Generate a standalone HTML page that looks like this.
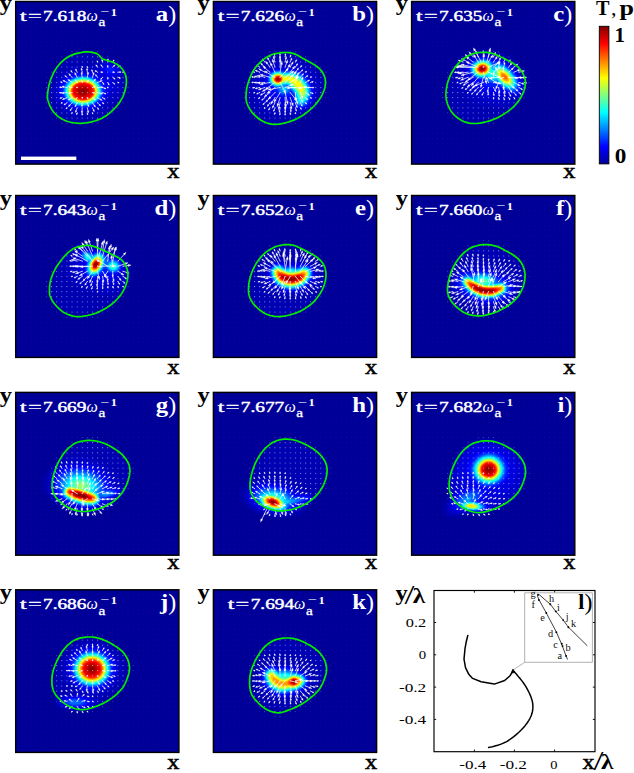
<!DOCTYPE html><html><head><meta charset="utf-8"><style>html,body{margin:0;padding:0;background:#fff}svg{display:block}</style></head><body>
<svg width="634" height="773" viewBox="0 0 634 773" font-family="'Liberation Serif', serif">
<defs><filter id="bl" x="-5%" y="-5%" width="110%" height="110%"><feGaussianBlur stdDeviation="4.5"/></filter>
<linearGradient id="cb" x1="0" y1="1" x2="0" y2="0">
<stop offset="0.0000" stop-color="#000098"/>
<stop offset="0.0312" stop-color="#0000b2"/>
<stop offset="0.0625" stop-color="#0000cb"/>
<stop offset="0.0938" stop-color="#0000e5"/>
<stop offset="0.1250" stop-color="#0000ff"/>
<stop offset="0.1562" stop-color="#0020ff"/>
<stop offset="0.1875" stop-color="#0040ff"/>
<stop offset="0.2188" stop-color="#0060ff"/>
<stop offset="0.2500" stop-color="#0080ff"/>
<stop offset="0.2812" stop-color="#009fff"/>
<stop offset="0.3125" stop-color="#00bfff"/>
<stop offset="0.3438" stop-color="#00dfff"/>
<stop offset="0.3750" stop-color="#00ffff"/>
<stop offset="0.4062" stop-color="#20ffdf"/>
<stop offset="0.4375" stop-color="#40ffbf"/>
<stop offset="0.4688" stop-color="#60ff9f"/>
<stop offset="0.5000" stop-color="#80ff80"/>
<stop offset="0.5312" stop-color="#9fff60"/>
<stop offset="0.5625" stop-color="#bfff40"/>
<stop offset="0.5938" stop-color="#dfff20"/>
<stop offset="0.6250" stop-color="#ffff00"/>
<stop offset="0.6562" stop-color="#ffdf00"/>
<stop offset="0.6875" stop-color="#ffbf00"/>
<stop offset="0.7188" stop-color="#ff9f00"/>
<stop offset="0.7500" stop-color="#ff8000"/>
<stop offset="0.7812" stop-color="#ff6000"/>
<stop offset="0.8125" stop-color="#ff4000"/>
<stop offset="0.8438" stop-color="#ff2000"/>
<stop offset="0.8750" stop-color="#ff0000"/>
<stop offset="0.9062" stop-color="#df0000"/>
<stop offset="0.9375" stop-color="#bf0000"/>
<stop offset="0.9688" stop-color="#9f0000"/>
<stop offset="1.0000" stop-color="#800000"/>
</linearGradient>
<clipPath id="ca"><rect x="15.7" y="1.5" width="163.2" height="162.6"/></clipPath>
<pattern id="da" x="15.45" y="5.40" width="5.1" height="5.1" patternUnits="userSpaceOnUse"><rect width="1" height="1" fill="#fff"/></pattern>
<mask id="ga"><path d="M47.4,95.6 47.6,93.9 47.8,92.0 48.1,89.8 48.5,87.6 48.9,85.4 49.5,83.3 50.1,81.2 50.8,79.1 51.7,77.0 52.6,75.0 53.5,72.9 54.6,71.0 55.8,69.1 57.0,67.3 58.4,65.5 59.8,63.8 61.3,62.2 62.8,60.8 64.4,59.5 66.0,58.3 67.7,57.2 69.4,56.2 71.2,55.4 73.1,54.6 75.0,53.9 77.2,53.3 79.4,52.8 81.5,52.5 83.5,52.2 85.4,51.9 87.0,51.8 88.4,51.8 89.7,52.0 90.9,52.1 92.1,52.3 93.2,52.6 94.2,52.8 95.1,53.1 96.0,53.4 96.8,53.7 97.5,54.1 98.3,54.6 99.0,55.2 99.6,55.9 100.2,56.7 100.8,57.4 101.5,58.1 102.2,58.7 103.0,59.1 103.8,59.5 104.7,59.7 105.6,60.0 106.5,60.2 107.5,60.6 108.5,60.9 109.6,61.2 110.7,61.5 111.9,61.9 113.0,62.3 114.1,62.8 115.1,63.4 116.2,64.0 117.3,64.6 118.3,65.3 119.3,66.1 120.2,66.9 121.1,67.8 122.0,68.8 122.8,69.8 123.5,70.9 124.2,72.0 124.7,73.1 125.2,74.2 125.6,75.3 125.9,76.5 126.1,77.7 126.3,78.9 126.4,80.2 126.4,81.6 126.3,83.1 126.2,84.7 126.0,86.2 125.7,87.8 125.3,89.5 124.9,91.1 124.3,92.8 123.7,94.6 123.0,96.3 122.1,98.1 121.2,99.7 120.3,101.3 119.2,102.9 118.0,104.5 116.8,106.0 115.5,107.5 114.1,108.9 112.6,110.4 111.0,111.9 109.3,113.3 107.5,114.7 105.7,116.0 103.8,117.1 101.9,118.2 99.9,119.1 97.8,119.9 95.7,120.7 93.6,121.3 91.5,121.9 89.5,122.3 87.4,122.7 85.4,123.0 83.3,123.2 81.3,123.3 79.2,123.3 77.1,123.2 75.0,123.0 72.9,122.7 70.8,122.3 68.8,121.8 66.9,121.2 65.2,120.6 63.5,119.8 61.9,119.0 60.4,118.1 59.0,117.1 57.7,116.1 56.4,115.0 55.3,113.9 54.2,112.7 53.2,111.4 52.3,110.2 51.5,108.9 50.8,107.7 50.2,106.5 49.7,105.3 49.2,104.1 48.8,102.9 48.5,101.8 48.1,100.8 47.8,99.9 47.6,99.0 47.5,98.1 47.4,97.0Z" fill="#fff" stroke="#fff" stroke-width="9" stroke-opacity="0.45"/></mask>
<clipPath id="cb"><rect x="213.4" y="1.5" width="163.2" height="162.6"/></clipPath>
<pattern id="db" x="213.25" y="5.40" width="5.1" height="5.1" patternUnits="userSpaceOnUse"><rect width="1" height="1" fill="#fff"/></pattern>
<mask id="gb"><path d="M246.0,97.7 246.0,95.9 246.1,93.9 246.3,91.8 246.5,89.7 246.9,87.5 247.4,85.4 248.0,83.2 248.8,80.9 249.6,78.6 250.5,76.3 251.5,74.1 252.6,72.0 253.7,70.1 255.0,68.3 256.3,66.5 257.8,64.8 259.2,63.3 260.8,61.8 262.3,60.4 263.9,59.1 265.6,57.9 267.4,56.8 269.2,55.9 271.0,55.0 273.0,54.3 275.0,53.7 277.2,53.3 279.3,53.0 281.4,52.7 283.3,52.6 285.2,52.5 287.0,52.5 288.7,52.7 290.4,52.9 292.0,53.2 293.6,53.6 295.1,54.1 296.5,54.7 297.9,55.4 299.2,56.2 300.5,57.0 301.8,57.7 303.0,58.4 304.2,59.0 305.4,59.7 306.6,60.4 307.8,61.1 308.9,61.8 310.2,62.4 311.4,63.1 312.6,63.7 313.8,64.4 315.0,65.1 316.1,65.9 317.2,66.8 318.4,67.7 319.5,68.7 320.5,69.8 321.4,70.9 322.3,72.0 323.0,73.3 323.7,74.6 324.3,75.9 324.7,77.4 325.1,78.8 325.3,80.2 325.5,81.7 325.5,83.2 325.3,84.7 325.1,86.3 324.8,87.9 324.3,89.5 323.7,91.1 323.0,92.8 322.2,94.6 321.3,96.3 320.3,98.1 319.2,99.7 318.0,101.3 316.8,102.9 315.5,104.5 314.1,106.0 312.6,107.5 311.0,108.9 309.3,110.4 307.5,111.9 305.6,113.3 303.7,114.7 301.7,116.0 299.7,117.1 297.7,118.2 295.7,119.2 293.7,120.1 291.6,120.9 289.5,121.6 287.4,122.3 285.2,122.9 283.0,123.4 280.7,123.8 278.4,124.1 276.2,124.3 274.1,124.3 272.1,124.2 270.1,123.8 268.2,123.4 266.3,122.8 264.5,122.1 262.8,121.2 261.1,120.3 259.4,119.2 257.8,118.0 256.3,116.7 254.9,115.4 253.6,114.1 252.4,112.8 251.3,111.4 250.4,110.0 249.5,108.6 248.7,107.2 248.0,105.9 247.5,104.5 247.0,103.3 246.6,102.0 246.3,100.7 246.1,99.3Z" fill="#fff" stroke="#fff" stroke-width="9" stroke-opacity="0.45"/></mask>
<clipPath id="cc"><rect x="411.6" y="1.5" width="163.2" height="162.6"/></clipPath>
<pattern id="dc" x="411.45" y="5.40" width="5.1" height="5.1" patternUnits="userSpaceOnUse"><rect width="1" height="1" fill="#fff"/></pattern>
<mask id="gc"><path d="M446.0,96.9 445.9,94.8 446.0,92.6 446.2,90.4 446.5,88.0 446.9,85.8 447.4,83.6 448.0,81.4 448.8,79.3 449.6,77.2 450.5,75.2 451.5,73.2 452.6,71.3 453.7,69.4 455.0,67.6 456.3,65.8 457.8,64.1 459.2,62.5 460.8,61.0 462.3,59.7 464.0,58.4 465.8,57.2 467.5,56.2 469.3,55.2 471.0,54.4 472.7,53.8 474.4,53.3 476.1,53.0 477.8,52.7 479.6,52.5 481.3,52.4 483.0,52.3 484.7,52.4 486.5,52.4 488.2,52.6 489.9,52.9 491.5,53.2 493.1,53.7 494.7,54.2 496.3,54.9 497.8,55.5 499.3,56.2 500.7,56.9 502.2,57.6 503.7,58.3 505.1,59.0 506.5,59.7 507.8,60.4 508.9,61.0 510.0,61.6 510.9,62.1 511.7,62.5 512.5,63.0 513.3,63.5 514.1,64.1 514.9,64.7 515.8,65.3 516.7,65.9 517.6,66.6 518.4,67.4 519.2,68.2 520.0,69.1 520.7,70.0 521.4,71.1 522.1,72.1 522.7,73.2 523.3,74.3 523.8,75.5 524.3,76.6 524.7,77.7 525.0,78.9 525.2,80.2 525.3,81.5 525.3,82.9 525.2,84.4 525.1,86.0 524.8,87.6 524.4,89.2 523.9,90.7 523.3,92.3 522.7,93.9 521.9,95.4 521.1,97.0 520.2,98.5 519.2,100.0 518.2,101.4 517.1,102.8 516.0,104.2 514.7,105.6 513.4,106.9 512.0,108.2 510.5,109.4 508.9,110.7 507.2,111.9 505.4,113.1 503.6,114.3 501.8,115.3 499.9,116.4 497.9,117.4 495.9,118.4 493.8,119.3 491.7,120.1 489.5,120.9 487.2,121.5 484.7,122.2 482.2,122.7 479.7,123.1 477.3,123.4 475.1,123.5 473.0,123.5 471.0,123.4 469.2,123.1 467.3,122.7 465.6,122.1 463.8,121.5 462.1,120.7 460.5,119.8 458.9,118.8 457.3,117.7 455.9,116.5 454.6,115.3 453.4,114.1 452.3,112.8 451.3,111.5 450.4,110.1 449.6,108.7 448.9,107.1 448.2,105.6 447.5,104.0 447.0,102.3 446.5,100.6 446.2,98.8Z" fill="#fff" stroke="#fff" stroke-width="9" stroke-opacity="0.45"/></mask>
<clipPath id="cd"><rect x="15.7" y="195.5" width="163.2" height="161.9"/></clipPath>
<pattern id="dd" x="15.45" y="199.40" width="5.1" height="5.1" patternUnits="userSpaceOnUse"><rect width="1" height="1" fill="#fff"/></pattern>
<mask id="gd"><path d="M49.5,291.9 49.5,290.3 49.5,288.6 49.6,286.6 49.8,284.6 50.1,282.6 50.5,280.6 51.1,278.6 51.8,276.6 52.6,274.5 53.5,272.4 54.6,270.3 55.6,268.3 56.8,266.3 58.1,264.4 59.5,262.4 60.9,260.5 62.4,258.7 63.8,257.0 65.3,255.4 66.8,253.9 68.3,252.4 69.9,251.1 71.5,249.9 73.1,248.8 74.7,248.0 76.5,247.3 78.3,246.8 80.0,246.4 81.7,246.0 83.3,245.8 84.8,245.5 86.2,245.4 87.5,245.4 88.9,245.4 90.2,245.5 91.5,245.8 92.9,246.1 94.3,246.6 95.7,247.1 97.1,247.7 98.4,248.3 99.7,248.8 101.0,249.3 102.2,249.9 103.4,250.4 104.6,250.9 105.8,251.4 106.9,251.9 108.0,252.4 109.0,252.9 110.0,253.4 111.0,254.0 112.0,254.5 113.0,255.0 114.1,255.5 115.1,255.9 116.2,256.4 117.2,256.9 118.2,257.4 119.2,258.1 120.1,258.8 121.1,259.5 122.0,260.4 122.8,261.2 123.6,262.2 124.3,263.2 125.0,264.3 125.6,265.4 126.2,266.6 126.7,267.8 127.1,269.1 127.4,270.4 127.6,271.6 127.8,272.9 127.9,274.3 127.9,275.6 127.8,277.1 127.6,278.6 127.3,280.2 126.9,281.9 126.4,283.6 125.8,285.4 125.1,287.1 124.3,288.8 123.5,290.4 122.6,292.0 121.6,293.6 120.6,295.1 119.4,296.6 118.2,298.0 116.8,299.5 115.4,300.9 113.9,302.3 112.3,303.7 110.6,305.0 108.9,306.2 107.2,307.4 105.4,308.5 103.5,309.6 101.6,310.6 99.6,311.6 97.7,312.4 95.7,313.2 93.6,313.9 91.5,314.5 89.3,315.0 87.3,315.5 85.4,315.9 83.5,316.2 81.8,316.5 80.2,316.7 78.5,316.7 76.9,316.7 75.1,316.5 73.3,316.1 71.3,315.6 69.3,314.9 67.4,314.2 65.5,313.3 63.8,312.4 62.2,311.4 60.7,310.2 59.3,309.0 58.0,307.7 56.8,306.5 55.6,305.2 54.6,304.0 53.7,302.8 52.8,301.6 52.1,300.4 51.5,299.2 50.9,298.0 50.5,297.0 50.1,296.1 49.8,295.2 49.7,294.3 49.5,293.2Z" fill="#fff" stroke="#fff" stroke-width="9" stroke-opacity="0.45"/></mask>
<clipPath id="ce"><rect x="213.4" y="195.5" width="163.2" height="161.9"/></clipPath>
<pattern id="de" x="213.25" y="199.40" width="5.1" height="5.1" patternUnits="userSpaceOnUse"><rect width="1" height="1" fill="#fff"/></pattern>
<mask id="ge"><path d="M248.5,290.9 248.5,289.1 248.6,287.1 248.7,285.0 249.0,282.8 249.4,280.7 249.9,278.6 250.4,276.5 251.1,274.4 251.8,272.3 252.7,270.3 253.6,268.3 254.6,266.3 255.7,264.3 257.0,262.3 258.4,260.3 259.8,258.4 261.3,256.6 262.8,255.0 264.4,253.5 266.0,252.1 267.7,250.9 269.5,249.7 271.3,248.7 273.1,247.8 274.9,247.0 276.8,246.3 278.8,245.8 280.7,245.3 282.6,245.0 284.3,244.7 286.0,244.6 287.6,244.6 289.1,244.6 290.6,244.8 292.1,245.0 293.6,245.3 295.0,245.8 296.4,246.3 297.8,246.9 299.1,247.5 300.5,248.2 301.8,248.8 303.0,249.4 304.3,250.1 305.5,250.7 306.7,251.3 307.8,251.9 308.9,252.5 310.0,253.1 311.1,253.7 312.1,254.2 313.2,254.8 314.1,255.4 315.1,256.0 316.0,256.6 316.9,257.3 317.8,257.9 318.6,258.6 319.4,259.3 320.2,260.1 321.0,261.0 321.8,261.9 322.5,262.9 323.2,264.0 323.8,265.1 324.3,266.3 324.8,267.5 325.2,268.8 325.5,270.1 325.7,271.5 325.9,273.0 326.0,274.5 325.9,276.1 325.8,277.7 325.6,279.5 325.2,281.2 324.8,283.0 324.3,284.7 323.7,286.4 323.0,288.2 322.2,289.9 321.3,291.6 320.3,293.3 319.2,295.0 318.0,296.6 316.8,298.2 315.5,299.8 314.1,301.3 312.6,302.8 311.0,304.2 309.3,305.5 307.5,306.9 305.6,308.1 303.7,309.3 301.7,310.4 299.7,311.4 297.7,312.3 295.7,313.1 293.6,313.8 291.5,314.4 289.4,315.0 287.4,315.5 285.5,315.9 283.6,316.2 281.7,316.4 279.9,316.6 278.0,316.6 276.1,316.5 274.2,316.3 272.3,315.9 270.4,315.5 268.5,314.9 266.6,314.2 264.9,313.4 263.2,312.5 261.5,311.3 259.9,310.1 258.3,308.8 256.9,307.5 255.6,306.2 254.5,305.1 253.5,303.9 252.6,302.7 251.8,301.5 251.1,300.3 250.5,299.1 249.9,297.8 249.5,296.6 249.1,295.3 248.8,293.9 248.6,292.5Z" fill="#fff" stroke="#fff" stroke-width="9" stroke-opacity="0.45"/></mask>
<clipPath id="cf"><rect x="411.6" y="195.5" width="163.2" height="161.9"/></clipPath>
<pattern id="df" x="411.45" y="199.40" width="5.1" height="5.1" patternUnits="userSpaceOnUse"><rect width="1" height="1" fill="#fff"/></pattern>
<mask id="gf"><path d="M447.6,291.9 447.5,290.2 447.5,288.4 447.6,286.5 447.9,284.6 448.2,282.6 448.6,280.6 449.1,278.6 449.6,276.6 450.2,274.5 451.0,272.4 451.8,270.3 452.7,268.3 453.7,266.3 454.8,264.4 455.9,262.4 457.2,260.5 458.5,258.7 459.9,257.0 461.3,255.4 462.7,253.9 464.3,252.5 465.9,251.1 467.5,249.9 469.1,248.8 470.7,247.9 472.5,247.1 474.2,246.5 476.0,246.0 477.7,245.5 479.3,245.1 480.9,244.9 482.5,244.7 484.0,244.6 485.5,244.6 487.0,244.6 488.6,244.7 490.1,244.9 491.7,245.2 493.2,245.5 494.8,245.9 496.3,246.3 497.8,246.8 499.2,247.3 500.6,248.0 502.0,248.7 503.4,249.4 504.7,250.2 506.0,250.9 507.3,251.6 508.5,252.2 509.7,252.9 510.9,253.5 512.0,254.2 513.2,255.0 514.3,255.8 515.4,256.5 516.4,257.4 517.5,258.2 518.4,259.1 519.3,260.1 520.2,261.2 520.9,262.3 521.7,263.5 522.3,264.7 522.9,266.0 523.4,267.3 523.9,268.6 524.3,269.9 524.6,271.2 524.9,272.6 525.0,274.0 525.1,275.5 525.0,277.1 524.9,278.8 524.7,280.5 524.3,282.2 523.9,284.0 523.4,285.7 522.8,287.5 522.1,289.2 521.3,291.0 520.4,292.7 519.4,294.4 518.3,296.0 517.1,297.5 515.9,299.0 514.5,300.4 513.1,301.7 511.6,303.0 510.1,304.2 508.5,305.4 506.9,306.5 505.2,307.5 503.4,308.5 501.6,309.5 499.8,310.3 498.0,311.2 496.2,312.0 494.3,312.7 492.4,313.4 490.5,313.9 488.6,314.4 486.7,314.9 484.8,315.3 482.9,315.6 481.0,315.8 479.2,315.9 477.3,315.9 475.4,315.7 473.5,315.5 471.5,315.1 469.6,314.7 467.8,314.1 466.0,313.4 464.3,312.6 462.7,311.7 461.1,310.6 459.6,309.5 458.1,308.4 456.8,307.3 455.5,306.1 454.4,305.0 453.3,303.8 452.3,302.6 451.4,301.4 450.6,300.1 449.9,298.8 449.2,297.6 448.6,296.2 448.2,294.9 447.8,293.4Z" fill="#fff" stroke="#fff" stroke-width="9" stroke-opacity="0.45"/></mask>
<clipPath id="cg"><rect x="15.7" y="392.4" width="163.2" height="162.8"/></clipPath>
<pattern id="dg" x="15.45" y="396.30" width="5.1" height="5.1" patternUnits="userSpaceOnUse"><rect width="1" height="1" fill="#fff"/></pattern>
<mask id="gg"><path d="M52.1,487.9 52.1,486.2 52.1,484.4 52.2,482.6 52.4,480.6 52.8,478.7 53.2,476.6 53.7,474.6 54.3,472.4 55.0,470.2 55.9,468.0 56.7,465.8 57.7,463.7 58.7,461.7 59.8,459.6 61.0,457.6 62.2,455.6 63.5,453.8 64.9,452.0 66.3,450.4 67.7,448.9 69.3,447.4 70.9,446.1 72.5,444.9 74.1,443.8 75.7,443.0 77.4,442.3 79.1,441.8 80.9,441.4 82.6,441.0 84.3,440.8 86.1,440.6 87.8,440.4 89.5,440.4 91.2,440.5 92.9,440.6 94.6,440.8 96.2,441.0 97.8,441.3 99.3,441.7 100.9,442.2 102.4,442.7 103.8,443.2 105.3,443.8 106.7,444.4 108.0,445.1 109.4,445.8 110.7,446.6 112.0,447.3 113.3,448.1 114.5,448.8 115.8,449.6 117.0,450.4 118.1,451.2 119.2,452.0 120.2,452.9 121.2,453.8 122.2,454.7 123.1,455.6 123.9,456.6 124.7,457.6 125.5,458.6 126.3,459.7 127.1,460.9 127.7,462.0 128.3,463.2 128.8,464.3 129.2,465.5 129.5,466.6 129.7,467.8 129.8,469.0 129.9,470.2 129.9,471.5 129.7,472.9 129.6,474.4 129.3,475.9 128.9,477.5 128.5,479.1 128.0,480.7 127.4,482.4 126.8,484.1 126.1,485.9 125.2,487.6 124.3,489.3 123.3,491.0 122.2,492.6 120.9,494.3 119.5,495.9 118.1,497.4 116.6,498.9 115.1,500.2 113.5,501.5 111.9,502.6 110.2,503.6 108.4,504.6 106.6,505.5 104.8,506.4 103.0,507.2 101.2,507.9 99.3,508.5 97.4,509.1 95.5,509.6 93.6,510.1 91.7,510.5 89.8,510.9 87.9,511.2 86.0,511.4 84.2,511.5 82.3,511.5 80.4,511.3 78.5,511.0 76.5,510.6 74.6,510.1 72.8,509.5 71.0,508.8 69.3,508.1 67.7,507.3 66.1,506.3 64.6,505.4 63.2,504.3 61.8,503.3 60.5,502.2 59.2,501.1 58.0,499.9 56.9,498.6 55.9,497.4 55.0,496.1 54.3,494.8 53.6,493.6 53.1,492.3 52.7,490.9 52.4,489.5Z" fill="#fff" stroke="#fff" stroke-width="9" stroke-opacity="0.45"/></mask>
<clipPath id="ch"><rect x="213.4" y="392.4" width="163.2" height="162.8"/></clipPath>
<pattern id="dh" x="213.25" y="396.30" width="5.1" height="5.1" patternUnits="userSpaceOnUse"><rect width="1" height="1" fill="#fff"/></pattern>
<mask id="gh"><path d="M250.0,486.9 250.0,485.2 250.1,483.4 250.2,481.6 250.5,479.6 250.8,477.6 251.2,475.6 251.8,473.5 252.4,471.2 253.1,469.0 253.9,466.7 254.8,464.4 255.8,462.3 256.8,460.3 257.9,458.3 259.1,456.3 260.3,454.5 261.6,452.7 262.9,451.0 264.3,449.4 265.8,447.9 267.4,446.4 268.9,445.1 270.5,443.9 272.2,442.8 273.8,441.9 275.5,441.2 277.2,440.5 279.0,440.0 280.7,439.6 282.4,439.3 284.1,439.1 285.9,439.1 287.6,439.1 289.3,439.3 291.0,439.5 292.7,439.7 294.3,440.1 295.9,440.5 297.4,441.0 298.9,441.6 300.4,442.2 301.9,442.8 303.3,443.4 304.7,444.1 306.1,444.7 307.5,445.4 308.8,446.2 310.1,446.9 311.4,447.7 312.6,448.5 313.8,449.3 315.0,450.2 316.2,451.1 317.3,452.0 318.3,453.0 319.4,454.0 320.4,455.0 321.3,456.0 322.2,457.1 323.0,458.2 323.8,459.3 324.5,460.5 325.1,461.6 325.6,462.9 326.1,464.1 326.5,465.4 326.8,466.7 327.0,468.0 327.1,469.3 327.1,470.7 327.0,472.1 326.9,473.6 326.7,475.0 326.4,476.6 326.0,478.1 325.6,479.7 325.0,481.2 324.4,482.8 323.8,484.3 323.1,485.9 322.2,487.5 321.4,489.0 320.4,490.5 319.3,492.0 318.2,493.5 316.9,494.9 315.5,496.3 314.1,497.7 312.6,499.0 311.1,500.2 309.5,501.4 307.9,502.5 306.2,503.6 304.4,504.6 302.7,505.5 300.9,506.4 299.0,507.1 297.2,507.8 295.3,508.4 293.4,509.0 291.5,509.5 289.6,509.9 287.7,510.2 285.8,510.5 284.0,510.8 282.1,510.9 280.2,511.0 278.3,510.9 276.4,510.7 274.5,510.3 272.5,509.9 270.6,509.3 268.8,508.7 267.0,508.0 265.3,507.2 263.7,506.4 262.1,505.4 260.5,504.4 259.1,503.3 257.8,502.3 256.6,501.2 255.5,500.0 254.5,498.8 253.6,497.6 252.8,496.4 252.1,495.1 251.5,493.8 251.0,492.6 250.6,491.2 250.3,489.9 250.1,488.4Z" fill="#fff" stroke="#fff" stroke-width="9" stroke-opacity="0.45"/></mask>
<clipPath id="ci"><rect x="411.6" y="392.4" width="163.2" height="162.8"/></clipPath>
<pattern id="di" x="411.45" y="396.30" width="5.1" height="5.1" patternUnits="userSpaceOnUse"><rect width="1" height="1" fill="#fff"/></pattern>
<mask id="gi"><path d="M449.2,486.9 449.1,485.1 449.2,483.3 449.3,481.4 449.5,479.5 449.8,477.6 450.2,475.6 450.7,473.6 451.4,471.6 452.1,469.5 452.9,467.4 453.8,465.3 454.7,463.3 455.7,461.3 456.9,459.3 458.0,457.4 459.3,455.5 460.6,453.7 461.9,452.0 463.3,450.5 464.8,449.1 466.3,447.7 467.9,446.5 469.5,445.4 471.1,444.4 472.8,443.6 474.5,442.9 476.2,442.3 477.9,441.9 479.7,441.5 481.4,441.2 483.1,440.9 484.8,440.8 486.6,440.8 488.3,440.8 490.0,441.0 491.6,441.2 493.2,441.4 494.8,441.8 496.4,442.2 497.9,442.7 499.4,443.3 500.9,443.8 502.3,444.4 503.8,445.1 505.2,445.8 506.5,446.5 507.8,447.2 509.1,447.9 510.2,448.6 511.3,449.2 512.3,449.9 513.3,450.5 514.2,451.2 515.2,452.0 516.2,452.9 517.2,453.9 518.2,454.9 519.2,456.0 520.1,457.1 521.0,458.2 521.7,459.3 522.5,460.5 523.1,461.6 523.7,462.9 524.2,464.1 524.7,465.4 525.0,466.7 525.3,468.0 525.4,469.3 525.5,470.7 525.6,472.1 525.5,473.6 525.3,475.0 525.0,476.6 524.6,478.1 524.1,479.7 523.6,481.2 523.0,482.8 522.4,484.3 521.7,485.9 521.0,487.5 520.2,489.0 519.3,490.5 518.3,492.0 517.2,493.5 515.9,494.9 514.5,496.3 513.1,497.7 511.6,499.0 510.1,500.2 508.5,501.4 506.9,502.5 505.2,503.5 503.4,504.5 501.6,505.5 499.8,506.4 498.0,507.3 496.2,508.1 494.3,508.9 492.4,509.7 490.5,510.3 488.6,510.9 486.7,511.4 484.8,511.8 482.9,512.2 481.0,512.4 479.2,512.6 477.3,512.5 475.4,512.3 473.5,512.0 471.5,511.5 469.6,510.9 467.8,510.2 466.0,509.4 464.3,508.6 462.6,507.7 461.0,506.6 459.5,505.5 458.1,504.4 456.8,503.3 455.6,502.2 454.5,501.1 453.6,499.9 452.7,498.7 451.9,497.4 451.2,496.1 450.7,494.7 450.2,493.3 449.8,491.8 449.5,490.2 449.3,488.6Z" fill="#fff" stroke="#fff" stroke-width="9" stroke-opacity="0.45"/></mask>
<clipPath id="cj"><rect x="15.7" y="589.8" width="163.2" height="162.6"/></clipPath>
<pattern id="dj" x="15.45" y="593.70" width="5.1" height="5.1" patternUnits="userSpaceOnUse"><rect width="1" height="1" fill="#fff"/></pattern>
<mask id="gj"><path d="M51.9,683.0 51.9,681.3 51.9,679.5 52.0,677.6 52.2,675.7 52.5,673.7 53.0,671.8 53.5,669.8 54.2,667.7 54.9,665.6 55.8,663.5 56.7,661.5 57.7,659.5 58.7,657.5 59.8,655.5 61.0,653.5 62.2,651.6 63.5,649.9 64.9,648.2 66.3,646.6 67.7,645.2 69.3,643.8 70.9,642.5 72.5,641.4 74.1,640.4 75.7,639.6 77.4,638.9 79.1,638.4 80.9,637.9 82.6,637.6 84.3,637.3 86.1,637.1 87.8,637.0 89.5,637.0 91.2,637.0 92.9,637.1 94.6,637.3 96.2,637.6 97.8,638.0 99.3,638.4 100.9,638.9 102.4,639.4 103.8,640.0 105.3,640.6 106.7,641.2 108.0,641.9 109.4,642.6 110.7,643.3 112.0,644.1 113.3,644.8 114.5,645.6 115.8,646.4 117.0,647.1 118.1,648.0 119.2,648.8 120.2,649.7 121.2,650.5 122.2,651.4 123.1,652.3 123.9,653.3 124.7,654.3 125.5,655.4 126.2,656.6 126.9,657.8 127.5,659.0 128.0,660.2 128.4,661.5 128.8,662.8 129.1,664.1 129.3,665.5 129.5,666.9 129.5,668.3 129.4,669.7 129.3,671.2 129.0,672.7 128.6,674.3 128.1,675.8 127.6,677.4 127.0,678.9 126.4,680.5 125.7,682.1 125.0,683.6 124.2,685.2 123.3,686.7 122.3,688.2 121.1,689.6 119.9,691.0 118.5,692.4 117.1,693.8 115.6,695.1 114.1,696.4 112.5,697.6 110.8,698.7 109.1,699.9 107.4,700.9 105.6,702.0 103.8,702.9 102.0,703.9 100.1,704.7 98.2,705.6 96.3,706.3 94.4,707.0 92.5,707.6 90.7,708.2 88.8,708.7 86.9,709.2 85.0,709.5 83.1,709.7 81.3,709.7 79.4,709.5 77.4,709.2 75.5,708.7 73.6,708.1 71.7,707.4 70.0,706.6 68.3,705.8 66.7,704.9 65.1,703.9 63.6,702.8 62.1,701.7 60.8,700.5 59.5,699.2 58.2,697.9 57.0,696.6 56.0,695.2 55.0,693.7 54.2,692.3 53.5,690.8 53.0,689.3 52.6,687.8 52.3,686.3 52.1,684.7Z" fill="#fff" stroke="#fff" stroke-width="9" stroke-opacity="0.45"/></mask>
<clipPath id="ck"><rect x="213.4" y="589.8" width="163.2" height="162.6"/></clipPath>
<pattern id="dk" x="213.25" y="593.70" width="5.1" height="5.1" patternUnits="userSpaceOnUse"><rect width="1" height="1" fill="#fff"/></pattern>
<mask id="gk"><path d="M249.6,684.1 249.6,682.3 249.6,680.4 249.7,678.6 249.9,676.7 250.2,674.7 250.6,672.8 251.2,670.8 251.8,668.7 252.6,666.6 253.5,664.6 254.4,662.5 255.3,660.5 256.4,658.5 257.5,656.5 258.7,654.6 259.9,652.7 261.2,650.9 262.5,649.2 263.9,647.7 265.4,646.2 266.9,644.8 268.5,643.5 270.1,642.4 271.8,641.4 273.4,640.6 275.1,639.9 276.8,639.4 278.5,639.0 280.3,638.6 282.0,638.3 283.7,638.1 285.5,638.0 287.2,638.0 288.9,638.0 290.6,638.2 292.3,638.3 293.8,638.6 295.4,639.0 296.9,639.4 298.4,639.9 299.8,640.5 301.3,641.0 302.7,641.6 304.1,642.3 305.5,642.9 306.9,643.7 308.2,644.4 309.5,645.1 310.7,645.8 311.9,646.5 313.0,647.3 314.1,648.0 315.2,648.8 316.2,649.6 317.3,650.5 318.3,651.4 319.2,652.3 320.1,653.3 321.0,654.3 321.8,655.4 322.5,656.5 323.2,657.6 323.9,658.8 324.5,660.0 325.0,661.3 325.5,662.5 325.8,663.8 326.1,665.2 326.4,666.5 326.5,667.9 326.6,669.3 326.5,670.7 326.3,672.2 326.0,673.7 325.6,675.3 325.2,676.9 324.6,678.4 324.0,680.0 323.4,681.5 322.8,683.1 322.0,684.6 321.2,686.2 320.3,687.7 319.3,689.2 318.2,690.6 316.9,692.0 315.6,693.4 314.1,694.8 312.6,696.1 311.1,697.4 309.5,698.7 307.9,699.9 306.2,701.2 304.4,702.4 302.7,703.5 300.9,704.6 299.0,705.6 297.2,706.5 295.3,707.4 293.4,708.2 291.5,709.0 289.6,709.7 287.7,710.4 285.8,711.1 284.0,711.8 282.1,712.3 280.2,712.6 278.3,712.8 276.4,712.7 274.5,712.4 272.5,711.9 270.6,711.3 268.8,710.5 267.0,709.7 265.3,708.8 263.7,707.6 262.1,706.4 260.6,705.1 259.1,703.8 257.8,702.5 256.6,701.2 255.4,699.9 254.3,698.6 253.3,697.2 252.4,695.8 251.7,694.3 251.0,692.7 250.6,691.1 250.2,689.4 249.9,687.6 249.7,685.9Z" fill="#fff" stroke="#fff" stroke-width="9" stroke-opacity="0.45"/></mask>
</defs>
<rect width="634" height="773" fill="#fff"/>
<g clip-path="url(#ca)">
<rect x="15.7" y="1.5" width="163.2" height="162.6" fill="#000098"/>
<g filter="url(#bl)" transform="scale(0.1)"><path fill="#0000a2" d="M825,515l31,-3 30,0 30,3 25,6 30,12 37,22 18,9 20,6 60,13 30,9 35,16 25,16 20,17 18,19 14,20 12,25 8,25 12,55 3,30-1,30-6,40-11,40-17,40-20,35-24,35-41,50-37,37-35,29-35,24-40,22-40,17-40,12-45,11-40,6-40,2-45,-2-35,-4-30,-6-30,-9-30,-11-30,-15-25,-16-22,-17-21,-20-21,-25-17,-25-17,-30-12,-30-10,-30-5,-25-2,-25 1,-30 5,-40 9,-40 10,-35 15,-40 17,-35 20,-35 25,-35 25,-30 20,-22 25,-21 30,-21 30,-17 30,-13 30,-10 35,-9 39,-7z"/>
<path fill="#0000b3" d="M820,550l51,-5 45,5 30,9 30,14 30,10 80,13 30,7 30,11 30,17 20,15 19,19 14,20 10,20 9,35 1,30 7,35 0,35-4,35-10,35-14,35-19,35-28,38-45,52-29,30-29,25-32,22-30,18-35,16-40,14-40,10-40,7-40,3-40,0-60,-8-27,-7-29,-10-24,-10-26,-15-24,-17-20,-18-20,-21-18,-24-14,-25-13,-26-10,-29-5,-25-3,-25 1,-25 4,-35 6,-35 10,-35 12,-35 15,-33 16,-27 19,-30 25,-31 23,-24 22,-20 28,-20 27,-17 29,-13 28,-10 33,-9 34,-6z"/>
<path fill="#0000bf" d="M1002,610l29,-3 40,0 30,5 30,9 25,12 24,17 20,20 14,20 10,25 3,20-2,25-8,20 7,35 0,40-6,30-9,25-13,26-15,22-15,18-20,19-20,14-29,16-14,20-18,20-19,18-22,17-24,15-29,15-30,11-30,9-35,7-40,3-40,-1-35,-5-35,-8-35,-13-35,-18-30,-20-35,-32-28,-38-20,-45-9,-40 0,-50 10,-40 22,-50 22,-35 23,-26 30,-25 30,-18 35,-16 40,-12 45,-8 45,-2 50,4 35,-13 35,-7 5,-3 6,-9 11,-10 9,-5 15,-5z"/>
<path fill="#0000ce" d="M1047,620l24,-1 30,4 30,10 25,13 24,19 16,20 9,20 4,25-2,15-7,15-9,10-22,15 10,30 2,30-5,30-12,30-14,20-19,20-20,15-25,14-20,37-29,34-21,18-25,16-25,13-25,10-25,8-30,7-30,3-30,1-30,-1-30,-5-30,-7-25,-8-25,-11-25,-14-25,-18-20,-18-23,-29-17,-30-11,-35-3,-35 4,-35 12,-35 18,-31 25,-29 25,-21 31,-19 34,-16 35,-11 35,-7 40,-3 40,1 45,6 35,-13 40,-8 6,-29 4,-10 8,-10 17,-12 15,-5 16,-3z"/>
<path fill="#0000e0" d="M1056,635l20,-2 25,3 25,8 21,11 19,15 15,20 7,20 1,15-2,10-6,10-16,15-24,9-35,3-3,3 15,20 9,25 2,25-5,25-6,15-10,15-12,12-15,12-11,41-14,30-18,25-20,20-19,15-23,15-25,12-25,10-25,7-30,5-55,2-30,-2-25,-5-50,-16-25,-12-20,-12-20,-15-19,-19-20,-25-15,-30-9,-30-2,-35 5,-35 12,-30 19,-30 24,-25 30,-23 35,-19 40,-15 40,-8 40,-3 40,2 35,6 50,15 35,-7 40,0 1,-3-11,-15-6,-15-2,-15 2,-15 6,-12 10,-11 13,-7 17,-5zM1031,735zM1101,770z"/>
<path fill="#0000f5" d="M1079,650l17,1 20,5 20,10 16,14 10,15 4,15-2,15-11,15-12,7-15,4-15,1-15,-2-15,-4-15,-7-11,-9-10,-10-7,-10-5,-15 0,-10 3,-10 6,-10 9,-7 15,-6 13,-2zM826,730l45,3 40,8 45,18 40,24 20,3 15,4 15,9 10,11 7,10 4,15-1,15-8,20 5,40-3,35-14,35-12,20-12,15-14,15-19,15-23,15-20,10-25,9-25,7-50,8-45,-1-45,-8-42,-15-38,-21-18,-14-16,-15-23,-30-16,-35-6,-35 2,-35 6,-20 6,-17 22,-33 28,-29 35,-23 40,-18 45,-11 45,-4z"/>
<path fill="#0012ff" d="M1076,670l10,-2 15,1 15,5 10,7 10,9 5,10 1,10-6,12-11,8-19,3-20,-5-15,-9-11,-14-2,-15 4,-10 5,-5 9,-5zM794,745l37,-2 35,2 35,7 35,12 30,16 27,20 23,25 16,25 10,25 5,30-2,30-9,30-13,25-22,26-25,21-30,18-45,17-45,8-50,0-45,-7-45,-17-35,-21-18,-15-14,-15-12,-15-11,-19-6,-16-5,-20-2,-35 8,-35 10,-20 10,-17 15,-18 15,-14 35,-23 40,-17 48,-11z"/>
<path fill="#0038ff" d="M791,760l25,-3 40,0 30,6 35,11 20,9 30,20 28,27 14,20 11,25 5,25 0,25-6,25-14,30-15,20-23,21-25,17-20,10-25,9-45,9-40,2-40,-6-45,-15-35,-20-25,-22-17,-20-9,-15-11,-30-3,-30 4,-30 10,-25 9,-15 22,-27 35,-26 30,-15 15,-5 35,-7z"/>
<path fill="#0066ff" d="M790,765l31,-3 35,1 30,5 30,10 30,14 25,18 20,20 15,20 11,25 5,25 0,25-5,25-12,25-14,20-21,20-24,17-39,18-41,10-45,2-40,-4-40,-12-35,-19-30,-24-21,-28-13,-30-3,-15-2,-20 2,-20 4,-15 14,-30 24,-29 30,-23 35,-17 44,-11z"/>
<path fill="#0099ff" d="M795,770l31,-3 30,2 30,5 30,10 25,13 25,17 20,21 14,20 9,20 6,25 0,25-6,25-12,25-15,20-21,19-25,16-35,15-40,9-40,2-40,-4-40,-13-34,-19-29,-25-18,-25-12,-30-3,-15 0,-20 6,-30 15,-30 11,-15 14,-14 30,-21 35,-16 39,-9z"/>
<path fill="#00ccff" d="M802,775l29,-2 30,2 30,7 30,11 25,14 23,18 17,20 11,20 9,25 2,25-4,25-7,20-12,20-17,20-22,17-25,14-35,13-40,6-40,0-35,-7-35,-13-32,-20-25,-25-16,-25-9,-30-1,-30 7,-30 16,-28 25,-26 30,-20 35,-14 36,-7z"/>
<path fill="#00ffff" d="M809,780l27,-1 30,3 30,8 26,10 24,15 20,17 15,19 13,24 5,20 1,25-5,25-9,20-13,20-21,20-21,14-25,12-35,10-35,4-40,-3-35,-8-30,-14-29,-20-22,-25-13,-25-7,-25 1,-30 10,-30 16,-25 24,-24 27,-16 33,-13 38,-7z"/>
<path fill="#33ffcc" d="M821,785l30,1 30,5 30,11 24,13 20,15 17,20 12,20 8,25 1,25-4,20-11,25-14,20-18,16-25,16-25,11-30,8-35,3-35,-3-30,-7-30,-13-25,-17-20,-20-14,-24-8,-25-1,-30 6,-25 14,-25 17,-20 21,-16 30,-16 30,-9 35,-4z"/>
<path fill="#66ff99" d="M789,795l27,-4 25,0 25,3 25,6 25,11 20,12 15,13 15,18 10,16 7,20 3,20-2,20-6,20-11,20-13,15-18,16-30,17-30,10-35,5-35,-1-35,-7-30,-13-25,-17-23,-25-13,-25-5,-25 2,-30 9,-25 19,-25 21,-19 30,-16 33,-10z"/>
<path fill="#99ff66" d="M793,800l23,-3 25,0 25,3 25,7 20,8 20,13 20,17 11,15 8,15 7,20 1,20-3,20-7,20-10,15-13,15-19,15-29,15-31,9-30,4-35,-3-30,-7-30,-13-25,-19-18,-21-12,-25-4,-25 2,-25 11,-25 16,-22 21,-18 29,-16 32,-9z"/>
<path fill="#ccff33" d="M798,805l23,-3 25,1 25,4 20,6 20,9 19,13 16,15 11,15 8,15 5,20 0,20-2,15-8,20-10,15-15,15-19,14-25,12-30,8-35,3-30,-3-30,-9-25,-13-22,-17-16,-20-9,-20-5,-25 3,-25 11,-25 15,-20 23,-18 25,-13 32,-9z"/>
<path fill="#ffff00" d="M804,810l22,-2 20,1 25,4 20,7 20,10 15,10 16,15 10,15 7,15 4,20-1,20-4,15-7,15-10,15-16,15-19,12-25,11-30,7-30,1-25,-3-30,-10-24,-13-18,-15-15,-20-9,-20-3,-25 4,-25 10,-20 17,-20 20,-15 28,-13 28,-7z"/>
<path fill="#ffcc00" d="M805,815l21,-2 20,1 20,3 20,6 20,10 15,10 17,17 10,15 6,15 3,20-2,20-5,15-9,15-13,15-17,13-15,9-30,10-25,4-20,0-30,-4-25,-9-25,-15-18,-18-13,-20-6,-20-1,-20 7,-25 8,-15 13,-15 20,-16 25,-12 29,-7z"/>
<path fill="#ff9900" d="M797,820l19,-3 20,0 20,2 20,5 20,8 15,9 15,12 11,12 8,15 5,15 2,20-2,15-5,15-9,15-10,11-15,12-25,14-25,7-25,3-30,-1-25,-6-25,-12-20,-14-15,-18-10,-21-3,-20 2,-20 7,-20 14,-20 19,-15 21,-12 26,-8z"/>
<path fill="#ff6600" d="M792,825l19,-4 20,-1 35,5 20,6 15,8 15,10 11,11 11,15 7,15 3,15 0,15-4,15-7,15-11,15-10,10-20,13-25,10-25,5-25,1-25,-4-25,-8-20,-12-20,-17-13,-23-6,-20 1,-20 6,-20 12,-19 15,-14 20,-13 26,-9z"/>
<path fill="#ff3300" d="M809,825l42,0 20,5 15,5 10,5 20,15 15,18 10,22 2,15-2,18-5,14-10,16-11,12-14,11-32,14-26,5-26,0-26,-5-25,-10-15,-9-15,-14-10,-14-5,-13-5,-25 5,-24 9,-16 11,-13 15,-12 31,-15 22,-5z"/>
<path fill="#ff0800" d="M796,835l30,-4 35,3 30,12 14,9 11,11 10,14 5,10 3,15 0,15-4,15-4,10-10,13-10,10-18,12-22,8-20,5-25,0-22,-3-23,-8-20,-12-15,-15-9,-15-6,-20 0,-20 5,-15 10,-16 15,-15 20,-12 20,-7z"/>
<path fill="#e80000" d="M820,840l31,2 30,10 14,8 11,10 7,10 7,15 2,10 0,15-4,15-5,10-8,10-12,10-27,14-20,4-20,1-20,-2-20,-6-15,-8-15,-12-9,-11-7,-15-3,-15 1,-15 6,-15 10,-15 12,-11 16,-9 19,-7 19,-3z"/>
<path fill="#cf0000" d="M807,855l24,-3 25,4 21,9 18,15 6,10 4,10 1,20-8,20-15,15-12,7-15,6-15,3-20,0-15,-2-15,-5-14,-9-11,-10-7,-10-5,-15 0,-15 5,-15 6,-10 11,-11 15,-9 16,-5z"/>
<path fill="#b80000" d="M824,865l22,1 20,8 14,11 9,15 2,10-1,10-7,15-12,11-20,10-25,3-25,-5-10,-5-10,-9-9,-15-3,-10 1,-10 3,-10 7,-10 11,-10 10,-5 23,-5z"/>
<path fill="#a30000" d="M808,880l18,-4 15,1 15,5 10,8 8,10 2,10-3,15-7,9-15,10-20,4-20,-3-17,-10-9,-15-1,-15 9,-15 15,-10z"/>
<path fill="#910000" d="M816,895l15,-3 15,5 8,8 1,10-1,5-8,7-10,4-15,0-10,-5-5,-6-2,-10 5,-10 7,-5z"/>
<path fill="#850000" d="M825,905l6,-1 5,2 4,4 0,5-9,5-5,0-5,-4-1,-6 5,-5z"/></g>
<rect x="15.7" y="1.5" width="163.2" height="162.6" fill="url(#da)" opacity="0.035"/>
<rect x="15.7" y="1.5" width="163.2" height="162.6" fill="url(#da)" opacity="0.55" mask="url(#ga)"/>
<path d="M97.5,62.0L97.4,61.7M102.6,62.0L102.2,60.3M107.8,62.0L107.9,59.9M112.8,62.0L113.6,60.7M82.2,67.1L82.2,67.1M87.3,67.1L87.4,67.2M97.5,67.1L96.5,65.8M102.6,67.1L101.5,65.6M107.8,67.1L107.7,66.2M112.8,67.1L114.1,65.8M118.0,67.1L119.6,66.3M72.0,72.2L71.4,71.3M77.1,72.2L76.1,69.9M82.2,72.2L81.6,69.4M87.3,72.2L87.1,69.5M92.5,72.2L92.1,70.6M97.5,72.2L95.9,71.1M102.6,72.2L101.5,72.1M112.8,72.2L113.8,72.2M118.0,72.2L120.1,72.1M123.0,72.2L123.1,72.2M67.0,77.3L65.7,76.3M72.0,77.3L69.8,74.9M77.1,77.3L75.5,74.1M82.2,77.3L81.7,73.9M87.3,77.3L87.9,73.8M92.5,77.3L93.5,74.0M97.5,77.3L96.1,75.4M102.6,77.3L101.3,78.8M107.8,77.3L107.8,78.4M112.8,77.3L114.3,78.5M118.0,77.3L119.6,77.8M61.9,82.4L61.3,82.2M67.0,82.4L64.2,81.0M72.0,82.4L69.3,80.3M77.1,82.4L75.9,80.7M82.2,82.4L82.1,81.4M87.3,82.4L88.0,80.9M92.5,82.4L94.7,80.2M97.5,82.4L100.8,81.2M102.6,82.4L103.5,83.7M107.8,82.4L108.6,84.2M112.8,82.4L114.0,83.6M118.0,82.4L118.2,82.5M61.9,87.5L60.4,87.3M67.0,87.5L63.5,86.8M72.0,87.5L69.5,86.7M77.1,87.5L77.1,87.5M92.5,87.5L94.2,86.9M97.5,87.5L101.1,87.3M102.6,87.5L104.9,88.4M107.8,87.5L107.6,87.4M61.9,92.6L60.2,92.7M67.0,92.6L63.4,93.0M72.0,92.6L69.6,92.9M92.5,92.6L93.9,92.9M97.5,92.6L101.0,93.4M102.6,92.6L105.1,93.6M61.9,97.7L60.9,98.0M67.0,97.7L63.8,99.0M72.0,97.7L69.4,99.3M77.1,97.7L76.5,98.4M82.2,97.7L82.3,97.6M87.3,97.7L87.6,98.1M92.5,97.7L94.6,99.3M97.5,97.7L100.6,99.5M102.6,97.7L104.4,98.7M61.9,102.8L61.8,102.8M67.0,102.8L64.9,104.3M72.0,102.8L69.6,105.4M77.1,102.8L75.7,105.6M82.2,102.8L82.0,105.5M87.3,102.8L88.3,105.6M92.5,102.8L94.5,105.7M97.5,102.8L99.7,104.9M102.6,102.8L103.1,103.2M67.0,107.9L66.6,108.2M72.0,107.9L70.7,109.9M77.1,107.9L76.0,111.0M82.2,107.9L82.0,111.4M87.3,107.9L88.1,111.2M92.5,107.9L93.7,110.4M97.5,107.9L98.1,108.7M72.0,113.0L72.1,112.9M77.1,113.0L76.9,113.8M82.2,113.0L82.2,114.2M87.3,113.0L87.5,114.0M92.5,113.0L92.5,113.2" stroke="#fff" stroke-width="0.75" stroke-linecap="round" fill="none"/><path d="M97.0,60.6L98.1,61.8L97.0,62.2ZM101.9,59.2L102.9,60.5L101.6,60.8ZM108.1,58.7L108.6,60.3L107.2,60.1ZM114.1,59.7L114.0,61.3L112.8,60.7ZM81.9,65.9L82.9,67.2L81.8,67.5ZM87.1,66.1L88.0,67.4L86.9,67.7ZM95.8,64.8L97.3,65.6L96.2,66.4ZM100.7,64.6L102.2,65.4L101.1,66.2ZM107.7,65.0L108.4,66.5L107.1,66.5ZM115.0,65.0L114.4,66.5L113.4,65.6ZM120.6,65.7L119.6,67.0L119.0,65.8ZM70.7,70.3L72.1,71.1L71.0,71.9ZM75.6,68.8L76.9,69.9L75.6,70.5ZM81.3,68.0L82.4,69.5L80.9,69.9ZM87.0,68.2L87.9,69.8L86.4,69.9ZM91.8,69.4L92.8,70.8L91.5,71.1ZM94.9,70.5L96.5,70.7L95.7,71.9ZM100.3,72.1L101.8,71.5L101.8,72.8ZM115.0,72.2L113.5,72.8L113.5,71.6ZM121.3,72.0L119.8,72.8L119.7,71.4ZM124.3,72.1L122.8,72.8L122.7,71.7ZM64.7,75.6L66.3,76.0L65.5,77.0ZM68.7,73.6L70.6,74.5L69.4,75.6ZM74.6,72.4L76.4,74.0L74.9,74.8ZM81.5,72.1L82.6,74.1L81.0,74.3ZM88.2,72.0L88.7,74.2L87.0,74.0ZM94.0,72.2L94.2,74.5L92.6,74.0ZM95.4,74.5L96.9,75.2L95.7,76.1ZM100.5,79.7L101.0,78.1L102.0,79.0ZM107.9,79.6L107.2,78.2L108.4,78.1ZM115.2,79.3L113.6,78.9L114.5,77.8ZM120.7,78.2L119.1,78.4L119.5,77.1ZM60.2,81.8L61.8,81.7L61.4,82.9ZM62.7,80.3L64.8,80.5L64.1,81.9ZM67.8,79.3L70.0,79.9L69.0,81.2ZM75.2,79.7L76.6,80.5L75.5,81.3ZM82.0,80.2L82.8,81.6L81.5,81.8ZM88.5,79.8L88.5,81.4L87.3,80.9ZM95.9,79.0L95.0,80.9L93.9,79.8ZM102.5,80.6L100.8,82.1L100.2,80.6ZM104.1,84.8L102.7,83.8L103.9,83.1ZM109.2,85.3L107.9,84.2L109.1,83.6ZM114.9,84.4L113.4,83.8L114.3,82.9ZM119.3,83.1L117.7,82.9L118.2,81.9ZM59.2,87.1L60.8,86.7L60.6,88.0ZM61.7,86.4L63.9,86.0L63.6,87.7ZM68.2,86.3L70.0,86.1L69.5,87.5ZM76.1,86.9L77.7,87.2L77.1,88.1ZM95.3,86.5L94.2,87.6L93.7,86.3ZM103.0,87.1L100.9,88.1L100.8,86.4ZM106.1,88.8L104.4,88.9L104.9,87.6ZM108.6,88.1L107.0,87.7L107.7,86.8ZM59.0,92.8L60.5,92.0L60.6,93.4ZM61.5,93.2L63.6,92.1L63.8,93.8ZM68.4,93.1L69.8,92.2L70.0,93.6ZM95.1,93.1L93.5,93.5L93.7,92.2ZM102.8,93.9L100.5,94.2L100.9,92.6ZM106.2,94.0L104.5,94.1L105.1,92.8ZM59.7,98.4L60.9,97.3L61.3,98.5ZM62.2,99.7L63.8,98.1L64.4,99.6ZM68.0,100.1L69.2,98.5L70.0,99.8ZM75.7,99.3L76.2,97.8L77.2,98.6ZM82.1,98.8L81.7,97.2L82.9,97.3ZM88.2,99.1L86.9,98.2L87.9,97.5ZM95.6,100.1L93.9,99.7L94.8,98.6ZM102.3,100.5L100.0,100.1L100.8,98.7ZM105.4,99.3L103.7,99.1L104.4,97.9ZM60.8,103.4L61.8,102.2L62.4,103.2ZM63.9,105.0L64.7,103.5L65.5,104.7ZM68.3,106.8L69.2,104.6L70.4,105.8ZM74.9,107.1L75.1,105.0L76.5,105.7ZM81.9,106.8L81.3,105.2L82.8,105.3ZM88.8,107.1L87.5,105.6L89.0,105.1ZM95.6,107.2L93.7,105.9L95.0,105.0ZM100.8,106.0L98.9,105.2L100.0,104.2ZM104.1,104.0L102.5,103.5L103.3,102.6ZM65.8,109.1L66.4,107.6L67.3,108.4ZM70.0,110.9L70.3,109.3L71.4,110.1ZM75.4,112.6L75.4,110.4L76.9,111.0ZM81.9,113.2L81.2,111.0L82.8,111.2ZM88.4,112.9L87.2,111.1L88.8,110.8ZM94.3,111.7L92.9,110.5L94.2,109.8ZM98.8,109.7L97.5,108.9L98.5,108.1ZM71.5,114.0L71.7,112.4L72.7,112.9ZM76.6,114.9L76.4,113.3L77.6,113.6ZM82.1,115.4L81.5,113.9L82.8,114.0ZM87.7,115.2L86.8,113.8L88.1,113.6ZM92.9,114.3L91.9,113.1L93.0,112.7Z" fill="#fff" stroke="#fff" stroke-width="0.3" stroke-linejoin="round"/>
<path d="M47.4,95.6 47.6,93.9 47.8,92.0 48.1,89.8 48.5,87.6 48.9,85.4 49.5,83.3 50.1,81.2 50.8,79.1 51.7,77.0 52.6,75.0 53.5,72.9 54.6,71.0 55.8,69.1 57.0,67.3 58.4,65.5 59.8,63.8 61.3,62.2 62.8,60.8 64.4,59.5 66.0,58.3 67.7,57.2 69.4,56.2 71.2,55.4 73.1,54.6 75.0,53.9 77.2,53.3 79.4,52.8 81.5,52.5 83.5,52.2 85.4,51.9 87.0,51.8 88.4,51.8 89.7,52.0 90.9,52.1 92.1,52.3 93.2,52.6 94.2,52.8 95.1,53.1 96.0,53.4 96.8,53.7 97.5,54.1 98.3,54.6 99.0,55.2 99.6,55.9 100.2,56.7 100.8,57.4 101.5,58.1 102.2,58.7 103.0,59.1 103.8,59.5 104.7,59.7 105.6,60.0 106.5,60.2 107.5,60.6 108.5,60.9 109.6,61.2 110.7,61.5 111.9,61.9 113.0,62.3 114.1,62.8 115.1,63.4 116.2,64.0 117.3,64.6 118.3,65.3 119.3,66.1 120.2,66.9 121.1,67.8 122.0,68.8 122.8,69.8 123.5,70.9 124.2,72.0 124.7,73.1 125.2,74.2 125.6,75.3 125.9,76.5 126.1,77.7 126.3,78.9 126.4,80.2 126.4,81.6 126.3,83.1 126.2,84.7 126.0,86.2 125.7,87.8 125.3,89.5 124.9,91.1 124.3,92.8 123.7,94.6 123.0,96.3 122.1,98.1 121.2,99.7 120.3,101.3 119.2,102.9 118.0,104.5 116.8,106.0 115.5,107.5 114.1,108.9 112.6,110.4 111.0,111.9 109.3,113.3 107.5,114.7 105.7,116.0 103.8,117.1 101.9,118.2 99.9,119.1 97.8,119.9 95.7,120.7 93.6,121.3 91.5,121.9 89.5,122.3 87.4,122.7 85.4,123.0 83.3,123.2 81.3,123.3 79.2,123.3 77.1,123.2 75.0,123.0 72.9,122.7 70.8,122.3 68.8,121.8 66.9,121.2 65.2,120.6 63.5,119.8 61.9,119.0 60.4,118.1 59.0,117.1 57.7,116.1 56.4,115.0 55.3,113.9 54.2,112.7 53.2,111.4 52.3,110.2 51.5,108.9 50.8,107.7 50.2,106.5 49.7,105.3 49.2,104.1 48.8,102.9 48.5,101.8 48.1,100.8 47.8,99.9 47.6,99.0 47.5,98.1 47.4,97.0Z" fill="none" stroke="#00ee00" stroke-width="1.7" stroke-linejoin="round"/>
<rect x="21" y="156.6" width="55.3" height="3.4" fill="#fff"/>
</g>
<rect x="15.7" y="1.5" width="163.2" height="162.6" fill="none" stroke="#000" stroke-width="1.45"/>
<text x="-0.2" y="10.1" font-size="20" font-weight="bold" fill="#000" textLength="12.2" lengthAdjust="spacingAndGlyphs">y</text>
<text x="179.5" y="178.3" font-size="22" stroke="#000" stroke-width="0.55" text-anchor="end" fill="#000" textLength="12.2" lengthAdjust="spacingAndGlyphs">x</text>
<g fill="#fff">
<g stroke="#fff" stroke-width="0.45" stroke-linejoin="round">
<text x="20.1" y="20.8" font-size="15" textLength="6.6" lengthAdjust="spacingAndGlyphs">t</text>
<text x="27.9" y="20.8" font-size="15" textLength="13.6" lengthAdjust="spacingAndGlyphs">=</text>
<text x="43.0" y="20.8" font-size="15" textLength="43.4" lengthAdjust="spacingAndGlyphs">7.618</text>
</g>
<text x="86.5" y="20.8" font-size="16.5" font-style="italic" textLength="11.3" lengthAdjust="spacingAndGlyphs">ω</text>
<text x="98.5" y="26.2" font-size="12" stroke="#fff" stroke-width="0.3" textLength="6.8" lengthAdjust="spacingAndGlyphs">a</text>
<text x="100.0" y="14.8" font-size="11" textLength="9" lengthAdjust="spacingAndGlyphs">−</text>
<text x="110.8" y="15.5" font-size="10.5" font-weight="bold" textLength="6.2" lengthAdjust="spacingAndGlyphs">1</text>
<text x="176.3" y="22.1" font-size="24" text-anchor="end">)</text>
<text transform="translate(168.3,20.9) scale(1.13,1)" font-size="22" font-weight="bold" text-anchor="end">a</text>
</g>
<g clip-path="url(#cb)">
<rect x="213.4" y="1.5" width="163.2" height="162.6" fill="#000098"/>
<g filter="url(#bl)" transform="scale(0.1)"><path fill="#0000a2" d="M2787,515l43,-4 44,0 40,5 36,8 34,14 40,20 80,44 50,31 30,24 25,23 20,25 15,25 13,30 8,30 4,30 0,30-6,40-10,35-15,35-22,40-24,35-32,39-30,29-36,29-44,31-40,24-40,19-46,17-50,14-50,11-44,5-46,0-30,-4-30,-8-30,-10-30,-15-24,-15-27,-21-29,-26-24,-27-17,-22-16,-25-12,-25-9,-25-6,-25-4,-30-2,-35 1,-35 3,-30 8,-40 10,-35 12,-35 14,-30 17,-30 20,-30 20,-25 25,-27 30,-27 26,-19 30,-20 30,-15 24,-10 36,-10 37,-7z"/>
<path fill="#0000b3" d="M2815,540l39,-1 36,1 30,5 34,10 36,16 64,34 60,35 36,24 24,21 21,22 16,23 13,25 10,30 5,25 1,25-2,30-6,30-9,30-13,30-20,35-21,30-24,30-32,35-29,24-60,38-34,19-40,18-40,14-50,13-50,9-46,3-40,-3-30,-5-30,-10-24,-11-25,-14-25,-18-26,-22-24,-25-20,-25-16,-23-11,-22-9,-22-5,-23-5,-28-1,-32 0,-30 3,-30 5,-30 9,-35 12,-35 13,-30 17,-30 16,-25 20,-25 22,-24 24,-23 26,-20 27,-18 27,-15 26,-10 33,-10 31,-6 31,-4z"/>
<path fill="#0000bf" d="M2821,580l33,-1 36,2 30,5 30,8 30,11 40,19 36,21 30,20 27,20 21,20 17,20 14,20 13,25 9,25 6,25 2,25-1,30-5,30-28,80-12,25-18,30-19,25-17,19-25,18-30,14-44,9-36,16-40,13-36,7-40,4-30,0-30,-3-30,-5-30,-9-30,-10-30,-14-24,-15-26,-17-40,-37-20,-23-14,-23-12,-24-8,-24-6,-26-2,-25 0,-30 4,-30 8,-35 10,-30 26,-50 20,-28 18,-22 26,-25 25,-20 25,-16 26,-14 25,-10 33,-10 32,-6 31,-4z"/>
<path fill="#0000ce" d="M2804,635l46,-3 44,3 46,9 40,14 40,22 33,25 30,30 20,30 33,70 12,30 8,40 1,40-4,20-6,20-9,20-17,30-27,35-14,13-16,10-24,11-30,5-26,-3-34,-13-46,11-44,4-46,-2-44,-8-30,-9-26,-10-44,-26-20,-15-21,-19-16,-19-16,-25-13,-25-10,-30-5,-30-1,-25 3,-30 6,-25 10,-25 13,-25 18,-25 18,-20 24,-21 24,-17 26,-14 30,-12 30,-9 34,-7z"/>
<path fill="#0000e0" d="M2844,680l86,3 34,8 46,18 14,9 16,12 26,25 28,35 22,35 16,35 8,30 5,40-2,25-11,35-24,45-24,30-24,19-16,7-14,4-16,2-14,-1-20,-5-20,-9-15,-12-15,-18-6,-3-40,9-40,2-40,-4-34,-8-40,-17-32,-21-28,-26-24,-34-12,-25-6,-25-3,-25 1,-25 4,-20 6,-20 18,-34 4,-16 13,-25 13,-15 15,-13 15,-9 26,-11 30,-5 40,0 34,-2z"/>
<path fill="#0000f5" d="M2774,690l30,2 26,7 40,-7 40,-1 30,4 24,7 36,14 20,12 31,27 26,30 24,35 19,40 10,35 4,40-2,15-5,20-14,35-21,35-22,25-20,13-20,6-20,2-26,-5-20,-10-20,-17-11,-19-13,-34-26,8-30,4-30,0-29,-5-31,-9-24,-13-22,-16-19,-20-16,-25-9,-25-4,-25 1,-25-13,-30-5,-20 0,-15 2,-15 6,-15 8,-15 12,-15 13,-11 30,-16 20,-6 20,-2z"/>
<path fill="#0012ff" d="M2749,700l15,-3 20,-1 20,2 26,7 60,-7 24,1 26,4 30,9 34,16 24,17 26,25 28,35 20,35 16,40 7,40-1,30-11,35-21,40-10,15-14,15-18,13-20,7-26,2-20,-5-14,-8-12,-9-9,-10-9,-15-8,-25-4,-40-4,-16-24,11-20,6-20,3-26,0-24,-5-20,-8-18,-11-16,-15-17,-25-6,-25-5,-5-14,-7-14,-12-17,-21-9,-20-4,-20 1,-15 3,-15 7,-15 10,-15 13,-13 16,-10 29,-12z"/>
<path fill="#0038ff" d="M2757,705l17,-2 20,0 20,4 16,6 60,-7 24,1 25,5 31,9 34,17 26,21 24,26 30,40 15,30 13,40 4,35-3,25-13,35-19,35-21,25-10,7-16,7-24,3-26,-6-20,-13-10,-13-10,-20-4,-20-2,-30-4,-20-24,-36-6,2-4,10-10,12-20,13-26,6-24,-3-20,-9-17,-15-9,-20-2,-25-22,-5-20,-7-16,-9-15,-14-13,-20-7,-20-1,-20 6,-25 13,-20 15,-15 22,-13 23,-7z"/>
<path fill="#0066ff" d="M2764,710l16,-1 20,1 14,4 16,6 60,-6 24,1 26,5 30,10 30,15 25,21 23,24 29,40 15,30 11,35 4,35-3,25-11,30-20,35-19,22-20,12-20,4-14,-2-10,-3-20,-13-10,-15-7,-15-4,-20-2,-30-6,-20-21,-32-20,-21-4,3-3,15-4,10-15,15-10,6-14,4-16,1-10,-2-18,-9-15,-15-7,-20 3,-20-27,-4-20,-6-20,-11-16,-14-13,-20-6,-20 1,-20 6,-20 12,-19 16,-13 20,-11 24,-7z"/>
<path fill="#0099ff" d="M2779,715l25,3 26,9 60,-5 24,1 26,6 24,9 30,15 26,21 20,21 24,32 16,28 12,35 5,35-2,25-9,25-16,32-20,24-16,11-20,4-20,-3-10,-6-8,-7-9,-15-4,-10-6,-45-8,-25-28,-40-42,-40-9,-4-10,0-6,1-2,3 12,6 13,14 3,15-1,10-5,9-4,6-10,7-10,4-16,0-10,-2-10,-6-8,-8-5,-10-1,-10 1,-10 10,-15-31,2-26,-3-24,-11-21,-18-12,-20-5,-20 2,-20 9,-20 12,-15 19,-14 20,-8 25,-3z"/>
<path fill="#00ccff" d="M2752,725l18,-4 14,-1 26,5 20,9 50,-5 24,1 20,3 30,9 26,12 14,9 26,22 26,30 20,30 16,40 6,30 0,25-5,20-17,35-20,25-16,12-16,3-14,-2-16,-11-5,-7-7,-15-6,-40-5,-20-5,-10-32,-43-33,-32-11,-8-10,-3-30,-1-36,16-30,2-14,-2-16,-5-14,-8-10,-8-11,-13-7,-15-3,-20 2,-15 6,-15 12,-15 15,-12 18,-8zM2827,875l13,-4 10,2 4,4 6,7 1,6-1,6-6,7-4,4-10,2-10,-3-6,-4-4,-7-1,-5 3,-10 5,-5z"/>
<path fill="#00ffff" d="M2753,730l17,-4 14,-1 20,3 26,12 4,1 46,-5 24,0 20,4 20,6 26,11 20,11 19,17 25,28 23,32 15,35 6,25 2,30-3,15-16,35-17,22-10,9-14,6-16,-1-10,-6-10,-15-10,-45-7,-20-5,-10-32,-44-33,-31-13,-9-14,-3-30,-1-6,1-10,7-14,7-16,4-14,1-16,-2-14,-4-16,-8-10,-8-12,-15-6,-15-2,-15 3,-15 6,-15 11,-13 16,-11 13,-6z"/>
<path fill="#33ffcc" d="M2774,730l16,0 14,3 16,6 10,7 4,1 46,-5 24,1 20,4 26,8 24,13 16,10 19,18 26,29 17,25 12,30 7,30 1,25-3,15-13,25-16,21-10,8-10,4-10,0-10,-7-9,-16-13,-45-10,-20-34,-44-33,-31-11,-9-10,-3-10,-2-36,1-10,8-14,7-16,4-14,1-16,-1-14,-5-12,-6-12,-10-11,-15-5,-15 1,-20 5,-15 12,-15 12,-9 14,-7 20,-4z"/>
<path fill="#66ff99" d="M2768,735l16,-1 16,2 14,6 16,10 4,1 46,-5 20,1 20,3 34,13 26,14 10,8 23,23 21,27 12,18 12,30 5,25 0,30-6,15-12,18-11,10-10,6-10,1-4,-3-6,-5-4,-9-20,-48-26,-36-20,-24-30,-27-14,-9-10,-3-16,-1-30,1-11,9-13,8-26,5-24,-3-16,-6-10,-7-10,-12-8,-15-2,-15 3,-15 7,-14 11,-11 15,-9 18,-6z"/>
<path fill="#99ff66" d="M2764,740l16,-2 20,2 14,6 16,12 4,1 46,-4 20,1 20,3 28,11 32,18 20,18 16,19 22,30 6,15 8,25 3,25-2,20-8,15-15,12-6,2-10,-3-14,-19-14,-27-33,-45-13,-15-28,-25-18,-11-20,-5-40,1-11,10-13,8-26,6-24,-3-20,-11-11,-10-8,-15-2,-10 1,-15 7,-15 8,-10 15,-10 14,-5z"/>
<path fill="#ccff33" d="M2760,745l20,-3 20,2 14,7 16,14 4,1 46,-4 30,3 34,12 30,18 31,30 16,20 12,20 7,20 4,25-1,15-4,15-5,5-4,3-10,0-6,-3-16,-25-47,-60-37,-33-20,-12-20,-4-40,1-20,19-10,5-14,4-26,-2-20,-9-9,-9-7,-10-4,-10 0,-15 5,-15 7,-10 13,-10 11,-5z"/>
<path fill="#ffff00" d="M2758,750l16,-4 20,1 20,9 10,9 6,8 4,2 46,-3 30,3 30,10 24,15 28,25 17,20 14,20 6,25 0,15-5,9-4,2-6,-2-10,-7-18,-17-18,-25-18,-20-30,-27-16,-9-15,-6-25,-2-30,2-10,14-10,9-10,6-14,4-20,-1-20,-7-10,-8-7,-10-4,-10-1,-15 3,-10 6,-10 12,-10 9,-5z"/>
<path fill="#ffcc00" d="M2772,750l18,0 16,5 13,10 9,15 1,15-5,15-10,11-14,9-20,3-20,-5-16,-9-10,-16-1,-8 0,-10 6,-15 15,-14 18,-6zM2953,820l1,-2 3,2-3,1-1,-1zM2958,825l2,-2 2,2-4,0zM2963,830l1,-2 2,2-3,0zM2969,835l1,-2 1,2-2,0zM2974,840l0,-2 3,2-3,0zM2979,845l1,-2 2,2-2,1-1,-1zM2984,850zM2989,860l1,-1-1,1zM2994,865l0,-2 2,2-2,1 0,-1zM2998,870l2,-2 1,2-1,2-2,-2zM3002,875l2,-1 1,1-1,2-2,-2z"/>
<path fill="#ff9900" d="M2767,755l17,-2 16,4 13,8 8,10 4,10-1,15-9,15-11,8-14,5-20,0-18,-8-8,-8-4,-7-3,-15 4,-15 9,-11 17,-9z"/>
<path fill="#ff6600" d="M2765,760l9,-3 16,1 10,3 12,9 7,10 1,15-3,10-8,10-15,8-14,2-20,-5-12,-10-6,-15 1,-15 7,-10 15,-10z"/>
<path fill="#ff3300" d="M2764,765l10,-3 10,-1 10,2 12,7 8,10 2,10-2,10-6,10-14,9-14,2-16,-4-10,-7-6,-10-1,-15 4,-10 13,-10z"/>
<path fill="#ff0800" d="M2764,770l10,-4 10,0 10,2 10,7 6,9 1,6-2,10-5,7-9,7-11,2-14,-1-10,-6-7,-9-2,-10 3,-10 10,-10z"/>
<path fill="#e80000" d="M2773,770l17,0 9,5 5,7 3,8-2,10-11,10-10,3-10,-1-9,-4-8,-8-2,-10 4,-10 5,-6 9,-4z"/>
<path fill="#cf0000" d="M2768,775l12,-3 14,3 6,5 4,10-4,12-6,5-10,3-10,0-9,-5-4,-5-3,-10 4,-10 6,-5z"/>
<path fill="#b80000" d="M2777,775l13,1 5,4 4,5 1,10-3,5-7,6-16,0-9,-6-2,-5-1,-5 2,-7 6,-5 7,-3z"/>
<path fill="#a30000" d="M2772,780l12,-2 6,2 4,4 3,6-1,5-3,5-9,4-4,0-11,-4-4,-10 2,-5 5,-5z"/>
<path fill="#910000" d="M2772,785l8,-4 4,1 6,3 2,5 0,5-8,6-10,-2-4,-4 0,-4 2,-6z"/>
<path fill="#850000" d="M2779,785l5,1 4,4-4,6-4,1-6,-4 0,-4 5,-4z"/></g>
<rect x="213.4" y="1.5" width="163.2" height="162.6" fill="url(#db)" opacity="0.035"/>
<rect x="213.4" y="1.5" width="163.2" height="162.6" fill="url(#db)" opacity="0.55" mask="url(#gb)"/>
<path d="M269.9,56.9L269.5,56.0M274.9,56.9L274.4,54.4M280.1,56.9L280.0,54.3M285.1,56.9L285.5,54.8M290.2,56.9L290.6,55.8M264.8,62.0L263.0,59.9M269.9,62.0L268.2,58.9M274.9,62.0L273.9,58.1M280.1,62.0L280.0,58.0M285.1,62.0L285.9,58.4M290.2,62.0L291.4,59.3M295.4,62.0L296.2,60.6M259.6,67.1L257.5,65.6M264.8,67.1L261.9,64.5M269.9,67.1L267.1,63.2M274.9,67.1L273.2,61.5M280.1,67.1L280.3,61.1M285.1,67.1L286.8,62.3M290.2,67.1L292.2,63.5M295.4,67.1L297.0,64.7M300.4,67.1L301.2,66.2M254.6,72.2L253.4,71.8M259.6,72.2L256.6,70.9M264.8,72.2L260.7,69.9M269.9,72.2L264.8,67.9M274.9,72.2L271.4,64.9M280.1,72.2L281.5,64.0M285.1,72.2L288.9,66.2M290.2,72.2L293.4,68.2M295.4,72.2L297.7,69.4M300.4,72.2L302.0,70.5M305.6,72.2L305.9,71.9M254.6,77.3L252.6,77.0M259.6,77.3L256.1,76.6M264.8,77.3L259.5,76.1M269.9,77.3L262.4,75.1M274.9,77.3L266.5,72.3M280.1,77.3L286.8,70.2M285.1,77.3L292.0,72.5M290.2,77.3L294.6,73.4M295.4,77.3L298.2,73.8M300.4,77.3L302.6,74.7M305.6,77.3L307.0,76.1M310.6,77.3L310.9,77.2M254.6,82.4L252.7,82.4M259.6,82.4L256.1,82.6M264.8,82.4L259.6,82.9M269.9,82.4L262.5,84.0M274.9,82.4L267.2,88.1M280.1,82.4L284.6,91.1M285.1,82.4L291.8,76.3M290.2,82.4L296.8,78.2M295.4,82.4L297.0,76.9M300.4,82.4L302.2,78.8M305.6,82.4L308.4,80.7M310.6,82.4L312.3,81.9M254.6,87.5L253.3,87.8M259.6,87.5L256.6,88.3M264.8,87.5L260.5,89.0M269.9,87.5L264.4,90.4M274.9,87.5L269.0,92.0M280.1,87.5L270.4,89.4M285.1,87.5L291.3,85.2M290.2,87.5L299.0,88.0M295.4,87.5L289.0,87.9M300.4,87.5L304.7,87.0M305.6,87.5L308.8,87.5M310.6,87.5L313.0,87.6M254.6,92.6L254.3,92.7M259.6,92.6L257.5,93.6M264.8,92.6L261.7,94.4M269.9,92.6L266.1,95.5M274.9,92.6L270.1,97.5M280.1,92.6L275.3,100.1M285.1,92.6L287.3,101.9M290.2,92.6L295.3,98.9M295.4,92.6L295.9,98.5M300.4,92.6L301.9,96.4M305.6,92.6L308.3,94.4M310.6,92.6L312.3,93.2M259.6,97.7L259.0,98.1M264.8,97.7L262.6,99.5M269.9,97.7L267.1,100.7M274.9,97.7L272.0,102.3M280.1,97.7L278.0,104.2M285.1,97.7L285.7,104.8M290.2,97.7L292.3,103.6M295.4,97.7L297.0,102.1M300.4,97.7L302.1,100.8M305.6,97.7L306.9,99.1M310.6,97.7L310.9,97.9M264.8,102.8L263.6,104.0M269.9,102.8L268.1,105.3M274.9,102.8L273.2,106.4M280.1,102.8L279.0,107.3M285.1,102.8L285.2,107.5M290.2,102.8L291.2,107.1M295.4,102.8L296.6,106.2M300.4,102.8L301.7,105.1M305.6,102.8L306.0,103.4M264.8,107.9L264.7,107.9M269.9,107.9L269.1,109.3M274.9,107.9L274.0,110.4M280.1,107.9L279.5,111.0M285.1,107.9L285.2,111.2M290.2,107.9L290.8,110.8M295.4,107.9L296.1,110.1M300.4,107.9L300.9,108.7M274.9,113.0L274.8,113.5M280.1,113.0L279.9,114.1M285.1,113.0L285.1,114.3M290.2,113.0L290.4,113.9M295.4,113.0L295.4,113.1" stroke="#fff" stroke-width="0.75" stroke-linecap="round" fill="none"/><path d="M269.0,54.9L270.2,56.0L269.0,56.5ZM274.1,53.3L275.2,54.6L273.8,54.9ZM279.9,53.1L280.7,54.6L279.3,54.6ZM285.6,53.6L286.1,55.2L284.7,55.0ZM291.0,54.7L291.1,56.3L289.9,55.9ZM262.2,58.8L263.8,59.6L262.6,60.6ZM267.3,57.2L269.1,58.8L267.6,59.5ZM273.4,56.0L274.9,58.2L273.2,58.6ZM280.0,55.8L280.9,58.3L279.2,58.3ZM286.3,56.5L286.7,58.9L285.1,58.5ZM291.9,57.9L292.0,59.8L290.5,59.2ZM296.7,59.5L296.6,61.2L295.4,60.5ZM256.4,64.9L258.1,65.2L257.3,66.4ZM260.4,63.1L262.7,64.1L261.6,65.3ZM265.5,61.0L268.0,62.9L266.5,64.0ZM272.3,59.0L274.2,61.5L272.3,62.1ZM280.4,58.4L281.3,61.5L279.3,61.4ZM287.7,59.7L287.6,62.9L285.8,62.2ZM293.3,61.6L292.8,64.2L291.3,63.4ZM297.8,63.5L297.5,65.3L296.2,64.5ZM301.9,65.3L301.5,66.9L300.5,66.1ZM252.3,71.4L253.9,71.3L253.5,72.5ZM255.0,70.2L257.2,70.2L256.6,71.7ZM258.4,68.6L261.4,69.2L260.5,70.8ZM262.8,66.1L265.7,67.3L264.4,68.8ZM270.2,62.4L272.5,64.7L270.6,65.6ZM282.0,61.3L282.5,64.5L280.4,64.1ZM290.3,63.9L289.6,67.0L287.8,65.9ZM295.1,66.1L294.0,69.0L292.4,67.8ZM298.9,67.9L298.1,70.1L296.8,69.1ZM302.8,69.6L302.4,71.2L301.3,70.2ZM306.8,71.1L306.1,72.5L305.3,71.6ZM251.4,76.8L253.0,76.3L252.8,77.7ZM254.1,76.2L256.5,75.8L256.2,77.5ZM256.9,75.5L260.1,75.2L259.6,77.1ZM259.8,74.4L263.0,74.2L262.4,76.2ZM264.2,70.9L267.3,71.5L266.3,73.3ZM288.6,68.2L287.3,71.1L285.8,69.7ZM294.2,71.0L292.3,73.6L291.1,71.8ZM296.7,71.6L295.1,74.3L293.7,72.8ZM299.8,71.9L298.7,74.6L297.3,73.5ZM303.6,73.4L303.0,75.4L301.7,74.4ZM308.0,75.4L307.2,76.9L306.4,75.8ZM312.0,76.6L310.9,77.8L310.4,76.8ZM251.5,82.5L253.0,81.7L253.0,83.1ZM254.2,82.6L256.3,81.7L256.4,83.4ZM256.9,83.1L259.8,81.9L260.0,83.8ZM259.8,84.5L262.6,82.9L263.0,84.9ZM265.1,89.7L266.9,87.1L268.1,88.8ZM285.8,93.5L283.5,91.3L285.4,90.3ZM293.8,74.5L292.3,77.3L290.9,75.7ZM299.0,76.7L297.1,79.2L295.9,77.5ZM297.8,74.4L297.9,77.5L296.0,76.9ZM303.1,76.8L302.8,79.4L301.2,78.7ZM309.9,79.9L308.5,81.6L307.7,80.2ZM313.5,81.6L312.2,82.7L311.8,81.4ZM252.1,88.0L253.4,87.1L253.7,88.3ZM255.0,88.7L256.7,87.4L257.1,89.0ZM258.2,89.8L260.5,88.0L261.1,89.7ZM262.0,91.6L264.2,89.3L265.1,91.1ZM266.8,93.6L268.6,91.0L269.8,92.7ZM267.8,89.9L270.5,88.3L270.9,90.3ZM293.8,84.2L291.4,86.3L290.6,84.3ZM301.7,88.2L298.7,89.0L298.8,86.9ZM286.3,88.0L289.3,86.8L289.4,88.9ZM307.0,86.7L304.5,87.9L304.3,86.1ZM310.5,87.6L308.5,88.3L308.6,86.7ZM314.2,87.6L312.7,88.3L312.7,86.9ZM253.2,93.1L254.4,92.0L254.8,93.1ZM256.4,94.1L257.5,92.8L258.1,94.1ZM260.1,95.3L261.5,93.5L262.4,94.9ZM264.0,97.1L265.8,94.6L266.9,96.0ZM268.2,99.4L269.5,96.6L271.0,98.0ZM273.8,102.4L274.5,99.3L276.3,100.4ZM287.9,104.5L286.2,101.8L288.2,101.4ZM297.0,101.0L294.3,99.3L296.0,98.0ZM296.2,101.2L294.9,98.3L296.9,98.1ZM302.8,98.5L301.0,96.4L302.7,95.8ZM309.7,95.4L307.6,94.9L308.5,93.6ZM313.4,93.7L311.8,93.8L312.3,92.5ZM258.0,98.8L259.0,97.4L259.6,98.4ZM261.5,100.3L262.3,98.7L263.3,99.9ZM265.6,102.3L266.6,99.9L267.9,101.0ZM270.5,104.5L271.3,101.5L273.0,102.5ZM277.2,106.7L277.1,103.6L279.1,104.2ZM285.9,107.5L284.6,104.6L286.7,104.4ZM293.2,106.1L291.3,103.7L293.2,103.0ZM298.0,104.5L296.1,102.1L297.8,101.5ZM303.0,102.4L301.3,100.9L302.7,100.1ZM307.8,100.0L306.2,99.4L307.2,98.4ZM311.9,98.6L310.4,98.2L311.0,97.2ZM262.8,104.9L263.3,103.3L264.3,104.2ZM267.1,106.6L267.6,104.6L268.9,105.5ZM272.3,108.4L272.6,105.8L274.1,106.5ZM278.5,109.8L278.2,106.8L280.0,107.2ZM285.3,110.2L284.3,107.2L286.2,107.2ZM291.8,109.4L290.3,107.0L292.0,106.6ZM297.3,108.0L295.8,106.2L297.3,105.6ZM302.3,106.2L300.9,105.2L302.2,104.5ZM306.8,104.3L305.4,103.5L306.3,102.8ZM264.0,108.9L264.5,107.3L265.4,108.0ZM268.5,110.3L268.6,108.7L269.8,109.3ZM273.5,111.6L273.4,109.9L274.8,110.4ZM279.2,112.6L278.8,110.6L280.3,110.9ZM285.2,112.8L284.4,110.9L286.0,110.9ZM291.0,112.3L290.0,110.7L291.5,110.4ZM296.5,111.2L295.3,110.0L296.7,109.6ZM301.4,109.8L300.2,108.7L301.3,108.2ZM274.4,114.7L274.3,113.0L275.5,113.4ZM279.7,115.3L279.3,113.7L280.5,113.9ZM285.1,115.5L284.5,114.0L285.8,114.0ZM290.6,115.1L289.7,113.7L291.0,113.5ZM295.7,114.3L294.7,113.0L295.9,112.7Z" fill="#fff" stroke="#fff" stroke-width="0.3" stroke-linejoin="round"/>
<path d="M246.0,97.7 246.0,95.9 246.1,93.9 246.3,91.8 246.5,89.7 246.9,87.5 247.4,85.4 248.0,83.2 248.8,80.9 249.6,78.6 250.5,76.3 251.5,74.1 252.6,72.0 253.7,70.1 255.0,68.3 256.3,66.5 257.8,64.8 259.2,63.3 260.8,61.8 262.3,60.4 263.9,59.1 265.6,57.9 267.4,56.8 269.2,55.9 271.0,55.0 273.0,54.3 275.0,53.7 277.2,53.3 279.3,53.0 281.4,52.7 283.3,52.6 285.2,52.5 287.0,52.5 288.7,52.7 290.4,52.9 292.0,53.2 293.6,53.6 295.1,54.1 296.5,54.7 297.9,55.4 299.2,56.2 300.5,57.0 301.8,57.7 303.0,58.4 304.2,59.0 305.4,59.7 306.6,60.4 307.8,61.1 308.9,61.8 310.2,62.4 311.4,63.1 312.6,63.7 313.8,64.4 315.0,65.1 316.1,65.9 317.2,66.8 318.4,67.7 319.5,68.7 320.5,69.8 321.4,70.9 322.3,72.0 323.0,73.3 323.7,74.6 324.3,75.9 324.7,77.4 325.1,78.8 325.3,80.2 325.5,81.7 325.5,83.2 325.3,84.7 325.1,86.3 324.8,87.9 324.3,89.5 323.7,91.1 323.0,92.8 322.2,94.6 321.3,96.3 320.3,98.1 319.2,99.7 318.0,101.3 316.8,102.9 315.5,104.5 314.1,106.0 312.6,107.5 311.0,108.9 309.3,110.4 307.5,111.9 305.6,113.3 303.7,114.7 301.7,116.0 299.7,117.1 297.7,118.2 295.7,119.2 293.7,120.1 291.6,120.9 289.5,121.6 287.4,122.3 285.2,122.9 283.0,123.4 280.7,123.8 278.4,124.1 276.2,124.3 274.1,124.3 272.1,124.2 270.1,123.8 268.2,123.4 266.3,122.8 264.5,122.1 262.8,121.2 261.1,120.3 259.4,119.2 257.8,118.0 256.3,116.7 254.9,115.4 253.6,114.1 252.4,112.8 251.3,111.4 250.4,110.0 249.5,108.6 248.7,107.2 248.0,105.9 247.5,104.5 247.0,103.3 246.6,102.0 246.3,100.7 246.1,99.3Z" fill="none" stroke="#00ee00" stroke-width="1.7" stroke-linejoin="round"/>
</g>
<rect x="213.4" y="1.5" width="163.2" height="162.6" fill="none" stroke="#000" stroke-width="1.45"/>
<text x="197.5" y="10.1" font-size="20" font-weight="bold" fill="#000" textLength="12.2" lengthAdjust="spacingAndGlyphs">y</text>
<text x="377.3" y="178.3" font-size="22" stroke="#000" stroke-width="0.55" text-anchor="end" fill="#000" textLength="12.2" lengthAdjust="spacingAndGlyphs">x</text>
<g fill="#fff">
<g stroke="#fff" stroke-width="0.45" stroke-linejoin="round">
<text x="217.8" y="20.8" font-size="15" textLength="6.6" lengthAdjust="spacingAndGlyphs">t</text>
<text x="225.8" y="20.8" font-size="15" textLength="13.6" lengthAdjust="spacingAndGlyphs">=</text>
<text x="240.8" y="20.8" font-size="15" textLength="43.4" lengthAdjust="spacingAndGlyphs">7.626</text>
</g>
<text x="284.4" y="20.8" font-size="16.5" font-style="italic" textLength="11.3" lengthAdjust="spacingAndGlyphs">ω</text>
<text x="296.2" y="26.2" font-size="12" stroke="#fff" stroke-width="0.3" textLength="6.8" lengthAdjust="spacingAndGlyphs">a</text>
<text x="297.8" y="14.8" font-size="11" textLength="9" lengthAdjust="spacingAndGlyphs">−</text>
<text x="308.6" y="15.5" font-size="10.5" font-weight="bold" textLength="6.2" lengthAdjust="spacingAndGlyphs">1</text>
<text x="374.1" y="22.1" font-size="24" text-anchor="end">)</text>
<text transform="translate(366.1,20.9) scale(1.13,1)" font-size="22" font-weight="bold" text-anchor="end">b</text>
</g>
<g clip-path="url(#cc)">
<rect x="411.6" y="1.5" width="163.2" height="162.6" fill="#000098"/>
<g filter="url(#bl)" transform="scale(0.1)"><path fill="#0000a2" d="M4797,485l39,-3 46,2 50,7 44,11 46,15 44,20 46,24 40,27 34,28 29,29 24,30 19,30 16,35 10,35 6,35-1,40-4,25-16,65-5,15-12,20-12,15-21,20-47,52-30,26-36,26-44,28-56,30-44,21-56,20-50,14-54,10-46,5-40,-2-30,-4-30,-8-30,-12-24,-13-26,-16-24,-20-22,-22-18,-22-19,-28-13,-25-12,-30-9,-30-5,-30-3,-30 3,-65 6,-40 8,-40 11,-40 15,-40 16,-35 20,-35 20,-30 16,-20 26,-27 24,-21 26,-18 30,-17 30,-14 30,-10 30,-7 35,-6z"/>
<path fill="#0000b3" d="M4788,515l44,-4 40,1 44,6 46,11 50,18 54,26 50,29 40,29 30,27 23,27 20,30 16,35 10,30 4,25 0,90-4,25-7,20-8,15-14,18-14,14-25,18-28,30-27,25-30,23-36,22-45,25-42,20-37,15-46,15-40,11-50,10-44,4-36,0-30,-4-22,-6-27,-10-21,-10-24,-15-20,-15-21,-20-19,-23-16,-22-14,-28-10,-24-10,-33-7,-50 2,-65 10,-65 9,-39 11,-31 12,-30 16,-30 19,-30 18,-23 20,-23 24,-23 22,-16 24,-15 24,-13 30,-12 30,-9 32,-6z"/>
<path fill="#0000bf" d="M4817,535l45,-2 44,4 46,9 50,17 44,19 50,28 40,29 33,31 23,30 24,45 11,30 12,45 5,25 2,35-5,35-10,25-9,14-11,11-25,18-31,12-23,21-26,18-20,11-24,11-30,10-30,5-36,3-34,-1-46,-5-44,-9-40,-12-46,-18-40,-21-34,-23-31,-25-31,-30-24,-30-20,-30-14,-30-8,-25-3,-25 2,-30 9,-33 13,-32 17,-30 23,-30 27,-27 30,-23 33,-20 37,-15 34,-9 41,-6z"/>
<path fill="#0000ce" d="M4855,550l37,1 40,6 40,10 40,15 44,21 36,21 33,26 25,25 22,30 38,70 15,35 8,30 3,35-5,35-12,25-17,21-20,12-20,6-20,1-30,-4-20,12-26,11-50,14-54,7-56,-3-34,-5-36,-10-30,-10-30,-14-30,-17-24,-17-26,-21-22,-23-19,-25-18,-30-13,-30-6,-25-4,-30 1,-25 7,-30 10,-25 16,-25 18,-21 40,-36 26,-16 30,-13 24,-7 26,-5 43,-2z"/>
<path fill="#0000e0" d="M4793,565l33,-4 30,2 36,7 44,6 46,11 30,11 30,15 44,29 26,21 35,37 27,35 24,40 17,40 8,35 0,35-3,15-5,15-13,20-20,15-26,8-20,0-20,-3-50,-17-4,0-36,16-34,9-36,4-40,-1-50,-8-44,-15-44,-23-36,-28-20,-20-17,-22-12,-20-11,-25-7,-30-1,-35-7,-30 0,-30 3,-15 8,-20 13,-20 15,-17 20,-16 20,-11 20,-9 27,-7z"/>
<path fill="#0000f5" d="M4826,570l26,1 24,5 20,7 26,12 44,2 40,11 30,14 26,15 30,22 23,21 28,30 26,35 20,35 15,35 7,35 0,30-7,25-12,18-16,12-14,6-20,2-20,-1-20,-5-26,-9-24,-12-26,-16-30,12-30,7-30,3-34,-3-36,-8-34,-13-30,-18-24,-20-14,-15-14,-20-18,-40-6,-3-19,-17-19,-25-6,-15-4,-15 0,-30 6,-20 9,-20 16,-20 17,-16 26,-15 24,-11 25,-6 25,-2z"/>
<path fill="#0012ff" d="M4798,580l28,-3 30,2 20,4 20,8 16,8 14,11 36,-3 34,6 26,10 20,10 24,16 26,19 30,28 28,34 22,35 17,35 10,35 3,30-5,25-11,20-11,10-13,7-20,4-20,0-30,-7-30,-12-30,-18-41,-30-29,10-26,4-30,-1-24,-5-30,-13-26,-16-20,-21-13,-22-41,-14-16,-7-14,-11-21,-23-11,-25-3,-15-1,-15 2,-15 5,-15 7,-15 10,-15 22,-20 30,-18 36,-12z"/>
<path fill="#0038ff" d="M4816,585l36,1 30,7 24,13 26,21 14,-6 20,-2 20,3 20,5 26,11 20,11 40,30 26,26 25,30 22,35 14,30 9,30 2,30-4,20-11,20-13,11-20,7-26,0-24,-5-26,-10-30,-16-24,-18-30,-27-40,-2-36,-8-34,-15-40,-25-30,-1-26,-4-24,-10-26,-17-17,-20-7,-15-5,-15-1,-15 1,-15 8,-25 17,-25 24,-21 20,-11 16,-6 34,-7z"/>
<path fill="#0066ff" d="M4798,595l18,-3 20,0 36,6 20,8 14,10 16,14 10,14 10,-7 14,-5 16,-1 20,2 20,6 20,9 24,14 20,14 27,24 27,30 20,30 15,30 10,30 4,25-4,25-9,17-14,13-20,6-20,1-26,-6-24,-10-26,-14-24,-19-30,-28-6,-2-30,-1-30,-5-34,-14-40,-25-30,2-26,-3-24,-9-26,-15-17,-18-12,-25-3,-25 6,-25 14,-25 18,-18 24,-16 32,-11z"/>
<path fill="#0099ff" d="M4812,600l24,-1 20,3 20,6 15,7 15,11 13,14 8,15 5,14 9,-13 11,-7 14,-5 20,0 20,4 26,10 24,14 20,15 26,23 21,25 20,30 12,25 9,25 3,25-3,20-8,16-14,13-16,5-20,0-20,-4-30,-12-24,-15-30,-24-26,-26-30,0-24,-5-36,-13-15,-10-15,-11-4,-1-30,4-26,-1-25,-7-25,-14-19,-20-10,-20-3,-25 5,-25 15,-25 22,-19 26,-13 30,-8z"/>
<path fill="#00ccff" d="M4795,610l21,-4 26,0 20,4 20,8 18,12 13,15 8,15 5,23 10,2 10,-15 16,-11 10,-4 14,-1 20,4 20,7 20,10 20,13 26,22 22,25 18,25 13,25 8,25 3,20-2,20-8,17-10,9-14,6-20,1-20,-4-30,-12-26,-17-24,-21-30,-33-26,2-30,-5-27,-13-23,-18-30,7-30,1-30,-6-24,-14-16,-15-11,-20-4,-20 4,-25 11,-20 16,-17 20,-14 23,-9z"/>
<path fill="#00ffff" d="M4798,615l24,-4 24,1 20,6 20,10 14,12 11,15 6,20 0,20 5,3 20,4 3,-2 6,-15 7,-10 14,-8 14,-3 16,1 20,6 20,9 20,13 24,21 20,21 15,20 14,25 9,25 3,20-3,20-7,15-14,10-17,4-20,-2-20,-6-24,-13-26,-19-20,-19-24,-32-6,-4-20,4-24,-4-26,-12-20,-18-30,12-30,4-30,-4-14,-6-16,-9-14,-15-9,-16-5,-20 3,-20 9,-20 16,-19 20,-13 22,-8z"/>
<path fill="#33ffcc" d="M4800,620l16,-3 15,-1 31,6 24,13 11,10 7,10 6,15 1,15-2,15-5,15-18,20-20,13-14,7-20,4-20,1-16,-2-15,-5-16,-8-13,-12-10,-13-6,-15-1,-15 2,-15 7,-15 12,-15 10,-9 16,-9 18,-7zM4981,675l11,-1 14,1 16,4 20,9 31,22 29,30 23,35 11,30 2,15-1,15-4,10-7,10-14,8-16,1-20,-3-20,-8-30,-19-26,-24-23,-30-12,-20-3,-10-15,10-11,1-10,-2-10,-4-11,-10-3,-7-1,-8 5,-7 8,-3 18,0 12,5 8,6 2,-6 1,-20 5,-15 10,-10 11,-5zM4956,734l0,3 0,-3z"/>
<path fill="#66ff99" d="M4800,625l26,-4 16,1 14,3 16,7 10,6 15,17 7,20 1,15-2,10-7,14-7,11-23,18-14,6-16,4-20,2-14,-1-16,-4-14,-7-16,-13-7,-10-5,-10-3,-15 1,-15 6,-15 8,-13 13,-12 13,-8 18,-7zM4984,685l12,-3 10,1 16,3 14,6 30,20 29,28 23,35 10,30 1,15-1,10-4,10-8,9-10,5-14,2-16,-3-14,-5-20,-10-16,-11-30,-30-21,-32-8,-20-4,-15 0,-15 3,-14 9,-11 9,-5z"/>
<path fill="#99ff66" d="M4799,630l27,-4 26,3 23,11 15,15 9,20-1,20-8,20-8,10-12,10-14,7-14,5-20,3-16,0-14,-4-16,-6-12,-10-9,-10-5,-10-3,-15 1,-15 4,-11 9,-14 10,-10 15,-10 13,-5zM4986,695l10,-3 10,-1 26,6 30,18 25,25 21,30 11,30 2,15-2,10-3,7-6,8-8,5-10,2-16,-1-14,-5-30,-18-30,-28-20,-30-6,-15-4,-15-1,-15 3,-10 6,-10 6,-5z"/>
<path fill="#ccff33" d="M4799,635l23,-5 24,2 20,8 18,15 6,10 3,10 0,20-9,20-15,15-13,7-15,6-15,2-14,0-16,-2-14,-6-11,-7-9,-10-6,-10-4,-15 1,-15 4,-10 6,-10 9,-10 14,-10 13,-5zM5005,700l21,3 26,12 20,16 20,24 14,25 6,20-1,20-5,8-4,5-10,4-11,1-25,-7-14,-8-16,-11-25,-27-16,-30-5,-25 2,-13 4,-8 10,-7 9,-2z"/>
<path fill="#ffff00" d="M4820,635l26,2 20,9 11,9 7,10 3,10 2,10-5,20-7,10-11,11-10,6-14,6-26,3-24,-5-19,-11-11,-15-4,-10 0,-10 5,-20 13,-17 20,-12 24,-6zM5005,710l17,0 20,7 20,13 20,21 15,24 6,20 1,10-2,10-8,10-8,3-10,1-10,-2-14,-5-24,-17-19,-20-15,-25-5,-15-1,-10 4,-15 4,-6 9,-4z"/>
<path fill="#ffcc00" d="M4815,640l21,0 20,6 10,6 8,8 8,15 1,10-1,10-7,15-15,15-24,10-24,2-20,-6-17,-11-7,-10-4,-10-1,-10 1,-10 5,-10 7,-10 16,-12 23,-8zM5010,720l16,0 15,5 21,14 14,16 10,15 8,20-1,15-6,10-11,4-20,-3-20,-12-19,-19-13,-20-6,-20 2,-15 3,-5 7,-5z"/>
<path fill="#ff9900" d="M4812,645l20,-1 20,5 15,11 9,15 1,15-5,16-13,14-17,9-20,3-20,-2-19,-10-12,-15-2,-10 0,-10 5,-15 15,-15 13,-7 10,-3zM5021,730l11,1 14,6 16,12 9,11 9,15 3,10 0,10-5,10-12,3-14,-4-16,-9-14,-15-9,-15-5,-15 1,-10 3,-5 9,-5z"/>
<path fill="#ff6600" d="M4811,650l21,-2 14,4 14,8 8,10 4,15-3,15-7,11-16,11-20,6-20,-2-15,-6-6,-5-8,-10-3,-10 0,-10 7,-15 11,-11 19,-9zM5027,745l5,-1 10,2 10,6 8,8 6,10 4,10 0,5-4,7-4,2-10,-2-10,-5-10,-10-8,-12-2,-10 1,-5 4,-5z"/>
<path fill="#ff3300" d="M4811,655l15,-2 16,2 10,5 10,10 4,10-1,15-6,10-13,11-14,6-20,0-16,-5-12,-12-4,-15 4,-15 12,-13 15,-7z"/>
<path fill="#ff0800" d="M4812,660l14,-2 10,2 12,5 8,9 4,11-2,10-6,10-6,5-14,7-16,1-14,-5-11,-8-4,-10 1,-15 8,-11 16,-9z"/>
<path fill="#e80000" d="M4810,665l12,-3 10,1 15,7 5,5 3,10-2,10-7,10-10,6-14,3-16,-3-8,-6-6,-10 0,-10 4,-10 14,-10z"/>
<path fill="#cf0000" d="M4807,670l9,-4 10,-1 16,5 5,5 4,10-2,10-3,5-10,7-10,3-12,0-11,-5-7,-10 0,-10 5,-10 6,-5z"/>
<path fill="#b80000" d="M4816,670l17,0 8,5 4,5 1,10-4,9-6,4-10,4-10,0-10,-5-4,-5-3,-7 3,-10 5,-5 9,-5z"/>
<path fill="#a30000" d="M4813,675l13,-3 10,4 6,9-2,10-5,5-9,3-10,0-7,-3-4,-5-1,-10 3,-5 6,-5z"/>
<path fill="#910000" d="M4813,680l9,-3 10,1 4,6 1,6-3,5-8,4-10,0-5,-4-2,-5 0,-5 4,-5z"/>
<path fill="#850000" d="M4815,685l7,-4 4,0 6,4 0,5-6,5-6,0-6,-5 1,-5z"/></g>
<rect x="411.6" y="1.5" width="163.2" height="162.6" fill="url(#dc)" opacity="0.035"/>
<rect x="411.6" y="1.5" width="163.2" height="162.6" fill="url(#dc)" opacity="0.55" mask="url(#gc)"/>
<path d="M468.0,56.9L466.1,55.3M473.1,56.9L470.5,53.6M478.2,56.9L476.6,52.8M483.3,56.9L483.3,52.6M488.4,56.9L489.6,53.0M493.5,56.9L494.9,53.6M498.6,56.9L499.2,55.6M462.9,62.0L459.7,60.7M468.0,62.0L463.6,59.8M473.1,62.0L468.0,58.2M478.2,62.0L474.8,56.5M483.3,62.0L483.9,56.2M488.4,62.0L491.6,57.0M493.5,62.0L496.1,58.2M498.6,62.0L499.9,59.0M503.8,62.0L504.8,59.6M508.8,62.0L509.8,60.6M457.8,67.1L455.8,66.8M462.9,67.1L458.7,66.5M468.0,67.1L461.1,65.9M473.1,67.1L463.6,65.0M478.2,67.1L468.6,63.0M483.3,67.1L483.5,66.9M488.4,67.1L498.0,63.1M493.5,67.1L498.1,63.1M498.6,67.1L499.2,63.8M503.8,67.1L504.5,63.8M508.8,67.1L510.8,64.1M514.0,67.1L516.6,65.0M457.8,72.2L455.4,72.3M462.9,72.2L458.5,72.5M468.0,72.2L460.8,73.2M473.1,72.2L463.5,74.8M478.2,72.2L469.5,78.7M483.3,72.2L485.9,81.3M488.4,72.2L498.5,76.8M493.5,72.2L498.6,68.5M498.6,72.2L496.3,68.9M503.8,72.2L503.4,68.6M508.8,72.2L512.0,69.1M514.0,72.2L518.2,70.4M519.0,72.2L522.6,71.3M457.8,77.3L456.3,77.6M462.9,77.3L459.4,78.3M468.0,77.3L462.9,79.3M473.1,77.3L466.7,81.2M478.2,77.3L472.8,83.8M483.3,77.3L481.3,85.2M488.4,77.3L495.5,82.1M493.5,77.3L493.8,73.5M498.6,77.3L491.6,78.0M503.8,77.3L501.2,78.5M508.8,77.3L515.9,78.0M514.0,77.3L520.4,77.6M519.0,77.3L523.4,77.5M524.1,77.3L525.7,77.4M457.8,82.4L457.7,82.5M462.9,82.4L460.5,83.5M468.0,82.4L464.6,84.4M473.1,82.4L469.1,85.5M478.2,82.4L473.8,86.6M483.3,82.4L476.6,85.1M488.4,82.4L487.0,78.8M493.5,82.4L498.9,83.1M498.6,82.4L496.7,87.0M503.8,82.4L503.6,87.2M508.8,82.4L512.4,86.5M514.0,82.4L518.3,84.7M519.0,82.4L522.6,83.6M524.1,82.4L525.9,82.8M462.9,87.5L462.3,87.9M468.0,87.5L466.0,89.0M473.1,87.5L470.6,89.8M478.2,87.5L475.5,90.3M483.3,87.5L480.6,90.4M488.4,87.5L487.8,90.9M493.5,87.5L495.2,90.4M498.6,87.5L499.3,91.3M503.8,87.5L504.6,91.6M508.8,87.5L511.0,91.1M514.0,87.5L516.7,90.0M519.0,87.5L521.5,89.0M524.1,87.5L524.6,87.7M468.0,92.6L467.9,92.7M473.1,92.6L472.2,93.6M478.2,92.6L477.1,94.3M483.3,92.6L482.4,94.5M488.4,92.6L488.2,94.2M493.5,92.6L493.8,94.7M498.6,92.6L499.2,95.4M503.8,92.6L504.7,95.6M508.8,92.6L510.3,95.3M514.0,92.6L515.6,94.6M519.0,92.6L520.3,93.6M493.5,97.7L493.6,98.2M498.6,97.7L498.9,98.9M503.8,97.7L504.2,99.2M508.8,97.7L509.5,99.0M514.0,97.7L514.4,98.4M481.2,62.0L474.7,50.2M486.9,62.0L489.8,50.4M475.5,67.7L457.7,67.1" stroke="#fff" stroke-width="0.75" stroke-linecap="round" fill="none"/><path d="M465.1,54.5L466.8,54.9L465.8,56.0ZM469.0,51.8L471.3,53.3L470.0,54.4ZM475.7,50.6L477.5,52.8L475.9,53.5ZM483.2,50.2L484.2,52.9L482.4,52.9ZM490.2,50.8L490.3,53.5L488.6,53.0ZM495.6,51.9L495.6,54.2L494.0,53.6ZM499.7,54.5L499.7,56.1L498.5,55.6ZM458.0,60.1L460.3,60.1L459.7,61.6ZM461.2,58.6L464.3,59.1L463.5,60.8ZM465.8,56.6L468.9,57.5L467.6,59.2ZM473.4,54.3L475.9,56.2L474.1,57.4ZM484.1,53.5L484.9,56.6L482.8,56.4ZM493.1,54.7L492.3,57.8L490.6,56.7ZM497.5,56.1L496.7,59.0L495.2,58.0ZM500.6,57.5L500.6,59.6L499.1,59.0ZM505.3,58.5L505.3,60.2L504.0,59.6ZM510.4,59.6L510.2,61.2L509.0,60.4ZM454.6,66.7L456.2,66.2L456.0,67.6ZM456.3,66.1L459.1,65.6L458.8,67.4ZM458.5,65.4L461.6,64.9L461.2,67.0ZM460.9,64.4L464.1,64.0L463.6,66.1ZM466.2,61.9L469.3,62.1L468.5,64.1ZM484.1,65.9L483.8,67.5L482.8,66.9ZM500.5,62.1L498.2,64.2L497.3,62.3ZM500.1,61.3L498.5,64.0L497.1,62.5ZM499.4,62.1L499.9,64.2L498.3,64.0ZM504.8,62.1L505.2,64.3L503.6,63.9ZM511.9,62.6L511.4,64.9L510.0,63.9ZM518.0,63.9L516.9,65.8L515.9,64.5ZM454.2,72.4L455.7,71.6L455.7,73.0ZM456.1,72.7L458.8,71.6L458.9,73.4ZM458.2,73.5L461.0,72.1L461.3,74.2ZM460.9,75.5L463.5,73.7L464.1,75.7ZM467.3,80.3L469.1,77.7L470.3,79.4ZM486.6,83.9L484.8,81.3L486.8,80.7ZM501.0,77.9L497.8,77.6L498.7,75.7ZM500.8,66.9L499.0,69.5L497.8,67.8ZM495.0,67.0L497.2,68.6L495.7,69.6ZM503.3,66.7L504.3,68.8L502.6,69.0ZM513.8,67.4L512.4,70.0L511.2,68.7ZM520.6,69.4L518.3,71.4L517.6,69.6ZM524.6,70.8L522.6,72.2L522.1,70.5ZM455.1,77.9L456.5,76.9L456.7,78.2ZM457.5,78.8L459.5,77.4L459.9,79.0ZM460.4,80.3L462.8,78.3L463.5,80.1ZM464.4,82.7L466.5,80.2L467.6,82.0ZM471.1,85.9L472.2,82.9L473.8,84.2ZM480.7,87.8L480.4,84.7L482.4,85.2ZM497.8,83.6L494.7,82.8L495.9,81.1ZM493.9,71.4L494.6,73.8L492.9,73.7ZM488.9,78.2L491.8,76.9L492.0,79.0ZM499.9,79.1L501.1,77.7L501.8,79.1ZM518.6,78.2L515.5,79.0L515.7,76.9ZM523.1,77.8L520.1,78.7L520.2,76.6ZM525.7,77.6L523.0,78.4L523.1,76.6ZM526.9,77.4L525.4,78.0L525.5,76.7ZM456.5,82.9L457.7,81.8L458.1,82.9ZM459.4,84.0L460.5,82.7L461.1,84.0ZM462.8,85.5L464.4,83.5L465.3,85.0ZM467.0,87.1L468.8,84.6L470.0,86.1ZM471.8,88.4L473.3,85.6L474.7,87.1ZM474.1,86.2L476.5,84.1L477.3,86.0ZM486.2,76.9L487.9,78.8L486.3,79.4ZM501.5,83.5L498.4,84.1L498.7,82.1ZM495.6,89.4L495.9,86.3L497.7,87.1ZM503.5,89.9L502.6,86.9L504.5,86.9ZM514.2,88.5L511.5,86.9L513.0,85.6ZM520.7,85.9L517.6,85.4L518.4,83.7ZM524.5,84.3L522.0,84.3L522.6,82.7ZM527.0,83.1L525.4,83.4L525.8,82.1ZM461.3,88.5L462.2,87.2L462.9,88.3ZM465.0,89.8L465.8,88.3L466.7,89.5ZM469.3,91.0L470.3,89.0L471.4,90.2ZM474.0,91.8L475.1,89.5L476.3,90.7ZM479.0,92.0L480.1,89.6L481.4,90.8ZM487.5,92.7L487.1,90.5L488.7,90.8ZM496.0,91.8L494.3,90.5L495.7,89.7ZM499.6,93.4L498.4,91.2L500.1,90.9ZM505.1,93.9L503.7,91.5L505.4,91.2ZM512.2,93.1L510.1,91.3L511.6,90.4ZM518.2,91.4L515.9,90.5L517.1,89.2ZM522.8,89.8L520.9,89.5L521.7,88.2ZM525.7,88.2L524.1,88.1L524.6,87.0ZM467.0,93.6L467.7,92.1L468.5,93.0ZM471.4,94.5L471.9,93.0L472.9,93.8ZM476.4,95.2L476.7,93.6L477.8,94.4ZM481.9,95.6L481.9,93.9L483.2,94.5ZM488.0,95.4L487.6,93.8L488.9,94.0ZM494.0,95.9L493.1,94.5L494.5,94.3ZM499.5,96.7L498.4,95.2L499.9,94.9ZM505.1,97.1L503.8,95.5L505.3,95.1ZM511.0,96.6L509.5,95.4L510.8,94.7ZM516.5,95.6L514.9,94.9L516.0,93.9ZM521.2,94.4L519.6,93.9L520.5,92.9ZM493.6,99.4L493.0,97.9L494.2,97.8ZM499.1,100.1L498.2,98.7L499.4,98.5ZM504.6,100.3L503.5,99.1L504.8,98.7ZM510.0,100.1L508.8,99.0L509.9,98.4ZM515.1,99.4L513.8,98.5L514.8,97.8ZM473.4,47.8L475.8,49.9L473.9,50.9ZM490.4,47.8L490.7,51.0L488.7,50.5ZM455.0,67.0L458.0,66.1L458.0,68.2Z" fill="#fff" stroke="#fff" stroke-width="0.3" stroke-linejoin="round"/>
<path d="M446.0,96.9 445.9,94.8 446.0,92.6 446.2,90.4 446.5,88.0 446.9,85.8 447.4,83.6 448.0,81.4 448.8,79.3 449.6,77.2 450.5,75.2 451.5,73.2 452.6,71.3 453.7,69.4 455.0,67.6 456.3,65.8 457.8,64.1 459.2,62.5 460.8,61.0 462.3,59.7 464.0,58.4 465.8,57.2 467.5,56.2 469.3,55.2 471.0,54.4 472.7,53.8 474.4,53.3 476.1,53.0 477.8,52.7 479.6,52.5 481.3,52.4 483.0,52.3 484.7,52.4 486.5,52.4 488.2,52.6 489.9,52.9 491.5,53.2 493.1,53.7 494.7,54.2 496.3,54.9 497.8,55.5 499.3,56.2 500.7,56.9 502.2,57.6 503.7,58.3 505.1,59.0 506.5,59.7 507.8,60.4 508.9,61.0 510.0,61.6 510.9,62.1 511.7,62.5 512.5,63.0 513.3,63.5 514.1,64.1 514.9,64.7 515.8,65.3 516.7,65.9 517.6,66.6 518.4,67.4 519.2,68.2 520.0,69.1 520.7,70.0 521.4,71.1 522.1,72.1 522.7,73.2 523.3,74.3 523.8,75.5 524.3,76.6 524.7,77.7 525.0,78.9 525.2,80.2 525.3,81.5 525.3,82.9 525.2,84.4 525.1,86.0 524.8,87.6 524.4,89.2 523.9,90.7 523.3,92.3 522.7,93.9 521.9,95.4 521.1,97.0 520.2,98.5 519.2,100.0 518.2,101.4 517.1,102.8 516.0,104.2 514.7,105.6 513.4,106.9 512.0,108.2 510.5,109.4 508.9,110.7 507.2,111.9 505.4,113.1 503.6,114.3 501.8,115.3 499.9,116.4 497.9,117.4 495.9,118.4 493.8,119.3 491.7,120.1 489.5,120.9 487.2,121.5 484.7,122.2 482.2,122.7 479.7,123.1 477.3,123.4 475.1,123.5 473.0,123.5 471.0,123.4 469.2,123.1 467.3,122.7 465.6,122.1 463.8,121.5 462.1,120.7 460.5,119.8 458.9,118.8 457.3,117.7 455.9,116.5 454.6,115.3 453.4,114.1 452.3,112.8 451.3,111.5 450.4,110.1 449.6,108.7 448.9,107.1 448.2,105.6 447.5,104.0 447.0,102.3 446.5,100.6 446.2,98.8Z" fill="none" stroke="#00ee00" stroke-width="1.7" stroke-linejoin="round"/>
</g>
<rect x="411.6" y="1.5" width="163.2" height="162.6" fill="none" stroke="#000" stroke-width="1.45"/>
<text x="395.8" y="10.1" font-size="20" font-weight="bold" fill="#000" textLength="12.2" lengthAdjust="spacingAndGlyphs">y</text>
<text x="575.5" y="178.3" font-size="22" stroke="#000" stroke-width="0.55" text-anchor="end" fill="#000" textLength="12.2" lengthAdjust="spacingAndGlyphs">x</text>
<g fill="#fff">
<g stroke="#fff" stroke-width="0.45" stroke-linejoin="round">
<text x="416.1" y="20.8" font-size="15" textLength="6.6" lengthAdjust="spacingAndGlyphs">t</text>
<text x="423.9" y="20.8" font-size="15" textLength="13.6" lengthAdjust="spacingAndGlyphs">=</text>
<text x="439.1" y="20.8" font-size="15" textLength="43.4" lengthAdjust="spacingAndGlyphs">7.635</text>
</g>
<text x="482.5" y="20.8" font-size="16.5" font-style="italic" textLength="11.3" lengthAdjust="spacingAndGlyphs">ω</text>
<text x="494.4" y="26.2" font-size="12" stroke="#fff" stroke-width="0.3" textLength="6.8" lengthAdjust="spacingAndGlyphs">a</text>
<text x="495.9" y="14.8" font-size="11" textLength="9" lengthAdjust="spacingAndGlyphs">−</text>
<text x="506.8" y="15.5" font-size="10.5" font-weight="bold" textLength="6.2" lengthAdjust="spacingAndGlyphs">1</text>
<text x="572.3" y="22.1" font-size="24" text-anchor="end">)</text>
<text transform="translate(564.3,20.9) scale(1.13,1)" font-size="22" font-weight="bold" text-anchor="end">c</text>
</g>
<g clip-path="url(#cd)">
<rect x="15.7" y="195.5" width="163.2" height="161.9" fill="#000098"/>
<g filter="url(#bl)" transform="scale(0.1)"><path fill="#0000a2" d="M855,2420l41,-4 45,1 60,6 55,10 40,10 40,15 40,19 35,22 30,23 30,28 24,30 18,30 12,30 9,35 4,35-3,35-7,35-15,40-24,45-25,40-31,40-37,40-35,33-40,32-45,30-45,27-40,18-45,17-55,16-50,10-45,5-40,-1-30,-6-30,-9-30,-12-25,-12-25,-16-21,-17-26,-25-23,-25-15,-20-16,-25-12,-25-9,-25-4,-20-3,-25 1,-30 2,-30 7,-40 9,-35 13,-35 19,-45 21,-40 27,-45 24,-35 24,-30 47,-50 20,-16 25,-16 30,-15 25,-10 35,-10 39,-8z"/>
<path fill="#0000b3" d="M874,2445l37,-1 40,4 55,10 50,13 45,15 35,16 35,19 30,20 28,24 22,25 18,25 15,30 9,30 5,30 1,30-3,30-8,30-13,35-22,40-22,32-25,31-35,35-35,30-36,27-39,25-45,25-45,20-43,15-55,15-52,9-35,3-35,-3-50,-14-24,-10-27,-15-21,-15-23,-20-25,-25-20,-25-15,-24-10,-20-10,-36-2,-25 0,-25 6,-55 8,-35 13,-40 32,-75 22,-40 21,-34 19,-26 26,-30 20,-22 21,-18 22,-15 22,-13 25,-10 30,-10 35,-8 28,-4z"/>
<path fill="#0000bf" d="M865,2470l31,-3 30,1 51,7 34,1 25,6 25,15 60,25 45,26 37,27 32,35 21,35 13,35 5,40-2,40-12,40-20,40-29,38-30,27-20,13-25,11-30,8-30,5-35,2-40,-1-40,-5-35,-7-35,-10-35,-13-30,-14-30,-17-30,-21-24,-21-21,-21-19,-24-16,-25-13,-25-9,-25-6,-25-2,-20 2,-20 4,-20 10,-25 15,-25 19,-25 18,-20 25,-20 57,-35 20,-6 39,-4z"/>
<path fill="#0000ce" d="M820,2485l16,-4 20,0 20,3 20,6 55,0 40,-7 30,3 20,8 25,20 40,18 61,38 24,12 15,11 17,17 13,25 7,25 8,55-2,30-6,25-12,25-15,22-15,16-20,15-20,12-25,10-25,8-30,7-30,3-30,1-30,-2-30,-4-55,-15-30,-12-25,-13-25,-16-20,-15-32,-32-15,-20-12,-20-9,-20-6,-20-4,-20-1,-25 3,-30 8,-25 14,-25 19,-25 11,-35 7,-10 7,-8 10,-6 14,-6z"/>
<path fill="#0000e0" d="M839,2490l17,-1 20,3 20,7 20,10 25,-4 20,-7 20,-5 20,-1 20,4 20,9 20,18 45,23 32,24 38,12 25,17 15,16 11,20 6,20 0,20-3,15-6,15-13,20-7,20-7,15-15,20-15,15-16,12-20,12-20,9-45,12-45,4-50,-4-45,-12-45,-21-35,-24-26,-28-20,-30-11,-30-4,-30 3,-30 7,-20 8,-15 0,-5-14,-35-2,-15 2,-15 6,-15 11,-12 15,-9 18,-4z"/>
<path fill="#0000f5" d="M833,2500l23,-3 25,4 20,8 25,15 30,-15 25,-7 25,-1 25,9 15,10 15,18 34,17 31,24 25,3 15,4 20,11 15,13 15,20 8,25-1,25-8,20-10,15-19,16-20,10-30,9-14,15-16,11-20,10-25,9-30,4-30,1-25,-4-30,-7-25,2-15,-1-20,-6-15,-11-11,-13-8,-15-6,-20-3,-20-1,-35 3,-20 6,-20-3,-5-19,-15-14,-15-11,-20-5,-15-1,-20 2,-10 5,-10 11,-12 17,-8z"/>
<path fill="#0012ff" d="M842,2505l19,-1 25,5 20,10 20,15 30,-17 25,-8 25,0 20,6 15,11 20,24 27,15 23,20 5,2 25,0 15,3 20,8 17,12 15,20 7,20 1,25-7,20-10,15-13,11-15,9-15,6-15,3-20,0-15,-3-15,-6-10,-1-15,12-19,9-26,5-30,0-30,17-20,7-25,3-15,-2-10,-4-15,-11-9,-10-8,-15-6,-20-3,-20 0,-20 4,-25 7,-25-1,-5-19,-12-18,-18-10,-15-7,-20 0,-20 5,-15 5,-7 10,-7 16,-6z"/>
<path fill="#0038ff" d="M838,2515l13,-3 10,-1 25,6 20,10 20,17 25,-16 25,-10 25,-1 20,6 10,6 10,10 15,26 24,15 16,18 5,1 25,-5 20,1 20,7 20,13 12,15 8,20 1,20-5,20-11,15-20,16-20,7-20,3-20,-3-20,-8-19,-15-11,-17-5,-1-20,4-5,4-13,20-17,19-15,13-20,13-15,7-20,5-20,-1-15,-4-15,-11-9,-11-7,-15-6,-20-1,-20 1,-20 5,-25 6,-20-4,-4-20,-13-14,-13-13,-20-4,-15-1,-15 6,-15 6,-8 12,-7z"/>
<path fill="#0066ff" d="M851,2520l20,0 20,6 20,13 15,15 20,-15 25,-11 25,-3 20,5 15,10 8,10 8,15 4,16 20,19 10,20 25,-14 25,-4 25,4 10,5 14,9 12,15 6,15 1,20-5,15-10,15-18,14-20,7-25,1-20,-6-20,-14-11,-17-9,-23-25,11-11,22-15,20-19,19-20,15-15,8-20,6-20,0-15,-5-12,-8-9,-10-9,-15-5,-20-1,-20 1,-20 4,-20 9,-25-23,-13-14,-12-12,-15-6,-15-1,-15 5,-15 8,-9 15,-6z"/>
<path fill="#0099ff" d="M851,2530l15,-2 20,4 20,12 15,18 5,1 20,-16 20,-9 20,-4 15,1 10,3 10,7 15,17 7,18 3,25 0,25-9,25-11,25-16,25-19,20-25,19-25,9-15,1-10,-1-10,-3-10,-6-8,-9-7,-10-8,-25-1,-25 5,-30 11,-30-2,-3-15,-5-15,-9-10,-9-9,-14-4,-15 0,-10 4,-10 5,-5 9,-5zM1108,2615l18,-4 20,1 20,9 15,14 7,15 1,20-3,10-6,10-14,13-20,9-25,1-21,-8-16,-15-6,-10-3,-10 0,-15 3,-10 5,-10 8,-10 17,-10z"/>
<path fill="#00ccff" d="M852,2540l9,-3 10,-1 20,7 16,12 12,20 2,1 15,-14 15,-10 15,-7 15,-3 15,0 10,3 15,10 8,10 8,20 3,20-1,20-6,25-11,25-15,25-16,17-20,16-25,11-20,2-20,-6-10,-7-6,-8-5,-10-5,-15-1,-30 5,-30 14,-35-17,-3-10,-3-13,-9-9,-10-6,-15-1,-10 4,-10 6,-5zM1121,2620l20,0 15,5 13,10 9,15 2,15-4,15-10,12-15,10-20,3-20,-4-16,-11-9,-15-2,-10 1,-10 6,-15 10,-11 20,-9z"/>
<path fill="#00ffff" d="M857,2550l9,-4 10,0 10,3 9,6 9,10 4,10-2,10-3,5-7,3-10,2-10,-3-11,-7-9,-10-3,-10 1,-10 3,-5zM974,2550l12,-1 15,2 15,9 8,10 7,15 3,20-1,20-4,20-7,20-11,20-15,20-15,14-15,10-15,7-15,3-15,-1-10,-3-10,-8-9,-12-4,-10-4,-15 0,-15 4,-30 15,-35 18,-27 25,-21 15,-8 13,-4zM1117,2630l14,-3 15,3 10,5 10,10 4,10 0,15-9,14-10,8-15,5-15,-2-15,-7-10,-12-2,-11 2,-15 6,-10 15,-10z"/>
<path fill="#33ffcc" d="M869,2560l7,-2 10,4 7,8 0,5-2,5-10,2-10,-6-5,-9 3,-7zM961,2560l15,-4 15,0 15,6 10,8 9,15 3,15 1,15-2,20-6,20-9,20-11,16-15,17-15,12-15,8-15,4-15,0-10,-3-10,-6-6,-8-6,-10-5,-25 2,-25 9,-30 16,-28 20,-22 25,-15zM1118,2640l8,-3 10,0 10,3 7,5 6,10 1,10-4,9-5,6-10,6-15,1-10,-4-8,-8-4,-10 1,-10 6,-10 7,-5z"/>
<path fill="#66ff99" d="M963,2565l13,-4 15,1 10,4 11,9 8,15 4,15 0,15-3,20-6,20-8,15-11,16-15,16-15,11-15,6-15,3-10,-1-15,-7-7,-9-6,-10-4,-25 2,-25 9,-25 16,-28 20,-20 22,-12zM1130,2650l6,1 5,3 4,6 0,5-3,5-6,3-10,0-4,-3-3,-5 2,-10 9,-5z"/>
<path fill="#99ff66" d="M964,2570l12,-3 10,0 10,3 13,10 6,10 4,15 1,15-3,20-7,20-8,15-21,26-15,11-15,7-15,2-10,-1-15,-10-10,-17-3,-23 4,-25 10,-25 14,-22 20,-19 18,-9z"/>
<path fill="#ccff33" d="M965,2575l11,-2 10,0 10,4 10,10 5,9 4,14 0,15-2,15-12,30-20,25-10,9-15,8-15,3-10,0-15,-8-10,-15-3,-17 2,-25 8,-25 13,-21 20,-20 19,-9z"/>
<path fill="#ffff00" d="M965,2580l11,-2 10,1 10,5 6,6 6,10 2,10 1,15-2,15-5,15-7,15-11,14-10,10-10,8-15,7-10,1-10,-1-13,-9-9,-15-2,-20 3,-20 8,-20 13,-21 15,-14 19,-10z"/>
<path fill="#ffcc00" d="M965,2585l11,-2 10,2 5,3 8,7 5,10 2,10-1,25-10,25-9,13-10,11-20,13-10,2-10,0-10,-4-5,-4-6,-11-4,-20 3,-20 8,-20 14,-20 15,-14 14,-6z"/>
<path fill="#ff9900" d="M966,2590l16,0 9,5 5,6 6,19-3,25-11,25-17,18-10,6-10,4-15,0-10,-5-8,-13-2,-15 2,-20 8,-20 10,-15 15,-13 15,-7z"/>
<path fill="#ff6600" d="M968,2595l13,1 11,9 5,10 1,10-3,20-9,20-15,17-10,7-10,4-15,-1-9,-7-6,-12-1,-13 4,-20 7,-15 10,-14 15,-12 12,-4z"/>
<path fill="#ff3300" d="M956,2605l15,-5 10,3 5,4 6,13 0,20-8,20-13,16-15,10-15,1-10,-6-3,-6-3,-10 1,-15 4,-15 6,-12 10,-11 10,-7z"/>
<path fill="#ff0800" d="M958,2610l13,-3 10,5 7,13-1,15-5,15-11,15-15,10-10,1-10,-5-4,-6-2,-10 0,-10 5,-15 6,-10 9,-10 8,-5z"/>
<path fill="#e80000" d="M957,2615l9,-3 11,3 6,10 1,15-6,15-7,10-14,10-11,1-5,-2-5,-6-2,-8 0,-10 8,-20 8,-10 7,-5z"/>
<path fill="#cf0000" d="M955,2620l6,-3 10,0 5,3 4,5 1,10-3,15-7,10-10,9-10,3-7,-2-5,-5-2,-15 5,-15 13,-15z"/>
<path fill="#b80000" d="M954,2625l7,-4 10,1 5,6 2,7-2,10-5,10-10,10-10,3-5,-2-5,-6-1,-10 5,-15 9,-10z"/>
<path fill="#a30000" d="M961,2625l5,0 5,3 3,7-1,10-5,10-5,5-7,3-5,0-5,-2-2,-6 0,-10 7,-14 10,-6z"/>
<path fill="#910000" d="M960,2630l6,0 4,5-1,10-8,11-5,2-5,-1-3,-7 0,-5 5,-10 7,-5z"/>
<path fill="#850000" d="M961,2635l5,5-1,5-4,6-5,2-3,-3-1,-5 4,-8 5,-2z"/></g>
<rect x="15.7" y="195.5" width="163.2" height="161.9" fill="url(#dd)" opacity="0.035"/>
<rect x="15.7" y="195.5" width="163.2" height="161.9" fill="url(#dd)" opacity="0.55" mask="url(#gd)"/>
<path d="M87.3,245.8L85.5,242.4M77.1,250.9L75.3,249.5M82.2,250.9L79.1,247.8M87.3,250.9L83.2,244.7M92.5,250.9L89.3,241.7M97.5,250.9L97.0,240.7M102.6,250.9L104.0,242.2M72.0,256.0L71.5,255.8M77.1,256.0L73.9,254.4M82.2,256.0L76.7,252.2M87.3,256.0L80.0,248.2M92.5,256.0L86.8,242.9M97.5,256.0L98.0,240.8M102.6,256.0L106.5,243.5M107.8,256.0L110.6,246.7M112.8,256.0L115.5,249.2M72.0,261.1L70.6,260.8M77.1,261.1L73.2,260.1M82.2,261.1L75.2,258.7M87.3,261.1L76.8,255.4M92.5,261.1L82.5,247.8M97.5,261.1L102.2,243.9M102.6,261.1L112.2,249.0M107.8,261.1L109.2,248.6M112.8,261.1L115.1,249.7M118.0,261.1L124.3,254.2M72.0,266.2L70.5,266.2M77.1,266.2L73.3,266.2M82.2,266.2L75.9,266.2M87.3,266.2L77.9,266.4M92.5,266.2L82.4,266.8M97.5,266.2L100.3,266.5M102.6,266.2L113.1,266.0M107.8,266.2L98.7,260.9M112.8,266.2L111.6,257.9M118.0,266.2L125.6,263.6M123.0,266.2L128.4,265.4M72.0,271.3L71.1,271.5M77.1,271.3L74.0,272.1M82.2,271.3L77.8,272.9M87.3,271.3L81.6,274.6M92.5,271.3L88.6,276.7M97.5,271.3L98.8,277.0M102.6,271.3L105.6,276.3M107.8,271.3L105.4,274.9M112.8,271.3L112.7,275.1M118.0,271.3L121.9,273.8M123.0,271.3L127.1,272.5M72.0,276.4L72.1,276.4M77.1,276.4L75.0,277.4M82.2,276.4L79.3,278.4M87.3,276.4L84.3,279.6M92.5,276.4L90.5,280.7M97.5,276.4L97.4,281.0M102.6,276.4L103.2,280.5M107.8,276.4L107.7,279.7M112.8,276.4L113.5,279.9M118.0,276.4L120.1,279.3M123.0,276.4L125.6,278.2M77.1,281.5L76.6,281.9M82.2,281.5L80.6,283.1M87.3,281.5L85.6,284.0M92.5,281.5L91.2,284.7M97.5,281.5L97.1,284.8M102.6,281.5L102.7,284.5M107.8,281.5L108.0,283.8M112.8,281.5L113.5,283.9M118.0,281.5L119.2,283.6M123.0,281.5L124.2,282.7M82.2,286.6L82.0,286.9M87.3,286.6L86.7,287.8M92.5,286.6L91.8,288.3M97.5,286.6L97.3,288.4M102.6,286.6L102.7,288.0M107.8,286.6L107.8,287.2M112.8,286.6L113.0,287.2M118.0,286.6L118.2,287.0M123.0,286.6L122.9,286.5M97.5,291.7L97.6,291.5" stroke="#fff" stroke-width="0.75" stroke-linecap="round" fill="none"/><path d="M84.5,240.5L86.4,242.2L84.9,243.0ZM74.3,248.8L76.0,249.1L75.1,250.3ZM77.3,246.0L79.9,247.3L78.6,248.6ZM81.7,242.5L84.3,244.4L82.5,245.6ZM88.4,239.2L90.4,241.7L88.4,242.4ZM96.8,238.0L98.0,240.9L95.9,241.1ZM104.4,239.5L105.0,242.6L102.9,242.3ZM70.4,255.3L72.0,255.3L71.6,256.5ZM72.2,253.5L74.6,253.8L73.8,255.3ZM74.5,250.7L77.6,251.6L76.4,253.3ZM78.1,246.2L81.0,247.7L79.4,249.1ZM85.8,240.4L87.9,242.7L86.0,243.6ZM98.1,238.1L99.1,241.1L97.0,241.0ZM107.2,240.9L107.4,244.1L105.4,243.5ZM111.3,244.1L111.5,247.3L109.5,246.7ZM116.5,246.7L116.4,249.9L114.4,249.1ZM69.4,260.6L71.0,260.2L70.8,261.5ZM71.1,259.6L73.7,259.3L73.3,261.0ZM72.6,257.8L75.8,257.8L75.1,259.8ZM74.5,254.1L77.6,254.6L76.6,256.4ZM80.9,245.7L83.6,247.5L81.9,248.7ZM102.9,241.3L103.1,244.4L101.1,243.9ZM113.9,246.9L112.9,249.9L111.2,248.6ZM109.5,246.0L110.2,249.1L108.1,248.8ZM115.6,247.1L116.1,250.2L114.0,249.8ZM126.1,252.2L124.9,255.1L123.3,253.7ZM69.3,266.2L70.8,265.5L70.8,266.9ZM71.3,266.2L73.6,265.4L73.6,267.1ZM73.2,266.3L76.2,265.2L76.2,267.3ZM75.2,266.4L78.2,265.3L78.2,267.4ZM79.7,266.9L82.7,265.7L82.8,267.8ZM101.7,266.7L99.9,267.2L100.1,265.8ZM115.8,266.0L112.8,267.1L112.8,265.0ZM96.3,259.5L99.5,260.1L98.4,261.9ZM111.2,255.2L112.7,258.0L110.6,258.3ZM128.1,262.7L125.6,264.7L124.9,262.7ZM131.1,265.0L128.3,266.4L128.0,264.5ZM69.9,271.7L71.2,270.8L71.5,272.1ZM72.3,272.5L74.1,271.3L74.5,272.8ZM75.2,273.8L77.7,271.9L78.4,273.7ZM79.3,275.9L81.4,273.5L82.4,275.3ZM87.1,278.9L87.9,275.8L89.7,277.0ZM99.4,279.7L97.8,276.9L99.8,276.5ZM107.0,278.6L104.6,276.6L106.3,275.5ZM104.0,276.9L104.8,274.1L106.3,275.1ZM112.7,277.1L111.9,274.8L113.6,274.8ZM124.1,275.2L121.1,274.4L122.2,272.9ZM129.3,273.2L126.5,273.3L127.1,271.6ZM70.9,276.8L72.1,275.8L72.5,276.8ZM74.0,278.0L75.0,276.7L75.6,278.0ZM77.7,279.5L79.0,277.6L80.0,278.9ZM82.6,281.4L83.9,278.7L85.2,280.0ZM89.5,283.0L89.8,280.0L91.5,280.8ZM97.3,283.5L96.5,280.6L98.3,280.7ZM103.5,282.8L102.3,280.3L104.0,280.1ZM107.6,281.4L106.9,279.4L108.5,279.4ZM113.9,281.8L112.7,279.8L114.3,279.5ZM121.3,280.8L119.3,279.6L120.6,278.6ZM126.9,279.1L124.9,278.7L125.8,277.4ZM75.6,282.6L76.4,281.2L77.2,282.2ZM79.7,284.0L80.3,282.4L81.3,283.4ZM84.7,285.3L85.1,283.3L86.4,284.2ZM90.6,286.3L90.6,284.1L92.1,284.7ZM96.9,286.6L96.4,284.4L98.0,284.6ZM102.8,286.1L102.0,284.3L103.5,284.2ZM108.2,285.0L107.3,283.6L108.7,283.4ZM113.9,285.1L112.8,283.8L114.2,283.4ZM119.8,284.6L118.4,283.7L119.6,282.9ZM125.0,283.6L123.5,282.9L124.5,282.0ZM81.3,287.8L81.7,286.3L82.7,287.0ZM86.1,288.8L86.3,287.2L87.4,287.8ZM91.5,289.5L91.3,287.8L92.6,288.3ZM97.1,289.6L96.6,288.0L98.0,288.2ZM102.7,289.2L102.0,287.7L103.3,287.7ZM108.0,288.4L107.2,287.0L108.4,286.8ZM113.4,288.4L112.4,287.1L113.5,286.7ZM118.7,288.1L117.5,287.0L118.6,286.5ZM123.7,287.4L122.3,286.6L123.2,285.9ZM97.4,292.7L97.1,291.1L98.2,291.3Z" fill="#fff" stroke="#fff" stroke-width="0.3" stroke-linejoin="round"/>
<path d="M49.5,291.9 49.5,290.3 49.5,288.6 49.6,286.6 49.8,284.6 50.1,282.6 50.5,280.6 51.1,278.6 51.8,276.6 52.6,274.5 53.5,272.4 54.6,270.3 55.6,268.3 56.8,266.3 58.1,264.4 59.5,262.4 60.9,260.5 62.4,258.7 63.8,257.0 65.3,255.4 66.8,253.9 68.3,252.4 69.9,251.1 71.5,249.9 73.1,248.8 74.7,248.0 76.5,247.3 78.3,246.8 80.0,246.4 81.7,246.0 83.3,245.8 84.8,245.5 86.2,245.4 87.5,245.4 88.9,245.4 90.2,245.5 91.5,245.8 92.9,246.1 94.3,246.6 95.7,247.1 97.1,247.7 98.4,248.3 99.7,248.8 101.0,249.3 102.2,249.9 103.4,250.4 104.6,250.9 105.8,251.4 106.9,251.9 108.0,252.4 109.0,252.9 110.0,253.4 111.0,254.0 112.0,254.5 113.0,255.0 114.1,255.5 115.1,255.9 116.2,256.4 117.2,256.9 118.2,257.4 119.2,258.1 120.1,258.8 121.1,259.5 122.0,260.4 122.8,261.2 123.6,262.2 124.3,263.2 125.0,264.3 125.6,265.4 126.2,266.6 126.7,267.8 127.1,269.1 127.4,270.4 127.6,271.6 127.8,272.9 127.9,274.3 127.9,275.6 127.8,277.1 127.6,278.6 127.3,280.2 126.9,281.9 126.4,283.6 125.8,285.4 125.1,287.1 124.3,288.8 123.5,290.4 122.6,292.0 121.6,293.6 120.6,295.1 119.4,296.6 118.2,298.0 116.8,299.5 115.4,300.9 113.9,302.3 112.3,303.7 110.6,305.0 108.9,306.2 107.2,307.4 105.4,308.5 103.5,309.6 101.6,310.6 99.6,311.6 97.7,312.4 95.7,313.2 93.6,313.9 91.5,314.5 89.3,315.0 87.3,315.5 85.4,315.9 83.5,316.2 81.8,316.5 80.2,316.7 78.5,316.7 76.9,316.7 75.1,316.5 73.3,316.1 71.3,315.6 69.3,314.9 67.4,314.2 65.5,313.3 63.8,312.4 62.2,311.4 60.7,310.2 59.3,309.0 58.0,307.7 56.8,306.5 55.6,305.2 54.6,304.0 53.7,302.8 52.8,301.6 52.1,300.4 51.5,299.2 50.9,298.0 50.5,297.0 50.1,296.1 49.8,295.2 49.7,294.3 49.5,293.2Z" fill="none" stroke="#00ee00" stroke-width="1.7" stroke-linejoin="round"/>
</g>
<rect x="15.7" y="195.5" width="163.2" height="161.9" fill="none" stroke="#000" stroke-width="1.45"/>
<text x="-0.2" y="204.7" font-size="20" font-weight="bold" fill="#000" textLength="12.2" lengthAdjust="spacingAndGlyphs">y</text>
<text x="179.5" y="374.0" font-size="22" stroke="#000" stroke-width="0.55" text-anchor="end" fill="#000" textLength="12.2" lengthAdjust="spacingAndGlyphs">x</text>
<g fill="#fff">
<g stroke="#fff" stroke-width="0.45" stroke-linejoin="round">
<text x="20.1" y="214.8" font-size="15" textLength="6.6" lengthAdjust="spacingAndGlyphs">t</text>
<text x="27.9" y="214.8" font-size="15" textLength="13.6" lengthAdjust="spacingAndGlyphs">=</text>
<text x="43.0" y="214.8" font-size="15" textLength="43.4" lengthAdjust="spacingAndGlyphs">7.643</text>
</g>
<text x="86.5" y="214.8" font-size="16.5" font-style="italic" textLength="11.3" lengthAdjust="spacingAndGlyphs">ω</text>
<text x="98.5" y="220.2" font-size="12" stroke="#fff" stroke-width="0.3" textLength="6.8" lengthAdjust="spacingAndGlyphs">a</text>
<text x="100.0" y="208.8" font-size="11" textLength="9" lengthAdjust="spacingAndGlyphs">−</text>
<text x="110.8" y="209.5" font-size="10.5" font-weight="bold" textLength="6.2" lengthAdjust="spacingAndGlyphs">1</text>
<text x="176.3" y="216.1" font-size="24" text-anchor="end">)</text>
<text transform="translate(168.3,214.9) scale(1.13,1)" font-size="22" font-weight="bold" text-anchor="end">d</text>
</g>
<g clip-path="url(#ce)">
<rect x="213.4" y="195.5" width="163.2" height="161.9" fill="#000098"/>
<g filter="url(#bl)" transform="scale(0.1)"><path fill="#0000a2" d="M2819,2445l35,-4 40,0 36,5 30,9 44,18 60,30 66,35 42,27 22,18 22,22 18,25 14,25 10,25 8,30 3,30 0,35-6,40-10,35-16,40-19,35-23,35-28,35-35,35-32,29-36,25-40,23-40,19-40,16-50,15-44,9-46,6-34,0-30,-3-36,-8-30,-9-24,-11-28,-16-28,-19-24,-21-25,-25-16,-20-17,-25-13,-25-10,-25-5,-20-3,-25 0,-65 3,-35 8,-40 10,-35 11,-30 18,-40 19,-35 23,-35 23,-30 24,-26 24,-23 25,-20 31,-19 24,-13 30,-13 30,-9 35,-7z"/>
<path fill="#0000b3" d="M2830,2480l35,-3 29,1 25,3 32,9 49,20 73,35 47,25 38,25 22,18 20,22 14,20 11,21 8,24 5,25 3,30-1,28-6,32-10,30-14,33-20,34-26,34-24,28-35,34-34,27-37,25-37,20-32,15-41,15-34,10-50,11-40,4-36,0-53,-10-29,-10-22,-10-25,-15-21,-15-24,-22-22,-23-28,-41-10,-20-7,-19-4,-20-3,-25 1,-65 5,-35 8,-33 20,-58 30,-59 20,-29 24,-31 24,-25 22,-19 28,-21 25,-15 47,-20 33,-10 27,-5z"/>
<path fill="#0000bf" d="M2880,2580l50,-1 50,5 40,9 60,19 24,11 16,10 14,13 33,34 17,25 10,25 5,30-2,30-8,30-12,25-19,25-24,22-20,15-30,16-30,13-34,11-30,7-35,5-41,2-34,-1-36,-4-40,-8-34,-10-26,-10-30,-16-24,-16-21,-17-17,-19-17,-25-11,-25-6,-30 0,-25 6,-25 11,-25 45,-65 14,-14 16,-12 14,-8 20,-8 26,-4 24,0 46,-9 40,-5z"/>
<path fill="#0000ce" d="M2761,2610l29,-1 34,7 60,-8 56,0 40,5 40,10 24,-1 20,2 16,4 20,9 18,13 15,15 12,20 8,20 4,20 3,50-4,25-11,25-13,20-14,15-18,16-26,17-30,14-40,15-60,16-40,4-40,-5-74,-24-46,-21-20,-13-17,-14-15,-15-11,-15-9,-15-8,-20-3,-15-1,-20 5,-30 3,-35 6,-20 10,-20 12,-15 18,-16 20,-11 27,-8z"/>
<path fill="#0000e0" d="M2766,2620l18,-1 20,3 36,13 40,-6 40,-1 40,4 40,8 30,-6 24,0 20,4 16,6 20,13 13,13 13,20 8,20 3,20-1,20-4,20-10,25-21,35-20,25-17,17-14,11-20,11-50,20-30,8-26,5-39,2-41,-8-30,-9-24,-11-26,-13-30,-21-17,-17-16,-20-13,-25-10,-25-8,-25-3,-20-1,-20 4,-20 7,-20 10,-15 14,-15 19,-13 20,-9 16,-3z"/>
<path fill="#0000f5" d="M2759,2630l21,-2 24,3 20,7 26,13 44,-5 26,0 30,2 34,7 35,-11 25,-2 16,1 20,6 14,8 17,13 12,15 10,20 4,15 1,20-2,15-8,25-21,40-29,35-13,13-15,10-40,19-55,16-25,4-26,2-20,-2-24,-5-46,-15-44,-24-20,-14-14,-14-19,-25-10,-20-11,-25-9,-30-2,-20 1,-20 6,-20 9,-15 12,-15 11,-10 16,-8 19,-7z"/>
<path fill="#0012ff" d="M2769,2635l21,0 20,4 14,6 31,17 29,-6 30,-2 30,3 30,8 6,0 30,-11 20,-5 24,0 20,5 16,7 17,14 12,15 7,15 5,20 1,15-4,20-5,15-21,40-29,35-13,12-16,11-34,16-56,16-50,6-20,-1-24,-6-40,-13-46,-23-20,-14-13,-14-15,-20-14,-25-11,-25-8,-30-2,-20 2,-15 4,-15 12,-20 11,-12 14,-11 20,-9 15,-3z"/>
<path fill="#0038ff" d="M2757,2645l23,-3 24,4 20,8 30,16 30,-6 31,-2 29,3 30,9 36,-12 20,-5 20,-1 20,4 14,7 12,8 10,10 10,15 6,15 2,15-1,20-4,15-17,35-26,35-26,25-26,14-54,19-46,9-34,0-46,-10-44,-19-26,-15-17,-13-14,-15-14,-20-11,-20-11,-25-5,-20-3,-20 2,-20 4,-15 9,-15 10,-12 16,-11 17,-7z"/>
<path fill="#0066ff" d="M2764,2650l20,-1 20,4 16,6 30,17 10,3 24,-7 30,-2 30,4 26,8 10,-1 34,-14 16,-3 20,-1 14,2 16,7 10,6 10,10 8,12 6,15 3,15 0,15-3,15-14,30-26,36-24,25-26,15-50,18-50,10-30,1-44,-10-46,-18-24,-14-18,-13-25,-30-11,-20-13,-30-6,-20-1,-20 1,-15 6,-15 10,-15 11,-11 16,-9 14,-5z"/>
<path fill="#0099ff" d="M2756,2660l24,-4 20,3 20,8 24,15 16,6 30,-8 24,-2 26,4 24,9 16,-2 44,-17 20,-2 16,2 14,5 10,7 10,9 9,12 4,10 3,15-2,25-11,25-23,35-20,21-24,19-46,18-44,11-40,4-36,-7-44,-15-26,-13-20,-13-20,-20-22,-35-9,-20-8,-25-2,-15 1,-15 4,-15 10,-15 12,-11 16,-9z"/>
<path fill="#00ccff" d="M2761,2665l19,-3 20,3 14,7 30,17 20,8 26,-8 24,-2 22,3 24,10 24,-6 30,-12 16,-5 14,-1 16,2 20,10 15,17 8,20 1,15-2,10-9,25-18,29-23,26-22,17-46,19-44,11-36,4-34,-5-26,-8-24,-10-40,-22-22,-21-19,-30-9,-20-9,-25-2,-15 1,-15 5,-15 9,-13 10,-9 17,-8z"/>
<path fill="#00ffff" d="M2764,2670l16,-2 20,3 43,24 31,11 16,-7 20,-3 20,2 20,10 4,-1 30,-7 46,-17 24,0 20,8 15,16 7,13 2,10-2,20-10,25-22,32-20,22-20,14-44,18-46,11-34,3-30,-5-46,-16-43,-24-19,-20-19,-30-16,-40-2,-15 1,-15 6,-15 8,-10 10,-8 14,-7z"/>
<path fill="#33ffcc" d="M2767,2675l17,-1 16,3 40,22 30,12 20,4 8,-5 12,-2 12,2 7,5 11,1 44,-10 46,-17 15,-2 9,2 16,6 15,15 6,15 1,20-9,25-16,25-23,27-20,15-34,15-46,13-40,4-24,-3-46,-14-40,-20-20,-15-22,-32-18,-40-3,-15 0,-15 5,-15 6,-10 12,-10 13,-5z"/>
<path fill="#66ff99" d="M2769,2680l11,-1 14,2 16,7 30,17 34,13 26,4 24,1 22,-3 41,-10 43,-16 14,-1 10,1 16,7 12,14 5,15-1,15-9,25-16,25-21,24-16,12-34,16-36,10-44,7-26,-2-34,-9-41,-18-25,-16-20,-24-12,-20-9,-20-6,-20-1,-15 3,-15 6,-10 9,-9 15,-6z"/>
<path fill="#99ff66" d="M2771,2685l9,-1 14,3 46,23 34,13 26,4 24,1 26,-4 40,-9 34,-14 10,-2 16,0 14,5 11,11 6,15 0,15-8,20-15,25-21,25-17,14-36,15-40,11-34,4-26,-2-34,-10-40,-18-26,-16-18,-23-17,-35-6,-20-2,-15 2,-10 7,-12 10,-8 11,-5z"/>
<path fill="#ccff33" d="M2776,2690l14,1 10,3 34,19 30,12 16,4 19,3 25,0 20,-2 46,-10 40,-15 20,-1 13,6 9,10 4,10-1,15-10,25-15,24-16,17-18,14-31,14-41,11-34,4-26,-2-34,-10-39,-17-21,-14-18,-21-18,-35-6,-20-1,-15 2,-10 7,-10 8,-7 12,-3z"/>
<path fill="#ffff00" d="M2765,2700l9,-4 16,1 14,6 26,13 34,13 26,6 24,2 16,0 24,-4 40,-10 36,-12 14,-1 10,2 11,8 4,10 1,14-6,16-14,25-20,24-16,12-30,13-40,11-34,4-20,-1-36,-9-30,-12-28,-17-15,-15-17,-28-10,-32 0,-20 5,-10 6,-5z"/>
<path fill="#ffcc00" d="M2771,2705l9,-2 10,0 40,19 34,12 26,6 24,2 16,-1 24,-3 40,-10 30,-10 21,-2 9,4 6,5 3,10 0,10-5,15-11,20-17,22-16,13-30,14-30,9-24,5-30,2-26,-5-30,-10-34,-17-18,-13-18,-25-9,-20-4,-15-1,-20 4,-10 7,-5z"/>
<path fill="#ff9900" d="M2772,2715l8,-4 10,0 80,30 20,4 30,2 34,-4 70,-18 16,-1 5,1 7,5 2,5 1,10-4,15-14,25-13,15-14,13-30,12-30,9-30,5-20,1-30,-6-26,-9-24,-12-22,-13-15,-20-13,-30-4,-20 3,-10 3,-5z"/>
<path fill="#ff6600" d="M2787,2720l13,1 60,22 30,7 30,1 20,-1 44,-10 46,-8 11,3 4,5 1,10-4,15-8,15-12,15-12,12-30,13-30,9-30,5-20,1-20,-4-30,-9-30,-14-20,-14-10,-14-9,-15-6,-25 1,-10 2,-5 9,-5z"/>
<path fill="#ff3300" d="M2788,2735l6,-4 6,0 34,8 40,14 20,3 26,1 30,-3 34,-9 40,-3 8,3 4,10-2,10-10,18-9,12-11,9-24,10-31,10-29,5-19,1-21,-4-30,-10-25,-11-21,-14-8,-11-9,-20-3,-15 4,-10z"/>
<path fill="#ff0800" d="M2800,2745l9,-3 21,2 44,14 45,4 31,-2 40,-9 20,0 10,4 3,5 0,5-3,10-5,10-9,10-8,5-24,10-24,8-26,5-19,2-25,-5-26,-8-20,-9-24,-15-7,-8-6,-15-2,-10 5,-10z"/>
<path fill="#e80000" d="M2815,2750l15,-1 20,8 30,7 40,3 30,-2 40,-9 19,4 4,5 1,5-3,10-7,10-17,10-43,15-40,6-24,-5-26,-9-24,-12-16,-10-5,-5-4,-10-1,-10 1,-5 5,-4 5,-1z"/>
<path fill="#cf0000" d="M2818,2755l12,-1 24,8 26,6 40,2 40,-3 30,-7 13,5 3,5 0,5-2,7-4,6-26,13-40,12-30,4-20,-4-20,-6-24,-11-18,-11-7,-5-3,-5-2,-10 1,-5 7,-5z"/>
<path fill="#b80000" d="M2823,2760l7,0 40,11 50,3 40,-2 30,-6 7,4 3,5-1,5-5,5-30,15-30,9-30,4-30,-7-35,-16-21,-15-2,-5 1,-5 6,-5z"/>
<path fill="#a30000" d="M2837,2770l47,7 60,1 30,-2 11,4-15,11-16,7-20,7-30,5-30,-8-24,-12-14,-10-4,-5 5,-5z"/>
<path fill="#910000" d="M2863,2785l7,-2 34,-2 36,4 10,5-16,8-30,7-20,-5-10,-5-11,-10z"/>
<path fill="#850000" d="M2890,2790l14,-5 14,5 0,5-4,3-10,3-12,-6-2,-5z"/></g>
<rect x="213.4" y="195.5" width="163.2" height="161.9" fill="url(#de)" opacity="0.035"/>
<rect x="213.4" y="195.5" width="163.2" height="161.9" fill="url(#de)" opacity="0.55" mask="url(#ge)"/>
<path d="M274.9,250.9L274.5,250.1M280.1,250.9L279.5,249.4M285.1,250.9L284.9,249.4M290.2,250.9L290.2,250.2M295.4,250.9L295.5,249.8M300.4,250.9L300.9,249.7M305.6,250.9L305.5,251.0M264.8,256.0L264.5,255.8M269.9,256.0L268.2,254.2M274.9,256.0L273.0,253.1M280.1,256.0L278.5,252.3M285.1,256.0L284.4,252.1M290.2,256.0L290.2,252.6M295.4,256.0L296.1,252.3M300.4,256.0L301.9,252.4M305.6,256.0L307.4,253.2M310.6,256.0L312.2,254.3M264.8,261.1L262.7,259.9M269.9,261.1L266.8,258.6M274.9,261.1L271.4,256.8M280.1,261.1L277.1,254.9M285.1,261.1L283.7,254.4M290.2,261.1L290.3,255.3M295.4,261.1L296.7,254.8M300.4,261.1L303.3,255.1M305.6,261.1L308.9,256.9M310.6,261.1L313.7,258.5M315.8,261.1L317.8,259.8M259.6,266.2L258.8,265.9M264.8,266.2L261.7,265.0M269.9,266.2L265.3,263.8M274.9,266.2L268.8,261.1M280.1,266.2L275.1,257.3M285.1,266.2L283.4,256.1M290.2,266.2L290.3,256.9M295.4,266.2L297.2,256.6M300.4,266.2L305.1,257.4M305.6,266.2L311.5,260.8M310.6,266.2L315.3,263.6M315.8,266.2L318.9,264.9M320.9,266.2L321.9,265.9M259.6,271.3L258.2,271.1M264.8,271.3L261.1,270.7M269.9,271.3L264.1,270.1M274.9,271.3L266.4,268.4M280.1,271.3L272.4,262.7M285.1,271.3L287.1,259.2M290.2,271.3L289.9,259.0M295.4,271.3L295.9,259.0M300.4,271.3L306.9,261.4M305.6,271.3L314.2,267.7M310.6,271.3L316.6,269.9M315.8,271.3L319.5,270.6M320.9,271.3L322.6,271.1M259.6,276.4L258.2,276.5M264.8,276.4L261.3,276.7M269.9,276.4L264.6,277.0M274.9,276.4L267.4,278.2M280.1,276.4L274.4,281.6M285.1,276.4L282.3,282.9M290.2,276.4L287.2,281.4M295.4,276.4L300.1,282.2M300.4,276.4L305.8,281.8M305.6,276.4L313.5,278.1M310.6,276.4L316.2,277.0M315.8,276.4L319.4,276.7M320.9,276.4L322.6,276.5M259.6,281.5L258.9,281.7M264.8,281.5L262.0,282.4M269.9,281.5L265.9,283.2M274.9,281.5L270.3,284.6M280.1,281.5L276.2,286.5M285.1,281.5L282.5,287.0M290.2,281.5L290.0,288.4M295.4,281.5L297.8,287.2M300.4,281.5L304.1,286.9M305.6,281.5L310.4,284.9M310.6,281.5L314.7,283.3M315.8,281.5L318.7,282.4M320.9,281.5L321.9,281.8M264.8,286.6L263.2,287.4M269.9,286.6L267.3,288.4M274.9,286.6L272.2,289.4M280.1,286.6L277.8,290.2M285.1,286.6L283.7,290.8M290.2,286.6L290.1,291.3M295.4,286.6L296.6,290.9M300.4,286.6L302.7,290.4M305.6,286.6L308.4,289.6M310.6,286.6L313.4,288.5M315.8,286.6L317.6,287.6M320.9,286.6L320.8,286.6M264.8,291.7L264.7,291.7M269.9,291.7L268.7,292.8M274.9,291.7L273.4,293.7M280.1,291.7L278.8,294.3M285.1,291.7L284.4,294.7M290.2,291.7L290.2,295.1M295.4,291.7L296.0,294.8M300.4,291.7L301.7,294.4M305.6,291.7L307.2,293.9M310.6,291.7L312.0,293.0M315.8,291.7L316.1,291.9M274.9,296.8L274.8,297.1M280.1,296.8L279.8,297.5M285.1,296.8L284.9,298.1M290.2,296.8L290.2,298.4M295.4,296.8L295.6,298.2M300.4,296.8L300.8,297.7M305.6,296.8L305.9,297.3" stroke="#fff" stroke-width="0.75" stroke-linecap="round" fill="none"/><path d="M273.9,249.1L275.2,250.1L274.1,250.7ZM279.1,248.3L280.2,249.5L279.0,249.9ZM284.7,248.2L285.6,249.6L284.3,249.8ZM290.2,249.0L290.9,250.5L289.6,250.5ZM295.7,248.6L296.1,250.2L294.9,250.0ZM301.3,248.6L301.4,250.2L300.2,249.8ZM306.1,250.0L305.8,251.5L304.9,251.0ZM263.6,255.0L265.1,255.6L264.4,256.5ZM267.4,253.3L268.9,254.0L267.9,254.9ZM272.0,251.6L273.9,252.9L272.5,253.8ZM277.7,250.3L279.4,252.2L277.8,252.9ZM284.0,250.0L285.3,252.2L283.6,252.5ZM290.2,250.9L291.1,252.9L289.4,252.9ZM296.4,250.3L296.8,252.8L295.2,252.4ZM302.7,250.5L302.6,253.0L301.0,252.4ZM308.3,251.7L307.9,253.9L306.5,253.0ZM313.0,253.4L312.5,255.0L311.5,254.0ZM261.7,259.2L263.4,259.4L262.6,260.6ZM265.1,257.2L267.6,258.1L266.5,259.5ZM269.7,254.8L272.4,256.4L270.8,257.7ZM275.9,252.5L278.1,254.7L276.2,255.6ZM283.2,251.7L284.8,254.4L282.8,254.9ZM290.3,252.6L291.3,255.6L289.3,255.6ZM297.2,252.1L297.6,255.3L295.6,254.9ZM304.4,252.7L304.1,255.8L302.2,254.9ZM310.6,254.8L309.5,257.7L308.0,256.5ZM315.3,257.2L314.0,259.4L312.9,258.1ZM318.8,259.1L317.9,260.6L317.2,259.3ZM257.6,265.6L259.2,265.4L258.9,266.6ZM260.1,264.4L262.2,264.4L261.7,265.8ZM262.9,262.5L266.0,263.0L265.1,264.8ZM266.8,259.3L269.7,260.5L268.4,262.1ZM273.8,255.0L276.1,257.1L274.3,258.1ZM283.0,253.5L284.5,256.2L282.4,256.6ZM290.3,254.2L291.4,257.2L289.3,257.2ZM297.8,254.0L298.2,257.1L296.1,256.7ZM306.4,255.0L305.9,258.1L304.0,257.2ZM313.5,259.0L312.0,261.8L310.6,260.2ZM317.6,262.2L315.5,264.6L314.5,262.9ZM320.5,264.2L318.9,265.8L318.3,264.3ZM323.0,265.5L321.8,266.6L321.4,265.3ZM257.0,271.0L258.5,270.5L258.4,271.8ZM259.2,270.4L261.6,269.9L261.3,271.6ZM261.5,269.5L264.6,269.2L264.2,271.1ZM263.9,267.5L267.0,267.5L266.4,269.5ZM270.6,260.7L273.4,262.2L271.8,263.6ZM287.5,256.5L288.1,259.6L286.0,259.3ZM289.9,256.3L291.0,259.3L288.9,259.3ZM296.0,256.3L296.9,259.4L294.8,259.3ZM308.4,259.1L307.6,262.2L305.8,261.1ZM316.7,266.7L314.3,268.8L313.5,266.9ZM319.2,269.2L316.6,270.9L316.1,268.9ZM321.5,270.3L319.4,271.5L319.1,269.9ZM323.8,270.9L322.4,271.8L322.2,270.4ZM257.0,276.6L258.5,275.8L258.6,277.1ZM259.4,276.8L261.5,275.8L261.6,277.5ZM261.9,277.4L264.8,276.0L265.0,278.0ZM264.8,278.8L267.5,277.1L268.0,279.1ZM272.4,283.4L273.9,280.6L275.3,282.1ZM281.3,285.4L281.5,282.2L283.4,283.1ZM285.8,283.7L286.5,280.6L288.2,281.6ZM301.8,284.3L299.1,282.6L300.7,281.3ZM307.7,283.7L304.8,282.3L306.3,280.9ZM316.1,278.6L313.0,279.0L313.4,277.0ZM318.9,277.3L315.8,278.0L316.1,276.0ZM321.4,276.8L319.1,277.5L319.2,275.8ZM323.8,276.6L322.2,277.1L322.3,275.8ZM257.8,282.0L259.1,281.0L259.4,282.2ZM260.6,282.8L262.0,281.6L262.5,283.0ZM263.8,284.1L265.9,282.2L266.6,283.9ZM268.1,286.1L270.0,283.6L271.1,285.3ZM274.5,288.7L275.5,285.6L277.2,286.9ZM281.3,289.4L281.7,286.3L283.5,287.2ZM289.8,291.1L288.9,288.0L291.0,288.1ZM298.9,289.7L296.7,287.4L298.6,286.6ZM305.7,289.1L303.1,287.2L304.8,286.1ZM312.6,286.4L309.6,285.6L310.7,283.9ZM317.0,284.2L314.1,284.0L314.8,282.3ZM320.3,282.9L318.2,283.1L318.7,281.6ZM323.1,282.0L321.4,282.3L321.7,281.1ZM262.1,288.0L263.2,286.7L263.8,287.9ZM265.9,289.3L267.1,287.6L268.0,288.9ZM270.7,290.9L271.8,288.6L273.0,289.8ZM276.5,292.2L277.2,289.5L278.7,290.4ZM283.0,293.1L283.0,290.2L284.7,290.8ZM290.1,293.9L289.2,291.0L291.1,291.0ZM297.3,293.3L295.6,290.9L297.4,290.4ZM303.9,292.5L301.7,290.6L303.3,289.7ZM309.9,291.2L307.6,290.0L308.8,288.7ZM314.8,289.6L312.7,289.0L313.6,287.7ZM318.7,288.2L317.0,288.1L317.7,286.8ZM321.9,287.1L320.3,287.0L320.8,285.9ZM263.7,292.4L264.6,291.1L265.3,292.0ZM267.8,293.6L268.5,292.1L269.4,293.0ZM272.6,294.7L273.0,293.1L274.1,294.0ZM278.1,295.5L278.2,293.6L279.6,294.3ZM284.0,296.3L283.7,294.3L285.2,294.6ZM290.2,296.8L289.4,294.7L291.0,294.8ZM296.4,296.4L295.2,294.7L296.7,294.3ZM302.4,295.8L300.9,294.5L302.3,293.8ZM308.0,295.0L306.4,294.1L307.6,293.2ZM312.9,293.8L311.3,293.3L312.3,292.3ZM317.0,292.6L315.5,292.2L316.2,291.3ZM274.1,298.1L274.4,296.5L275.4,297.2ZM279.3,298.6L279.3,297.0L280.4,297.5ZM284.6,299.3L284.3,297.7L285.6,298.0ZM290.2,299.6L289.6,298.1L290.9,298.2ZM295.8,299.4L294.9,298.0L296.2,297.8ZM301.2,298.9L300.1,297.7L301.3,297.2ZM306.5,298.4L305.2,297.4L306.2,296.8Z" fill="#fff" stroke="#fff" stroke-width="0.3" stroke-linejoin="round"/>
<path d="M248.5,290.9 248.5,289.1 248.6,287.1 248.7,285.0 249.0,282.8 249.4,280.7 249.9,278.6 250.4,276.5 251.1,274.4 251.8,272.3 252.7,270.3 253.6,268.3 254.6,266.3 255.7,264.3 257.0,262.3 258.4,260.3 259.8,258.4 261.3,256.6 262.8,255.0 264.4,253.5 266.0,252.1 267.7,250.9 269.5,249.7 271.3,248.7 273.1,247.8 274.9,247.0 276.8,246.3 278.8,245.8 280.7,245.3 282.6,245.0 284.3,244.7 286.0,244.6 287.6,244.6 289.1,244.6 290.6,244.8 292.1,245.0 293.6,245.3 295.0,245.8 296.4,246.3 297.8,246.9 299.1,247.5 300.5,248.2 301.8,248.8 303.0,249.4 304.3,250.1 305.5,250.7 306.7,251.3 307.8,251.9 308.9,252.5 310.0,253.1 311.1,253.7 312.1,254.2 313.2,254.8 314.1,255.4 315.1,256.0 316.0,256.6 316.9,257.3 317.8,257.9 318.6,258.6 319.4,259.3 320.2,260.1 321.0,261.0 321.8,261.9 322.5,262.9 323.2,264.0 323.8,265.1 324.3,266.3 324.8,267.5 325.2,268.8 325.5,270.1 325.7,271.5 325.9,273.0 326.0,274.5 325.9,276.1 325.8,277.7 325.6,279.5 325.2,281.2 324.8,283.0 324.3,284.7 323.7,286.4 323.0,288.2 322.2,289.9 321.3,291.6 320.3,293.3 319.2,295.0 318.0,296.6 316.8,298.2 315.5,299.8 314.1,301.3 312.6,302.8 311.0,304.2 309.3,305.5 307.5,306.9 305.6,308.1 303.7,309.3 301.7,310.4 299.7,311.4 297.7,312.3 295.7,313.1 293.6,313.8 291.5,314.4 289.4,315.0 287.4,315.5 285.5,315.9 283.6,316.2 281.7,316.4 279.9,316.6 278.0,316.6 276.1,316.5 274.2,316.3 272.3,315.9 270.4,315.5 268.5,314.9 266.6,314.2 264.9,313.4 263.2,312.5 261.5,311.3 259.9,310.1 258.3,308.8 256.9,307.5 255.6,306.2 254.5,305.1 253.5,303.9 252.6,302.7 251.8,301.5 251.1,300.3 250.5,299.1 249.9,297.8 249.5,296.6 249.1,295.3 248.8,293.9 248.6,292.5Z" fill="none" stroke="#00ee00" stroke-width="1.7" stroke-linejoin="round"/>
</g>
<rect x="213.4" y="195.5" width="163.2" height="161.9" fill="none" stroke="#000" stroke-width="1.45"/>
<text x="197.5" y="204.7" font-size="20" font-weight="bold" fill="#000" textLength="12.2" lengthAdjust="spacingAndGlyphs">y</text>
<text x="377.3" y="374.0" font-size="22" stroke="#000" stroke-width="0.55" text-anchor="end" fill="#000" textLength="12.2" lengthAdjust="spacingAndGlyphs">x</text>
<g fill="#fff">
<g stroke="#fff" stroke-width="0.45" stroke-linejoin="round">
<text x="217.8" y="214.8" font-size="15" textLength="6.6" lengthAdjust="spacingAndGlyphs">t</text>
<text x="225.8" y="214.8" font-size="15" textLength="13.6" lengthAdjust="spacingAndGlyphs">=</text>
<text x="240.8" y="214.8" font-size="15" textLength="43.4" lengthAdjust="spacingAndGlyphs">7.652</text>
</g>
<text x="284.4" y="214.8" font-size="16.5" font-style="italic" textLength="11.3" lengthAdjust="spacingAndGlyphs">ω</text>
<text x="296.2" y="220.2" font-size="12" stroke="#fff" stroke-width="0.3" textLength="6.8" lengthAdjust="spacingAndGlyphs">a</text>
<text x="297.8" y="208.8" font-size="11" textLength="9" lengthAdjust="spacingAndGlyphs">−</text>
<text x="308.6" y="209.5" font-size="10.5" font-weight="bold" textLength="6.2" lengthAdjust="spacingAndGlyphs">1</text>
<text x="374.1" y="216.1" font-size="24" text-anchor="end">)</text>
<text transform="translate(366.1,214.9) scale(1.13,1)" font-size="22" font-weight="bold" text-anchor="end">e</text>
</g>
<g clip-path="url(#cf)">
<rect x="411.6" y="195.5" width="163.2" height="161.9" fill="#000098"/>
<g filter="url(#bl)" transform="scale(0.1)"><path fill="#0000a2" d="M4793,2445l39,-4 50,0 40,5 40,10 40,15 54,27 56,31 40,26 24,20 24,25 18,25 17,30 12,30 8,30 4,35 1,35-3,35-8,40-11,35-15,35-17,30-22,30-23,25-29,26-36,26-44,26-50,23-46,18-44,14-50,11-40,6-46,1-30,-2-30,-5-30,-7-30,-12-24,-12-30,-18-30,-23-26,-22-23,-25-19,-25-16,-25-12,-25-9,-25-6,-25-3,-25-1,-30 2,-35 6,-35 9,-35 10,-30 14,-30 17,-30 23,-35 26,-35 27,-30 31,-30 30,-27 24,-18 26,-14 30,-14 30,-10 31,-7z"/>
<path fill="#0000b3" d="M4802,2480l40,-3 40,0 30,4 38,9 39,15 51,25 54,30 38,25 24,20 20,21 16,21 14,28 12,30 7,30 3,30 1,35-3,30-8,35-10,30-13,30-18,30-20,25-23,25-28,23-34,23-36,20-44,20-46,16-44,13-46,8-40,5-40,0-30,-2-30,-6-50,-16-24,-13-26,-16-27,-20-23,-20-20,-20-19,-25-15,-24-11,-21-9,-25-4,-20-3,-25 0,-30 2,-30 5,-30 8,-30 11,-30 15,-30 14,-25 42,-55 24,-27 30,-28 30,-25 28,-20 27,-15 25,-10 30,-9 26,-6z"/>
<path fill="#0000bf" d="M4752,2610l50,-2 54,3 50,8 50,13 46,17 44,23 40,27 35,31 25,30 18,30 10,30 2,30-6,50-9,30-19,35-26,30-20,16-24,15-46,21-40,15-34,9-36,5-40,2-34,-1-36,-4-34,-7-30,-10-60,-24-30,-14-36,-21-24,-18-27,-24-19,-23-14,-25-10,-27-4,-25 0,-35 5,-35 10,-30 13,-28 16,-24 20,-24 20,-17 24,-17 26,-12 30,-10 30,-7 40,-6z"/>
<path fill="#0000ce" d="M4748,2655l48,-5 50,2 46,7 50,13 40,16 34,20 26,17 32,30 28,20 19,20 14,20 11,25 5,30-1,30-6,25-11,25-17,23-20,19-20,13-40,19-34,13-56,15-30,3-44,1-40,-3-30,-5-26,-5-30,-10-34,-15-46,-24-20,-13-30,-25-50,-49-14,-22-8,-20-6,-25 0,-30 4,-25 8,-25 11,-20 15,-19 16,-14 20,-13 24,-10 35,-8 45,-15 32,-6z"/>
<path fill="#0000e0" d="M4786,2685l36,-1 34,2 36,7 34,10 30,12 26,14 20,13 21,18 19,4 20,7 14,8 16,11 18,20 12,20 8,20 4,25-1,25-5,20-11,25-15,20-16,15-20,12-44,20-40,14-30,7-26,4-64,1-60,-7-30,-8-30,-11-36,-16-34,-19-46,-35-46,-47-13,-20-8,-20-5,-25 1,-25 5,-25 12,-25 14,-19 16,-14 14,-10 20,-9 20,-6 16,-1 20,1 20,4 40,-11 34,-5z"/>
<path fill="#0000f5" d="M4791,2705l31,0 30,2 30,6 30,8 30,12 20,10 20,13 20,18 24,2 20,5 16,7 17,12 15,15 11,15 8,20 5,20 0,20-3,20-7,20-13,20-15,15-18,13-36,16-34,14-50,12-56,4-54,-3-30,-5-30,-8-26,-10-34,-16-30,-16-26,-18-30,-27-30,-31-11,-15-8,-15-6,-25-1,-25 5,-25 9,-20 12,-17 16,-14 14,-10 20,-8 16,-4 20,-1 14,2 20,6 40,-10 35,-4z"/>
<path fill="#0012ff" d="M4784,2715l32,-1 30,2 30,5 26,7 30,11 24,13 24,18 16,18 20,0 20,3 16,6 14,8 16,14 11,16 8,15 5,20 0,20-2,15-7,20-10,15-13,15-18,12-34,16-36,14-44,12-56,3-54,-3-30,-5-26,-7-50,-20-34,-19-20,-13-20,-17-30,-28-20,-23-11,-17-7,-20-2,-25 3,-20 7,-20 10,-15 14,-15 16,-10 14,-6 20,-5 16,0 20,3 14,5 30,-10 38,-7z"/>
<path fill="#0038ff" d="M4794,2725l28,-1 24,2 30,5 26,8 29,13 25,15 19,18 11,18 40,1 16,4 14,8 11,9 13,15 7,15 4,15 1,15-2,15-5,15-8,15-11,12-14,11-56,26-24,9-30,7-46,4-50,-2-50,-8-50,-18-30,-14-28,-17-20,-15-26,-25-24,-25-12,-16-7,-19-3,-20 2,-20 6,-15 8,-13 10,-12 14,-11 16,-7 14,-3 20,0 16,3 14,6 36,-15 42,-8z"/>
<path fill="#0066ff" d="M4799,2735l27,-1 26,3 24,5 26,8 30,15 20,15 16,20 6,20 2,1 20,-3 20,-1 20,5 14,8 16,17 10,23 0,25-4,15-6,10-14,15-16,10-40,19-34,14-36,8-50,3-50,-2-34,-7-46,-19-50,-29-44,-42-19,-20-14,-20-6,-15-2,-15 1,-15 6,-15 15,-20 9,-7 14,-7 16,-3 14,1 16,4 14,7 6,-1 14,-11 20,-9 20,-6 23,-3z"/>
<path fill="#0099ff" d="M4780,2750l26,-4 26,0 24,3 26,6 30,12 24,19 10,12 6,12 2,10-1,10 9,2 49,-5 15,2 10,4 16,12 7,10 5,10 3,20-3,15-4,10-8,12-16,11-44,25-46,18-34,5-50,2-50,-4-40,-13-46,-23-24,-15-16,-13-24,-25-24,-30-14,-25-2,-15 2,-15 6,-15 6,-9 10,-8 10,-5 16,-4 14,1 16,4 24,12 5,-1 9,-10 12,-9 28,-11z"/>
<path fill="#00ccff" d="M4789,2760l27,-4 30,2 30,6 26,11 19,15 11,15 3,10 0,10-7,15 15,0 63,-8 16,1 14,6 16,14 8,17 1,20-7,20-8,9-10,8-24,15-30,15-40,15-30,4-50,2-50,-5-40,-13-40,-20-30,-19-10,-9-26,-25-18,-22-11,-15-7,-15-3,-15 2,-15 4,-10 9,-11 10,-8 10,-5 14,-2 16,2 14,6 36,19 3,-1 7,-13 10,-10 12,-7 15,-5z"/>
<path fill="#00ffff" d="M4798,2770l24,-3 30,2 24,7 25,14 13,15 3,15-4,10-4,5-14,10 44,0 67,-8 16,1 10,4 14,12 9,16 1,20-5,15-7,10-8,6-44,26-26,11-24,9-30,4-60,2-40,-5-36,-11-34,-17-41,-25-25,-24-20,-23-13,-18-8,-15-3,-15 2,-15 8,-14 10,-9 10,-5 14,-3 20,4 53,27 14,5 1,-15 7,-10 11,-8 16,-7z"/>
<path fill="#33ffcc" d="M4666,2780l16,-1 14,4 50,25 40,19 6,1 4,3 7,-1-12,-10-5,-6-2,-9 3,-10 5,-5 14,-8 16,-3 20,0 20,4 15,7 12,10 6,10 0,10-6,10-7,5-16,5-20,2-3,3 37,5 22,1 44,-2 56,-7 20,1 14,7 10,12 6,18-1,15-9,16-19,14-47,25-34,13-40,5-36,1-40,-3-24,-5-46,-18-47,-28-27,-25-26,-30-16,-25-3,-10 0,-10 2,-10 7,-13 10,-8 10,-4zM4806,2833l0,2 8,0-8,-2zM4822,2839l0,1 9,0-9,-1z"/>
<path fill="#66ff99" d="M4665,2785l11,-2 16,3 104,50 27,9 29,6 50,4 44,-2 50,-7 26,1 13,8 8,10 5,15-2,15-10,15-21,15-39,20-34,13-30,5-46,2-40,-3-24,-6-46,-18-44,-26-29,-27-21,-25-17,-25-4,-10 0,-10 3,-10 6,-10 15,-10zM4831,2795l11,0 15,5 7,5 3,5 0,5-5,6-13,4-13,0-13,-5-7,-5-3,-5 0,-5 4,-5 14,-5z"/>
<path fill="#99ff66" d="M4665,2790l11,-3 16,3 104,50 26,9 30,6 50,4 44,-2 50,-7 26,2 10,6 6,7 5,10 0,15-8,15-23,17-40,21-30,11-30,5-36,2-34,-2-30,-4-36,-12-44,-23-23,-15-30,-30-23,-30-10,-20 0,-10 3,-10 7,-10 9,-5z"/>
<path fill="#ccff33" d="M4665,2795l11,-3 16,3 110,51 20,7 34,7 46,2 44,-1 50,-6 20,0 11,5 9,10 3,10-1,10-6,12-20,15-40,22-36,13-34,4-36,1-24,-1-30,-5-30,-10-40,-20-30,-19-23,-22-25,-30-9,-15-4,-10 1,-15 4,-8 9,-7z"/>
<path fill="#ffff00" d="M4666,2800l10,-3 16,3 110,50 44,12 26,3 30,1 44,-1 50,-6 20,1 10,5 6,7 2,8-1,10-2,5-9,10-20,14-30,15-36,14-60,5-34,-1-26,-3-24,-8-30,-13-36,-20-20,-16-29,-32-19,-30-2,-15 4,-10 6,-5z"/>
<path fill="#ffcc00" d="M4670,2805l12,-2 10,2 100,45 30,11 34,6 36,3 54,-1 60,-5 10,2 7,4 4,5 2,10-5,10-18,15-34,20-36,14-24,4-36,1-34,-1-26,-3-24,-8-30,-14-40,-23-12,-10-23,-25-21,-30-4,-10 0,-10 2,-5 6,-5z"/>
<path fill="#ff9900" d="M4671,2815l5,-4 6,-1 14,3 100,43 26,9 24,5 56,4 100,-5 10,2 6,4 3,5 0,5-5,10-20,16-30,17-30,12-24,4-36,2-34,-2-26,-3-42,-16-53,-30-25,-25-18,-25-7,-15-1,-10 1,-5z"/>
<path fill="#ff6600" d="M4687,2820l5,-1 20,6 94,39 40,10 46,4 100,-3 14,4 4,6-1,5-7,10-16,11-20,12-30,13-24,4-36,2-54,-4-26,-8-20,-8-54,-32-27,-30-12,-20-3,-10 0,-5 7,-5z"/>
<path fill="#ff3300" d="M4692,2835l4,-4 6,0 14,2 36,12 50,22 44,11 46,4 34,-2 50,2 10,1 9,7-3,8-16,13-20,12-24,10-56,5-54,-4-26,-8-20,-9-50,-28-17,-19-10,-15-5,-10-2,-10z"/>
<path fill="#ff0800" d="M4708,2845l14,-2 24,5 56,24 34,9 46,5 44,-1 30,3 14,2 6,5-4,10-10,8-30,15-56,5-54,-4-40,-14-52,-30-17,-20-5,-10 0,-10z"/>
<path fill="#e80000" d="M4726,2850l20,3 46,19 24,8 56,9 30,1 24,-1 30,5 6,6-1,5-9,9-23,11-53,5-54,-4-40,-15-50,-30-9,-11-5,-10 0,-5 4,-4 4,-1z"/>
<path fill="#cf0000" d="M4726,2860l6,-4 10,-1 50,21 24,7 36,7 40,3 34,-1 20,5 5,3 1,5-10,10-8,5-18,4-50,3-44,-4-40,-16-40,-23-12,-9-4,-10 0,-5z"/>
<path fill="#b80000" d="M4741,2860l41,16 24,8 66,11 30,2 24,-2 12,5 4,5-2,5-8,7-16,3-50,3-44,-3-20,-7-26,-12-40,-27-2,-4 0,-5 2,-3 5,-2z"/>
<path fill="#a30000" d="M4752,2875l4,-3 50,15 56,11 40,3 4,-1 6,1 14,-2 8,6-1,5-7,5-40,5-4,-2-6,2-20,0-34,-3-20,-8-26,-13-22,-16-2,-5z"/>
<path fill="#910000" d="M4781,2890l11,-1 34,5 26,7 4,-1 6,3 4,-1 6,3 4,-2 6,4 4,-3 6,5 4,-4 4,5-4,3-4,-3-6,5-4,-3-6,3-4,-2-6,3-40,-2-30,-12-15,-12zM4904,2910l2,-2 2,2-4,0z"/>
<path fill="#850000" d="M4813,2900l3,-2 6,2 4,-2 6,4 4,-1 5,4-1,5-4,1-4,-3-6,2-11,-5-2,-5zM4842,2905l6,0 0,5-4,0-2,-5zM4856,2910z"/></g>
<rect x="411.6" y="195.5" width="163.2" height="161.9" fill="url(#df)" opacity="0.035"/>
<rect x="411.6" y="195.5" width="163.2" height="161.9" fill="url(#df)" opacity="0.55" mask="url(#gf)"/>
<path d="M468.0,256.0L467.6,255.0M473.1,256.0L472.8,254.8M478.2,256.0L478.1,255.0M483.3,256.0L483.4,255.6M462.9,261.1L461.6,259.1M468.0,261.1L466.9,258.6M473.1,261.1L472.4,258.4M478.2,261.1L477.9,258.4M483.3,261.1L483.4,259.0M488.4,261.1L488.7,259.6M493.5,261.1L494.0,259.8M498.6,261.1L499.2,259.8M503.8,261.1L504.3,260.2M508.8,261.1L509.1,260.8M457.8,266.2L456.4,264.8M462.9,266.2L460.8,263.4M468.0,266.2L466.3,262.8M473.1,266.2L472.0,262.4M478.2,266.2L477.8,262.5M483.3,266.2L483.5,263.0M488.4,266.2L489.0,263.3M493.5,266.2L494.6,263.4M498.6,266.2L500.1,263.6M503.8,266.2L505.4,264.0M508.8,266.2L510.3,264.7M514.0,266.2L514.7,265.6M452.8,271.3L452.5,271.2M457.8,271.3L454.9,269.1M462.9,271.3L459.9,268.1M468.0,271.3L465.4,267.0M473.1,271.3L471.6,266.3M478.2,271.3L477.8,266.6M483.3,271.3L483.7,267.1M488.4,271.3L489.4,267.3M493.5,271.3L495.1,267.6M498.6,271.3L500.8,267.9M503.8,271.3L506.2,268.5M508.8,271.3L511.3,269.3M514.0,271.3L515.9,270.0M519.0,271.3L519.9,270.8M452.8,276.4L450.7,275.6M457.8,276.4L454.0,274.5M462.9,276.4L458.4,273.2M468.0,276.4L463.9,271.1M473.1,276.4L471.4,269.8M478.2,276.4L478.0,270.1M483.3,276.4L483.9,270.8M488.4,276.4L489.8,271.3M493.5,276.4L495.7,271.5M498.6,276.4L501.8,272.1M503.8,276.4L507.2,273.3M508.8,276.4L512.2,274.3M514.0,276.4L516.8,275.0M519.0,276.4L520.8,275.7M452.8,281.5L449.6,280.9M457.8,281.5L453.3,280.5M462.9,281.5L456.8,279.7M468.0,281.5L462.2,278.1M473.1,281.5L474.0,274.8M478.2,281.5L478.5,274.7M483.3,281.5L484.1,274.7M488.4,281.5L490.5,275.0M493.5,281.5L496.0,275.1M498.6,281.5L503.0,276.3M503.8,281.5L508.9,278.4M508.8,281.5L513.2,279.8M514.0,281.5L517.4,280.5M519.0,281.5L521.6,280.9M452.8,286.6L449.1,286.7M457.8,286.6L453.2,286.8M462.9,286.6L456.6,287.4M468.0,286.6L461.7,289.1M473.1,286.6L471.4,293.2M478.2,286.6L481.2,280.5M483.3,286.6L481.4,281.3M488.4,286.6L490.9,280.2M493.5,286.6L492.5,279.9M498.6,286.6L504.5,283.2M503.8,286.6L510.4,285.3M508.8,286.6L513.9,286.0M514.0,286.6L517.8,286.3M519.0,286.6L521.2,286.5M452.8,291.7L449.5,292.4M457.8,291.7L453.7,292.9M462.9,291.7L457.9,293.9M468.0,291.7L462.7,295.7M473.1,291.7L468.8,297.0M478.2,291.7L475.7,298.0M483.3,291.7L482.0,298.4M488.4,291.7L485.9,298.0M493.5,291.7L496.6,297.8M498.6,291.7L504.0,295.9M503.8,291.7L510.3,293.6M508.8,291.7L513.8,292.6M514.0,291.7L517.8,292.2M519.0,291.7L519.5,291.7M452.8,296.8L451.0,297.5M457.8,296.8L454.6,298.5M462.9,296.8L459.3,299.3M468.0,296.8L464.5,300.3M473.1,296.8L470.3,301.1M478.2,296.8L476.0,302.4M483.3,296.8L482.2,303.3M488.4,296.8L488.8,303.0M493.5,296.8L496.0,303.0M498.6,296.8L502.9,301.9M503.8,296.8L508.5,300.0M508.8,296.8L512.9,298.7M514.0,296.8L515.9,297.5M457.8,301.9L455.6,303.5M462.9,301.9L460.4,304.2M468.0,301.9L465.6,304.9M473.1,301.9L471.2,305.4M478.2,301.9L476.8,306.2M483.3,301.9L482.8,306.7M488.4,301.9L488.9,306.5M493.5,301.9L495.2,306.5M498.6,301.9L501.3,306.0M503.8,301.9L506.9,305.0M508.8,301.9L510.6,303.1M462.9,307.0L461.7,308.4M468.0,307.0L466.5,309.3M473.1,307.0L471.9,309.8M478.2,307.0L477.3,310.4M483.3,307.0L483.0,310.7M488.4,307.0L488.8,310.6M493.5,307.0L494.7,310.6M498.6,307.0L500.0,309.5M503.8,307.0L504.2,307.6M468.0,312.1L468.1,312.0M473.1,312.1L472.8,313.0M478.2,312.1L477.9,313.7M483.3,312.1L483.2,313.7M488.4,312.1L488.5,312.8M493.5,312.1L493.5,311.9" stroke="#fff" stroke-width="0.75" stroke-linecap="round" fill="none"/><path d="M467.2,253.9L468.3,255.0L467.1,255.5ZM472.6,253.7L473.5,255.0L472.3,255.3ZM478.0,253.8L478.8,255.3L477.5,255.4ZM483.4,254.4L483.9,255.9L482.8,255.9ZM461.0,258.1L462.4,258.9L461.2,259.7ZM466.3,257.3L467.7,258.5L466.3,259.2ZM472.0,257.0L473.2,258.4L471.7,258.9ZM477.8,257.2L478.7,258.7L477.2,258.8ZM483.4,257.8L484.1,259.3L482.7,259.3ZM488.9,258.5L489.3,260.0L488.0,259.8ZM494.3,258.6L494.5,260.3L493.3,259.9ZM499.8,258.8L499.7,260.4L498.5,259.8ZM505.0,259.2L504.7,260.8L503.6,260.1ZM509.9,259.9L509.4,261.4L508.5,260.6ZM455.5,264.0L457.1,264.5L456.1,265.5ZM459.7,262.0L461.6,263.2L460.4,264.2ZM465.3,260.9L467.2,262.6L465.6,263.4ZM471.4,260.4L472.9,262.5L471.3,263.0ZM477.6,260.5L478.7,262.7L477.0,262.9ZM483.6,261.3L484.3,263.3L482.7,263.2ZM489.3,261.8L489.7,263.7L488.2,263.4ZM495.1,262.0L495.2,264.0L493.7,263.4ZM500.8,262.3L500.6,264.2L499.2,263.5ZM506.1,263.0L505.8,264.7L504.6,263.8ZM511.1,263.9L510.6,265.4L509.6,264.5ZM515.6,264.8L514.9,266.2L514.1,265.3ZM451.5,270.6L453.1,270.8L452.5,271.8ZM453.3,267.9L455.6,268.6L454.6,270.0ZM458.1,266.4L460.7,267.7L459.4,269.0ZM464.0,264.7L466.4,266.8L464.8,267.8ZM470.8,263.8L472.6,266.3L470.8,266.9ZM477.5,263.9L478.8,266.8L476.9,267.0ZM483.8,264.8L484.5,267.5L482.7,267.4ZM489.9,265.2L490.2,267.8L488.5,267.4ZM495.9,265.5L495.8,268.2L494.2,267.5ZM502.0,266.0L501.4,268.6L499.9,267.7ZM507.5,267.0L506.7,269.3L505.4,268.2ZM512.5,268.2L511.5,270.1L510.5,268.9ZM516.9,269.3L516.1,270.8L515.3,269.6ZM520.9,270.3L519.9,271.5L519.3,270.4ZM449.6,275.2L451.3,275.1L450.8,276.4ZM451.8,273.4L454.6,273.8L453.8,275.4ZM456.2,271.7L459.2,272.6L458.1,274.2ZM462.2,269.0L464.9,270.7L463.3,272.0ZM470.8,267.2L472.5,269.8L470.5,270.4ZM477.9,267.4L479.1,270.4L477.0,270.5ZM484.2,268.1L484.9,271.2L482.9,271.0ZM490.5,268.6L490.7,271.8L488.8,271.3ZM496.8,269.0L496.5,272.2L494.7,271.4ZM503.4,269.9L502.4,272.9L500.8,271.7ZM509.2,271.5L507.7,274.2L506.4,272.8ZM514.0,273.1L512.4,275.2L511.5,273.7ZM518.2,274.3L516.8,275.9L516.1,274.5ZM522.0,275.3L520.8,276.4L520.3,275.2ZM448.1,280.7L450.1,280.2L449.8,281.8ZM450.7,279.9L453.8,279.6L453.4,281.5ZM454.2,278.9L457.4,278.8L456.8,280.8ZM459.8,276.7L463.0,277.3L461.9,279.1ZM474.4,272.1L475.1,275.2L473.0,274.9ZM478.6,272.0L479.5,275.0L477.4,275.0ZM484.4,272.1L485.1,275.2L483.0,274.9ZM491.4,272.5L491.4,275.6L489.4,275.0ZM496.9,272.6L496.8,275.8L494.9,275.1ZM504.7,274.2L503.6,277.2L502.0,275.8ZM511.2,276.9L509.2,279.4L508.1,277.6ZM515.6,278.8L513.2,280.8L512.5,279.0ZM519.3,279.9L517.4,281.4L516.9,279.8ZM522.8,280.6L521.5,281.7L521.1,280.3ZM447.2,286.7L449.4,285.9L449.5,287.5ZM450.5,287.0L453.4,285.9L453.5,287.8ZM453.9,287.7L456.8,286.3L457.0,288.4ZM459.2,290.1L461.6,288.0L462.4,289.9ZM470.7,295.8L470.4,292.6L472.5,293.1ZM482.4,278.1L482.0,281.2L480.1,280.3ZM480.5,278.8L482.5,281.3L480.6,282.0ZM491.8,277.7L491.8,280.9L489.8,280.2ZM492.0,277.2L493.5,280.0L491.5,280.4ZM506.9,281.8L504.8,284.2L503.7,282.4ZM513.1,284.8L510.3,286.4L509.9,284.3ZM516.6,285.7L513.8,287.0L513.5,285.1ZM519.9,286.1L517.6,287.2L517.5,285.5ZM522.3,286.4L520.9,287.2L520.8,285.8ZM447.8,292.8L449.6,291.6L450.0,293.1ZM451.4,293.6L453.7,292.0L454.3,293.7ZM455.4,295.0L457.8,292.9L458.6,294.7ZM460.6,297.4L462.3,294.7L463.6,296.4ZM467.1,299.0L468.2,296.1L469.8,297.4ZM474.7,300.5L474.8,297.3L476.8,298.1ZM481.5,301.0L481.0,297.9L483.1,298.3ZM484.8,300.5L485.0,297.3L487.0,298.1ZM497.8,300.2L495.5,298.0L497.4,297.0ZM506.1,297.6L503.1,296.6L504.4,294.9ZM512.8,294.4L509.7,294.5L510.3,292.5ZM516.5,293.1L513.3,293.5L513.7,291.6ZM519.8,292.5L517.4,293.0L517.6,291.3ZM520.7,291.9L519.1,292.3L519.2,291.1ZM449.9,297.9L451.1,296.7L451.6,298.0ZM452.8,299.4L454.5,297.6L455.2,299.1ZM457.3,300.7L459.0,298.4L460.1,299.9ZM462.6,302.2L464.0,299.4L465.4,300.8ZM468.8,303.3L469.6,300.3L471.2,301.4ZM475.0,304.9L475.2,301.7L477.1,302.5ZM481.8,306.0L481.2,302.9L483.3,303.2ZM488.9,305.7L487.7,302.8L489.8,302.7ZM497.0,305.5L494.9,303.1L496.9,302.3ZM504.6,304.0L501.9,302.4L503.5,301.1ZM510.7,301.6L507.6,300.7L508.8,299.0ZM515.2,299.7L512.3,299.4L513.0,297.7ZM517.1,297.9L515.4,298.1L515.9,296.7ZM454.6,304.2L455.5,302.7L456.3,303.9ZM459.0,305.4L460.1,303.4L461.2,304.6ZM464.3,306.5L465.2,304.1L466.5,305.2ZM470.2,307.3L470.6,304.7L472.1,305.5ZM476.0,308.6L476.0,305.6L477.8,306.2ZM482.4,309.3L481.9,306.2L483.7,306.5ZM489.1,309.1L487.9,306.3L489.8,306.1ZM496.1,309.1L494.2,306.6L496.0,305.9ZM502.8,308.3L500.4,306.3L502.0,305.2ZM508.7,306.8L506.1,305.5L507.3,304.2ZM511.5,303.8L509.9,303.5L510.7,302.4ZM460.9,309.2L461.4,307.7L462.5,308.6ZM465.8,310.4L466.1,308.6L467.3,309.5ZM471.2,311.2L471.3,309.2L472.7,309.8ZM476.8,312.2L476.6,309.9L478.2,310.3ZM482.8,312.6L482.2,310.3L483.9,310.5ZM489.0,312.4L488.0,310.4L489.6,310.2ZM495.3,312.5L493.8,310.6L495.4,310.1ZM500.7,310.7L499.2,309.6L500.5,308.9ZM504.9,308.5L503.5,307.7L504.5,307.0ZM467.5,313.0L467.8,311.4L468.8,312.0ZM472.4,314.1L472.3,312.4L473.5,312.9ZM477.6,314.9L477.3,313.3L478.6,313.6ZM483.2,314.9L482.6,313.3L483.9,313.4ZM488.6,314.0L487.9,312.6L489.1,312.4ZM493.8,313.1L492.9,311.8L494.0,311.5Z" fill="#fff" stroke="#fff" stroke-width="0.3" stroke-linejoin="round"/>
<path d="M447.6,291.9 447.5,290.2 447.5,288.4 447.6,286.5 447.9,284.6 448.2,282.6 448.6,280.6 449.1,278.6 449.6,276.6 450.2,274.5 451.0,272.4 451.8,270.3 452.7,268.3 453.7,266.3 454.8,264.4 455.9,262.4 457.2,260.5 458.5,258.7 459.9,257.0 461.3,255.4 462.7,253.9 464.3,252.5 465.9,251.1 467.5,249.9 469.1,248.8 470.7,247.9 472.5,247.1 474.2,246.5 476.0,246.0 477.7,245.5 479.3,245.1 480.9,244.9 482.5,244.7 484.0,244.6 485.5,244.6 487.0,244.6 488.6,244.7 490.1,244.9 491.7,245.2 493.2,245.5 494.8,245.9 496.3,246.3 497.8,246.8 499.2,247.3 500.6,248.0 502.0,248.7 503.4,249.4 504.7,250.2 506.0,250.9 507.3,251.6 508.5,252.2 509.7,252.9 510.9,253.5 512.0,254.2 513.2,255.0 514.3,255.8 515.4,256.5 516.4,257.4 517.5,258.2 518.4,259.1 519.3,260.1 520.2,261.2 520.9,262.3 521.7,263.5 522.3,264.7 522.9,266.0 523.4,267.3 523.9,268.6 524.3,269.9 524.6,271.2 524.9,272.6 525.0,274.0 525.1,275.5 525.0,277.1 524.9,278.8 524.7,280.5 524.3,282.2 523.9,284.0 523.4,285.7 522.8,287.5 522.1,289.2 521.3,291.0 520.4,292.7 519.4,294.4 518.3,296.0 517.1,297.5 515.9,299.0 514.5,300.4 513.1,301.7 511.6,303.0 510.1,304.2 508.5,305.4 506.9,306.5 505.2,307.5 503.4,308.5 501.6,309.5 499.8,310.3 498.0,311.2 496.2,312.0 494.3,312.7 492.4,313.4 490.5,313.9 488.6,314.4 486.7,314.9 484.8,315.3 482.9,315.6 481.0,315.8 479.2,315.9 477.3,315.9 475.4,315.7 473.5,315.5 471.5,315.1 469.6,314.7 467.8,314.1 466.0,313.4 464.3,312.6 462.7,311.7 461.1,310.6 459.6,309.5 458.1,308.4 456.8,307.3 455.5,306.1 454.4,305.0 453.3,303.8 452.3,302.6 451.4,301.4 450.6,300.1 449.9,298.8 449.2,297.6 448.6,296.2 448.2,294.9 447.8,293.4Z" fill="none" stroke="#00ee00" stroke-width="1.7" stroke-linejoin="round"/>
</g>
<rect x="411.6" y="195.5" width="163.2" height="161.9" fill="none" stroke="#000" stroke-width="1.45"/>
<text x="395.8" y="204.7" font-size="20" font-weight="bold" fill="#000" textLength="12.2" lengthAdjust="spacingAndGlyphs">y</text>
<text x="575.5" y="374.0" font-size="22" stroke="#000" stroke-width="0.55" text-anchor="end" fill="#000" textLength="12.2" lengthAdjust="spacingAndGlyphs">x</text>
<g fill="#fff">
<g stroke="#fff" stroke-width="0.45" stroke-linejoin="round">
<text x="416.1" y="214.8" font-size="15" textLength="6.6" lengthAdjust="spacingAndGlyphs">t</text>
<text x="423.9" y="214.8" font-size="15" textLength="13.6" lengthAdjust="spacingAndGlyphs">=</text>
<text x="439.1" y="214.8" font-size="15" textLength="43.4" lengthAdjust="spacingAndGlyphs">7.660</text>
</g>
<text x="482.5" y="214.8" font-size="16.5" font-style="italic" textLength="11.3" lengthAdjust="spacingAndGlyphs">ω</text>
<text x="494.4" y="220.2" font-size="12" stroke="#fff" stroke-width="0.3" textLength="6.8" lengthAdjust="spacingAndGlyphs">a</text>
<text x="495.9" y="208.8" font-size="11" textLength="9" lengthAdjust="spacingAndGlyphs">−</text>
<text x="506.8" y="209.5" font-size="10.5" font-weight="bold" textLength="6.2" lengthAdjust="spacingAndGlyphs">1</text>
<text x="572.3" y="216.1" font-size="24" text-anchor="end">)</text>
<text transform="translate(564.3,214.9) scale(1.13,1)" font-size="22" font-weight="bold" text-anchor="end">f</text>
</g>
<g clip-path="url(#cg)">
<rect x="15.7" y="392.4" width="163.2" height="162.8" fill="#000098"/>
<g filter="url(#bl)" transform="scale(0.1)"><path fill="#0000a2" d="M826,4404l35,-4 50,-1 35,3 35,6 35,10 40,15 40,19 45,25 35,23 35,28 25,25 22,26 20,30 14,30 9,30 4,30 0,30-4,30-9,45-17,60 1,35-5,20-16,25-39,35-37,45-28,25-35,27-35,20-35,17-40,15-45,12-40,7-50,6-40,1-40,-3-45,-8-40,-10-35,-11-45,-19-40,-21-30,-19-32,-24-28,-25-23,-25-19,-25-18,-30-13,-30-8,-30-4,-30-1,-20 3,-25 11,-40 21,-40 27,-35 84,-80 100,-105 45,-41 25,-18 30,-16 35,-12 35,-8z"/>
<path fill="#0000b3" d="M837,4439l34,-3 40,0 35,3 30,5 34,10 38,15 41,20 43,25 29,20 30,25 25,26 20,26 15,25 10,23 7,25 3,30-1,30-5,35-9,43-10,37 6,30 0,20-8,20-16,20-22,18-25,17-30,31-30,26-30,21-35,19-50,21-50,15-55,10-55,4-35,-1-35,-4-40,-8-35,-11-40,-15-30,-14-30,-18-30,-20-25,-21-26,-25-21,-25-16,-25-13,-25-11,-30-6,-25-2,-25 1,-25 5,-25 8,-25 12,-25 17,-25 19,-25 68,-75 80,-78 40,-34 30,-23 25,-15 23,-10 32,-10 26,-5z"/>
<path fill="#0000bf" d="M709,4574l42,-4 50,1 50,5 50,9 45,13 50,19 40,19 40,25 35,26 30,29 28,33 19,30 10,20 6,20 3,20 0,25 14,10 8,10 4,10 2,10-1,10-9,20-13,15-16,13-25,16-22,11-45,40-43,28-35,17-35,14-40,12-40,8-40,5-40,1-40,-3-45,-9-40,-11-40,-16-35,-17-35,-22-30,-24-28,-28-23,-30-17,-30-13,-35-6,-30-1,-35 5,-30 12,-35 19,-35 30,-40 37,-40 35,-30 30,-20 30,-13 33,-7z"/>
<path fill="#0000ce" d="M727,4609l39,-2 45,1 40,5 45,9 35,10 40,15 40,19 30,19 25,18 24,21 19,20 19,25 15,25 11,25 8,25 3,25 31,9 10,6 10,10 4,10 0,10-3,10-5,10-13,15-18,13-30,17-35,15-30,27-35,23-28,15-52,23-30,9-65,7-35,2-35,-2-40,-6-45,-11-40,-14-35,-17-35,-21-30,-22-28,-28-24,-30-16,-30-12,-35-5,-30 0,-30 7,-35 13,-35 21,-35 29,-37 30,-27 25,-17 30,-14 35,-9 41,-6z"/>
<path fill="#0000e0" d="M752,4634l34,-1 35,2 35,5 35,8 30,8 35,14 30,14 30,19 25,18 21,18 18,20 19,25 11,20 10,25 6,20 3,25 47,11 15,8 7,6 3,5 3,10-2,10-5,10-13,15-23,16-35,16-41,13-39,30-35,20-30,25-20,9-20,5-35,3-55,-1-60,-6-35,-5-35,-9-35,-13-35,-17-30,-18-30,-22-26,-26-22,-30-16,-30-10,-30-4,-30 2,-30 8,-35 13,-30 20,-32 25,-28 25,-19 30,-16 35,-12 40,-9 41,-4z"/>
<path fill="#0000f5" d="M728,4659l33,-3 35,0 30,2 35,5 35,9 30,10 30,13 30,17 26,17 23,20 19,20 15,20 11,20 11,25 5,25 2,25 48,5 15,4 13,6 7,7 5,8 0,10-4,10-8,10-13,10-30,17-35,12-51,11-29,23-12,22-18,18-25,14-25,6-55,1-40,-2-20,-3-115,-32-35,-15-30,-16-30,-21-25,-23-22,-27-15,-25-10,-25-6,-30-1,-25 5,-30 10,-30 14,-25 20,-25 20,-18 25,-16 30,-13 35,-11 37,-7z"/>
<path fill="#0012ff" d="M748,4674l28,-2 30,1 30,3 30,5 55,17 25,12 25,14 25,17 22,18 18,20 14,20 11,20 7,20 6,25 0,25 2,4 45,1 30,7 10,5 8,8 2,10-3,10-8,10-13,10-36,17-40,11-52,7-3,3-7,27-9,15-9,10-11,10-14,8-15,6-15,3-55,1-40,-2-20,-4-90,-26-55,-27-25,-15-30,-22-23,-22-17,-20-15,-25-10,-25-5,-25-1,-30 5,-25 10,-25 15,-25 18,-20 23,-18 25,-14 35,-14 30,-8 37,-6z"/>
<path fill="#0038ff" d="M744,4694l52,-3 55,7 50,13 25,11 25,13 25,17 20,17 18,20 17,25 9,20 6,25 1,25-3,20 7,1 45,-4 30,4 15,6 8,8 2,5-2,10-8,10-14,10-31,13-45,10-40,1-5,31-7,15-8,10-10,11-15,10-15,6-15,4-40,1-55,-3-15,-3-90,-26-65,-33-20,-13-16,-14-10,-15-9,-16-15,-19-12,-20-9,-20-6,-25 0,-25 3,-20 9,-25 12,-20 18,-20 19,-15 25,-15 26,-11 25,-8 33,-6z"/>
<path fill="#0066ff" d="M738,4714l48,-5 50,4 50,13 45,20 28,18 22,20 17,20 14,25 7,20 3,25-2,20-10,30 1,2 42,-12 38,-3 20,3 12,5 5,5 1,5-1,5-7,10-10,6-18,9-17,5-40,5-20,-1-15,-4 2,5 0,25-4,15-8,15-10,12-15,12-15,7-15,4-40,1-55,-4-15,-3-90,-26-60,-31-32,-22-8,-10-9,-15-5,-15-3,-20-12,-25-6,-20-3,-25 2,-20 6,-20 10,-19 13,-16 16,-15 21,-14 20,-11 25,-9 27,-6z"/>
<path fill="#0099ff" d="M743,4734l33,-4 30,0 35,4 30,8 30,12 28,15 25,20 17,20 15,25 7,25 1,20-2,15-8,20-9,15 11,16 7,14 4,25-2,15-6,15-10,15-11,10-22,11-20,3-40,-1-55,-5-95,-27-70,-37-15,-11-11,-13-10,-20-3,-20 2,-15 4,-20-5,-20-2,-25 3,-15 5,-15 16,-25 26,-23 30,-16 37,-11zM1046,4929l15,-3 15,-1 15,3 5,6-1,5-6,5-9,5-19,5-20,1-15,-5-2,-6 3,-5 7,-5 12,-5z"/>
<path fill="#00ccff" d="M768,4749l28,-2 25,2 25,5 25,7 25,11 20,13 20,17 15,17 13,25 4,25-3,25-12,25 2,5 16,12 10,12 7,16 3,15-1,15-5,15-10,15-14,12-20,9-20,2-40,-1-50,-5-95,-28-70,-37-14,-12-8,-10-9,-20-1,-25 6,-20 13,-20-1,-30 4,-15 6,-15 19,-24 23,-16 32,-13 32,-7z"/>
<path fill="#00ffff" d="M760,4769l21,-3 25,-1 25,3 20,5 20,8 20,10 18,13 15,15 15,25 4,25-4,25-12,20 5,5 19,9 16,11 12,15 6,20 0,15-4,15-8,15-12,11-15,8-20,4-45,-1-50,-5-90,-27-65,-33-15,-10-11,-12-6,-10-5,-15-1,-15 2,-10 6,-15 6,-10 25,-20 1,-20 8,-24 14,-16 16,-13 20,-10 24,-7z"/>
<path fill="#33ffcc" d="M787,4784l34,1 35,10 30,17 20,21 10,21 1,20-6,20-12,15 7,5 35,15 19,10 13,15 6,15 2,15-5,19-10,16-10,8-20,9-20,1-45,-2-40,-4-90,-27-65,-34-15,-11-8,-10-8,-15-2,-20 3,-15 9,-15 17,-15 31,-10 0,-15 5,-15 8,-13 13,-12 27,-14 31,-6z"/>
<path fill="#66ff99" d="M771,4809l25,-5 30,3 15,4 15,8 19,15 10,15 3,10 0,10-4,15-16,20 68,27 15,8 12,10 10,15 3,20-5,20-12,15-13,8-20,5-35,0-55,-5-90,-26-60,-30-25,-18-9,-14-4,-15 2,-20 7,-15 14,-14 15,-7 15,-1 25,3 8,-1-2,-10 0,-10 5,-15 14,-15 20,-10z"/>
<path fill="#99ff66" d="M805,4834l16,2 15,8 9,10 2,10-4,10-12,8-15,4-15,-1-2,4 12,1 4,4 11,2 6,3 34,9 55,22 25,12 15,12 8,15 2,15-5,18-10,13-15,10-15,2-35,0-55,-5-90,-26-55,-28-15,-9-12,-10-9,-15-3,-20 2,-10 5,-10 12,-14 15,-7 15,-2 60,10 15,0 5,3 18,0-11,-5-7,-5-6,-10-1,-10 5,-10 7,-5 19,-5z"/>
<path fill="#ccff33" d="M683,4879l8,-3 15,0 75,12 85,25 60,24 24,12 11,13 6,17-1,10-3,10-7,10-15,11-15,3-25,0-65,-5-90,-27-62,-32-14,-10-8,-10-5,-15 0,-10 2,-10 9,-15 15,-10z"/>
<path fill="#ffff00" d="M682,4884l9,-3 15,-1 70,12 90,25 65,27 18,10 8,10 4,10 1,10-2,10-9,13-10,8-15,3-25,1-60,-4-90,-26-65,-34-10,-6-9,-10-5,-15 0,-15 8,-15 12,-10z"/>
<path fill="#ffcc00" d="M683,4889l8,-3 15,-1 70,11 90,26 65,27 15,10 5,5 5,10 1,10-2,10-7,10-12,7-20,3-25,0-50,-3-90,-26-58,-31-15,-10-7,-7-5,-13 1,-15 5,-10 11,-10z"/>
<path fill="#ff9900" d="M684,4894l7,-3 15,-1 70,10 85,24 59,25 18,10 8,7 5,8 0,15-6,10-9,7-20,3-25,0-50,-3-85,-24-60,-31-20,-16-5,-11 0,-10 3,-10 10,-10z"/>
<path fill="#ff6600" d="M686,4899l10,-4 15,0 65,10 85,24 50,22 24,13 9,10 1,5-1,10-3,5-5,5-20,5-70,-1-90,-26-50,-26-23,-17-6,-10-1,-10 5,-10 5,-5z"/>
<path fill="#ff3300" d="M691,4904l10,-3 15,0 60,8 85,25 62,30 11,10 3,10-2,5-7,5-17,4-65,0-85,-24-45,-23-25,-17-5,-6-3,-9 3,-10 5,-5z"/>
<path fill="#ff0800" d="M705,4909l26,0 45,5 85,25 40,20 15,10 7,10-2,5-10,6-15,2-50,1-85,-24-35,-19-16,-11-11,-10-5,-10 1,-5 10,-5z"/>
<path fill="#e80000" d="M708,4919l13,-5 50,3 85,24 34,18 11,8 7,7 0,5-7,5-15,4-40,1-60,-16-27,-9-33,-20-16,-15-3,-5 1,-5z"/>
<path fill="#cf0000" d="M735,4919l41,2 80,23 26,15 12,10 2,5-2,5-8,4-20,3-20,0-85,-24-25,-16-14,-12-3,-5 1,-5 6,-4 9,-1z"/>
<path fill="#b80000" d="M746,4924l26,0 84,24 23,16 4,5 0,5-12,6-25,3-82,-24-18,-11-13,-14 0,-5 3,-3 10,-2z"/>
<path fill="#a30000" d="M750,4929l21,-2 85,25 16,12 1,5-1,5-11,4-15,2-80,-23-11,-8-10,-10-1,-5 6,-5z"/>
<path fill="#910000" d="M758,4934l13,-3 81,23 7,5 4,5 0,5-6,5-11,1-80,-23-9,-8-2,-5 3,-5z"/>
<path fill="#850000" d="M764,4939l2,-3 5,-1 35,12 45,11 5,5 0,3-5,5-48,-12-37,-11-2,-4 0,-5z"/></g>
<rect x="15.7" y="392.4" width="163.2" height="162.8" fill="url(#dg)" opacity="0.035"/>
<rect x="15.7" y="392.4" width="163.2" height="162.8" fill="url(#dg)" opacity="0.55" mask="url(#gg)"/>
<path d="M61.9,463.1L61.6,462.6M67.0,463.1L66.6,462.2M72.0,463.1L71.8,462.1M77.1,463.1L77.1,462.2M82.2,463.1L82.3,462.5M87.3,463.1L87.4,463.0M56.8,468.2L56.0,467.2M61.9,468.2L60.9,466.6M67.0,468.2L66.0,466.0M72.0,468.2L71.5,465.8M77.1,468.2L77.0,465.9M82.2,468.2L82.4,466.3M87.3,468.2L87.7,466.8M92.5,468.2L92.8,467.3M97.5,468.2L97.9,467.6M102.6,468.2L102.8,468.0M56.8,473.3L55.1,471.6M61.9,473.3L60.1,470.9M67.0,473.3L65.5,470.4M72.0,473.3L71.2,470.0M77.1,473.3L76.9,470.0M82.2,473.3L82.6,470.4M87.3,473.3L88.1,470.7M92.5,473.3L93.5,471.2M97.5,473.3L98.7,471.6M102.6,473.3L103.7,472.1M107.8,473.3L108.3,472.8M112.8,473.3L112.8,473.4M56.8,478.4L54.3,476.5M61.9,478.4L59.4,475.7M67.0,478.4L64.9,474.9M72.0,478.4L70.9,474.3M77.1,478.4L76.9,474.3M82.2,478.4L82.8,474.7M87.3,478.4L88.5,475.1M92.5,478.4L94.1,475.5M97.5,478.4L99.5,476.0M102.6,478.4L104.6,476.6M107.8,478.4L109.3,477.3M112.8,478.4L113.6,477.9M56.8,483.5L53.6,481.8M61.9,483.5L58.4,480.9M67.0,483.5L64.0,479.7M72.0,483.5L70.7,478.9M77.1,483.5L77.2,478.7M82.2,483.5L83.1,479.0M87.3,483.5L89.0,479.5M92.5,483.5L94.8,480.1M97.5,483.5L100.3,480.8M102.6,483.5L105.4,481.5M107.8,483.5L110.2,482.2M112.8,483.5L114.4,482.8M118.0,483.5L118.4,483.3M56.8,488.6L52.9,487.6M61.9,488.6L57.4,486.9M67.0,488.6L63.0,485.9M72.0,488.6L71.3,483.9M77.1,488.6L77.7,483.8M82.2,488.6L83.4,483.9M87.3,488.6L89.6,484.4M92.5,488.6L95.5,484.9M97.5,488.6L101.2,485.9M102.6,488.6L106.2,486.9M107.8,488.6L110.8,487.5M112.8,488.6L115.1,488.0M118.0,488.6L119.0,488.4M56.8,493.7L52.7,493.7M61.9,493.7L57.1,493.9M67.0,493.7L62.2,494.4M72.0,493.7L71.8,498.5M77.1,493.7L73.1,491.0M82.2,493.7L84.9,489.7M87.3,493.7L89.2,489.3M92.5,493.7L95.7,490.2M97.5,493.7L102.0,492.0M102.6,493.7L106.9,492.8M107.8,493.7L111.2,493.2M112.8,493.7L115.5,493.4M118.0,493.7L119.3,493.6M61.9,498.8L57.6,500.5M67.0,498.8L63.1,501.7M72.0,498.8L69.6,502.9M77.1,498.8L74.2,502.6M82.2,498.8L83.4,503.5M87.3,498.8L83.4,501.5M92.5,498.8L97.0,500.3M97.5,498.8L102.3,499.4M102.6,498.8L107.1,499.3M107.8,498.8L111.4,499.1M112.8,498.8L115.6,499.0M61.9,503.9L61.4,504.2M67.0,503.9L63.8,507.1M72.0,503.9L69.5,507.9M77.1,503.9L75.4,508.4M82.2,503.9L81.8,508.7M87.3,503.9L87.5,508.7M92.5,503.9L95.0,508.0M97.5,503.9L101.5,506.6M102.6,503.9L106.6,505.6M107.8,503.9L111.0,505.0M67.0,509.0L66.5,509.6M72.0,509.0L70.2,512.4M77.1,509.0L76.0,513.1M82.2,509.0L81.9,513.3M87.3,509.0L88.1,513.6M92.5,509.0L94.5,513.2M97.5,509.0L100.5,512.2M102.6,509.0L102.8,509.1M72.0,514.1L72.1,513.9M77.1,514.1L77.0,514.6M82.2,514.1L82.2,515.2M87.3,514.1L87.5,515.1M92.5,514.1L92.6,514.5" stroke="#fff" stroke-width="0.75" stroke-linecap="round" fill="none"/><path d="M61.0,461.5L62.3,462.6L61.2,463.1ZM66.2,461.1L67.3,462.3L66.1,462.7ZM71.6,460.9L72.5,462.2L71.3,462.5ZM77.0,461.0L77.7,462.4L76.5,462.5ZM82.4,461.3L82.9,462.9L81.7,462.8ZM87.6,461.9L87.9,463.5L86.7,463.2ZM55.2,466.3L56.7,467.0L55.6,467.8ZM60.2,465.5L61.6,466.5L60.4,467.2ZM65.6,464.9L66.8,466.0L65.5,466.6ZM71.2,464.6L72.2,465.9L70.8,466.2ZM76.9,464.7L77.7,466.1L76.3,466.2ZM82.5,465.1L83.1,466.7L81.7,466.5ZM88.0,465.6L88.3,467.2L87.0,466.9ZM93.3,466.1L93.3,467.8L92.1,467.3ZM98.5,466.6L98.3,468.2L97.2,467.6ZM103.5,467.0L103.1,468.6L102.1,467.9ZM54.2,470.7L55.8,471.3L54.7,472.3ZM59.3,469.7L60.9,470.7L59.7,471.6ZM64.8,468.9L66.4,470.3L64.9,471.0ZM70.7,468.3L72.0,470.1L70.5,470.5ZM76.8,468.4L77.7,470.3L76.2,470.4ZM82.8,468.9L83.3,470.8L81.8,470.6ZM88.5,469.4L88.7,471.2L87.3,470.8ZM94.0,470.1L94.0,471.8L92.7,471.1ZM99.4,470.6L99.1,472.2L97.9,471.4ZM104.4,471.2L104.0,472.8L103.0,471.9ZM109.2,472.0L108.5,473.4L107.7,472.5ZM113.7,472.6L112.9,474.0L112.2,473.1ZM53.1,475.5L55.0,476.0L54.1,477.3ZM58.0,474.3L60.2,475.3L58.9,476.5ZM63.8,473.0L65.8,474.7L64.3,475.6ZM70.2,472.1L71.8,474.4L70.1,474.9ZM76.8,472.1L77.8,474.6L76.1,474.7ZM83.1,472.8L83.6,475.1L81.9,474.9ZM89.1,473.3L89.2,475.6L87.6,475.1ZM94.9,474.1L94.6,476.2L93.2,475.4ZM100.4,474.8L99.9,476.7L98.7,475.8ZM105.5,475.7L104.9,477.3L103.9,476.2ZM110.2,476.6L109.4,478.0L108.6,476.9ZM114.6,477.3L113.7,478.6L113.0,477.6ZM51.9,480.9L54.2,481.2L53.4,482.7ZM56.5,479.5L59.2,480.4L58.1,481.8ZM62.4,477.6L65.0,479.4L63.4,480.5ZM70.0,476.3L71.7,478.9L69.9,479.4ZM77.2,476.0L78.1,479.0L76.2,479.0ZM83.6,476.5L84.0,479.5L82.2,479.1ZM90.0,477.3L89.8,480.2L88.1,479.4ZM96.0,478.2L95.3,480.8L93.9,479.8ZM101.7,479.3L100.7,481.6L99.5,480.4ZM106.8,480.5L105.6,482.4L104.7,481.0ZM111.3,481.5L110.3,483.0L109.5,481.7ZM115.5,482.3L114.4,483.5L113.9,482.3ZM119.5,482.9L118.3,484.0L117.9,482.9ZM50.9,487.0L53.4,486.8L53.0,488.5ZM54.9,486.0L58.0,486.1L57.3,487.9ZM60.8,484.3L63.8,485.3L62.7,486.8ZM70.8,481.2L72.2,484.0L70.4,484.3ZM78.0,481.1L78.6,484.2L76.7,484.0ZM84.0,481.3L84.2,484.4L82.4,484.0ZM90.8,482.0L90.3,485.1L88.6,484.2ZM97.2,482.8L96.0,485.7L94.5,484.5ZM103.3,484.4L101.5,486.8L100.4,485.3ZM108.1,485.9L106.3,487.8L105.6,486.2ZM112.3,487.0L110.8,488.4L110.2,486.9ZM116.3,487.6L115.0,488.7L114.7,487.3ZM120.1,488.1L118.8,489.1L118.5,487.8ZM50.5,493.7L53.0,492.8L53.0,494.6ZM54.4,494.0L57.3,492.9L57.4,494.8ZM59.5,494.9L62.4,493.5L62.6,495.3ZM71.6,501.2L70.8,498.1L72.7,498.3ZM70.9,489.6L73.9,490.4L72.9,492.0ZM86.4,487.4L85.5,490.5L83.9,489.4ZM90.2,486.8L90.0,489.9L88.2,489.2ZM97.6,488.2L96.2,491.1L94.8,489.8ZM104.6,491.0L102.1,493.0L101.4,491.2ZM109.3,492.3L106.8,493.7L106.4,492.0ZM113.1,492.9L111.1,494.1L110.8,492.4ZM116.8,493.3L115.3,494.2L115.2,492.7ZM120.5,493.5L119.1,494.3L119.0,493.0ZM55.2,501.4L57.5,499.5L58.2,501.2ZM60.9,503.3L62.8,500.7L63.9,502.2ZM68.2,505.2L68.9,502.2L70.5,503.1ZM72.5,504.7L73.6,501.8L75.1,502.9ZM84.0,506.1L82.4,503.4L84.2,502.9ZM81.2,503.0L83.1,500.6L84.2,502.1ZM99.6,501.1L96.4,501.1L97.0,499.3ZM105.0,499.8L101.9,500.3L102.1,498.5ZM109.6,499.5L106.7,500.1L106.9,498.3ZM113.3,499.3L111.0,499.9L111.1,498.3ZM116.9,499.1L115.2,499.7L115.4,498.2ZM60.4,504.9L61.3,503.6L61.9,504.6ZM62.0,508.9L63.3,506.2L64.7,507.5ZM68.1,510.1L68.9,507.1L70.5,508.1ZM74.5,510.9L74.6,507.8L76.4,508.4ZM81.6,511.4L80.9,508.3L82.8,508.5ZM87.5,511.4L86.5,508.4L88.4,508.4ZM96.4,510.3L94.0,508.2L95.6,507.2ZM103.8,508.1L100.7,507.2L101.8,505.6ZM108.7,506.5L105.9,506.3L106.6,504.6ZM112.8,505.5L110.5,505.7L111.0,504.1ZM65.7,510.6L66.2,509.0L67.1,509.8ZM69.3,514.3L69.6,511.8L71.1,512.6ZM75.3,515.3L75.2,512.5L76.9,513.0ZM81.8,515.7L81.1,513.0L82.9,513.1ZM88.5,516.2L87.1,513.5L89.0,513.2ZM95.6,515.6L93.5,513.4L95.2,512.6ZM102.1,514.0L99.6,512.6L100.9,511.4ZM103.7,509.8L102.2,509.4L102.9,508.4ZM71.6,515.0L71.7,513.4L72.8,513.9ZM76.8,515.8L76.5,514.2L77.7,514.5ZM82.2,516.4L81.6,514.9L82.9,514.9ZM87.7,516.3L86.8,514.9L88.1,514.7ZM93.1,515.6L92.0,514.5L93.1,514.0Z" fill="#fff" stroke="#fff" stroke-width="0.3" stroke-linejoin="round"/>
<path d="M52.1,487.9 52.1,486.2 52.1,484.4 52.2,482.6 52.4,480.6 52.8,478.7 53.2,476.6 53.7,474.6 54.3,472.4 55.0,470.2 55.9,468.0 56.7,465.8 57.7,463.7 58.7,461.7 59.8,459.6 61.0,457.6 62.2,455.6 63.5,453.8 64.9,452.0 66.3,450.4 67.7,448.9 69.3,447.4 70.9,446.1 72.5,444.9 74.1,443.8 75.7,443.0 77.4,442.3 79.1,441.8 80.9,441.4 82.6,441.0 84.3,440.8 86.1,440.6 87.8,440.4 89.5,440.4 91.2,440.5 92.9,440.6 94.6,440.8 96.2,441.0 97.8,441.3 99.3,441.7 100.9,442.2 102.4,442.7 103.8,443.2 105.3,443.8 106.7,444.4 108.0,445.1 109.4,445.8 110.7,446.6 112.0,447.3 113.3,448.1 114.5,448.8 115.8,449.6 117.0,450.4 118.1,451.2 119.2,452.0 120.2,452.9 121.2,453.8 122.2,454.7 123.1,455.6 123.9,456.6 124.7,457.6 125.5,458.6 126.3,459.7 127.1,460.9 127.7,462.0 128.3,463.2 128.8,464.3 129.2,465.5 129.5,466.6 129.7,467.8 129.8,469.0 129.9,470.2 129.9,471.5 129.7,472.9 129.6,474.4 129.3,475.9 128.9,477.5 128.5,479.1 128.0,480.7 127.4,482.4 126.8,484.1 126.1,485.9 125.2,487.6 124.3,489.3 123.3,491.0 122.2,492.6 120.9,494.3 119.5,495.9 118.1,497.4 116.6,498.9 115.1,500.2 113.5,501.5 111.9,502.6 110.2,503.6 108.4,504.6 106.6,505.5 104.8,506.4 103.0,507.2 101.2,507.9 99.3,508.5 97.4,509.1 95.5,509.6 93.6,510.1 91.7,510.5 89.8,510.9 87.9,511.2 86.0,511.4 84.2,511.5 82.3,511.5 80.4,511.3 78.5,511.0 76.5,510.6 74.6,510.1 72.8,509.5 71.0,508.8 69.3,508.1 67.7,507.3 66.1,506.3 64.6,505.4 63.2,504.3 61.8,503.3 60.5,502.2 59.2,501.1 58.0,499.9 56.9,498.6 55.9,497.4 55.0,496.1 54.3,494.8 53.6,493.6 53.1,492.3 52.7,490.9 52.4,489.5Z" fill="none" stroke="#00ee00" stroke-width="1.7" stroke-linejoin="round"/>
</g>
<rect x="15.7" y="392.4" width="163.2" height="162.8" fill="none" stroke="#000" stroke-width="1.45"/>
<text x="-0.2" y="401.6" font-size="20" font-weight="bold" fill="#000" textLength="12.2" lengthAdjust="spacingAndGlyphs">y</text>
<text x="179.5" y="569.4" font-size="22" stroke="#000" stroke-width="0.55" text-anchor="end" fill="#000" textLength="12.2" lengthAdjust="spacingAndGlyphs">x</text>
<g fill="#fff">
<g stroke="#fff" stroke-width="0.45" stroke-linejoin="round">
<text x="20.1" y="411.7" font-size="15" textLength="6.6" lengthAdjust="spacingAndGlyphs">t</text>
<text x="27.9" y="411.7" font-size="15" textLength="13.6" lengthAdjust="spacingAndGlyphs">=</text>
<text x="43.0" y="411.7" font-size="15" textLength="43.4" lengthAdjust="spacingAndGlyphs">7.669</text>
</g>
<text x="86.5" y="411.7" font-size="16.5" font-style="italic" textLength="11.3" lengthAdjust="spacingAndGlyphs">ω</text>
<text x="98.5" y="417.1" font-size="12" stroke="#fff" stroke-width="0.3" textLength="6.8" lengthAdjust="spacingAndGlyphs">a</text>
<text x="100.0" y="405.7" font-size="11" textLength="9" lengthAdjust="spacingAndGlyphs">−</text>
<text x="110.8" y="406.4" font-size="10.5" font-weight="bold" textLength="6.2" lengthAdjust="spacingAndGlyphs">1</text>
<text x="176.3" y="413.0" font-size="24" text-anchor="end">)</text>
<text transform="translate(168.3,411.8) scale(1.13,1)" font-size="22" font-weight="bold" text-anchor="end">g</text>
</g>
<g clip-path="url(#ch)">
<rect x="213.4" y="392.4" width="163.2" height="162.8" fill="#000098"/>
<g filter="url(#bl)" transform="scale(0.1)"><path fill="#0000a2" d="M2814,4389l36,-4 34,0 36,5 39,9 45,16 50,22 40,21 40,25 35,26 28,25 27,30 18,25 16,30 11,30 7,30 1,30-4,40-10,45-14,40-19,40-28,45-38,48-17,37-9,15-14,15-14,10-30,45-21,25-19,17-26,17-24,13-30,12-30,8-36,7-39,5-45,1-46,-2-40,-4-74,-16-36,-11-40,-15-60,-30-30,-20-22,-17-21,-20-17,-20-17,-25-9,-20-7,-20-3,-25 4,-30 10,-25 17,-25 45,-48 20,-30 16,-33 31,-89 17,-40 28,-55 34,-50 24,-30 20,-21 26,-22 30,-22 24,-15 26,-11 24,-8 30,-6z"/>
<path fill="#0000b3" d="M2828,4424l32,-2 34,1 34,6 36,10 51,20 42,20 35,20 37,25 30,25 25,25 21,25 15,25 10,22 7,28 3,25 0,27-10,52-16,44-24,50-40,59-4,13-4,30-5,20-7,15-12,15-18,12-27,13-29,36-31,29-29,19-30,14-44,14-50,9-50,3-56,-3-64,-10-66,-18-60,-25-44,-27-26,-19-18,-17-14,-15-15,-20-10,-20-6,-15-4,-20-1,-20 6,-25 8,-20 53,-75 29,-45 20,-40 32,-80 20,-42 26,-43 24,-35 41,-45 24,-20 21,-15 40,-20 30,-9 28,-6z"/>
<path fill="#0000bf" d="M2615,4784l35,-2 40,0 40,3 40,5 70,16 70,25 40,19 34,20 33,24 28,25 39,3 16,4 10,5 12,13 6,15 2,20-5,20-10,15-10,9-21,11-37,15-30,35-33,26-40,21-50,16-30,6-40,4-34,1-36,-2-40,-6-40,-9-34,-10-36,-13-34,-17-31,-18-25,-19-24,-25-16,-20-13,-25-7,-25-1,-20 5,-30 15,-30 23,-35 28,-34 16,-13 20,-11 24,-8 31,-4z"/>
<path fill="#0000ce" d="M2669,4809l45,1 40,5 40,7 40,11 50,17 50,25 40,26 37,33 59,1 24,4 16,10 9,15 2,20-4,15-7,10-16,12-20,10-48,18-26,30-17,15-19,12-40,20-40,12-30,5-35,4-65,-2-34,-5-36,-7-34,-10-30,-11-36,-17-30,-18-24,-18-25,-25-18,-25-10,-20-5,-25 0,-25 9,-30 16,-30 23,-28 20,-16 20,-10 30,-8 40,-6 39,-2z"/>
<path fill="#0000e0" d="M2669,4829l51,1 44,6 46,10 44,14 40,18 36,20 29,21 25,25 76,1 20,3 14,4 9,7 6,10 3,10-3,15-9,13-19,12-31,13-39,12-9,5-11,15-15,15-32,22-34,16-60,18-40,5-50,-4-70,-13-50,-16-36,-15-30,-17-28,-21-21,-20-19,-25-10,-20-5,-20-1,-25 6,-25 11,-25 17,-22 20,-15 26,-12 30,-8 34,-6 35,-2z"/>
<path fill="#0000f5" d="M2636,4849l44,-3 44,1 46,6 50,13 44,17 40,21 35,25 24,25 77,1 34,3 10,4 11,7 5,10-1,10-6,10-13,11-30,13-64,21-8,5-12,15-10,10-21,15-21,11-60,26-34,6-36,0-40,-5-40,-10-44,-15-30,-11-30,-16-26,-16-24,-20-18,-20-12,-20-8,-20-4,-25 4,-25 8,-20 14,-19 16,-13 24,-12 30,-10 32,-6z"/>
<path fill="#0012ff" d="M2670,4859l34,-1 40,4 36,6 34,9 40,16 36,18 30,22 25,26 5,2 74,2 36,3 10,3 9,5 5,5 0,10-7,10-23,13-30,12-60,20-8,5-16,19-14,11-36,19-20,14-20,8-30,6-36,1-40,-5-34,-9-30,-11-56,-25-25,-14-20,-14-22,-20-16,-20-10,-20-6,-20-1,-20 5,-20 11,-20 15,-15 19,-12 30,-12 30,-7 36,-4z"/>
<path fill="#0038ff" d="M2670,4874l30,-1 34,2 36,5 30,8 40,14 34,19 30,22 26,27 74,3 25,3 11,2 10,5 4,6-2,5-8,7-12,8-42,17-54,18-22,21-24,16-17,18-13,8-16,7-30,6-30,1-35,-4-35,-9-30,-10-24,-12-66,-42-16,-15-17,-20-9,-15-7,-20-1,-20 3,-15 8,-15 15,-16 20,-13 24,-10 26,-7 30,-4z"/>
<path fill="#0066ff" d="M2669,4889l31,-2 34,2 30,4 36,9 34,14 32,18 24,20 19,25 51,2 24,3 20,7 3,3 0,5-11,10-19,10-37,15-33,10-23,20-15,25-13,10-16,8-26,6-34,1-36,-4-34,-9-26,-9-30,-16-38,-27-19,-20-20,-25-7,-15-4,-15-1,-15 4,-15 9,-15 11,-10 15,-11 20,-9 20,-6 25,-4z"/>
<path fill="#0099ff" d="M2682,4904l28,-1 30,1 30,6 31,9 29,13 26,17 20,20 11,20 48,5 14,5 5,4 0,3-7,8-18,10-54,20-4,5-1,15-7,15-13,13-20,10-30,5-30,0-36,-5-34,-11-40,-19-21,-13-18,-15-13,-15-11,-15-6,-15-2,-10 0,-10 4,-25 5,-10 9,-10 13,-10 20,-10 20,-6 22,-4z"/>
<path fill="#00ccff" d="M2688,4919l26,-2 30,2 31,7 25,9 27,14 18,15 12,15 8,20 29,6 6,4 2,5-8,8-34,15 0,22-6,15-14,14-20,9-30,5-30,-1-36,-7-34,-13-36,-18-29,-24-19,-25-6,-15-1,-10 0,-10 3,-10 13,-15 19,-15 16,-9 20,-7 18,-4z"/>
<path fill="#00ffff" d="M2697,4934l33,-1 37,6 33,13 23,17 9,10 5,10 2,10 0,10 5,10 0,5 7,20 1,10-3,10-9,14-18,11-22,6-30,1-30,-3-30,-9-30,-13-26,-15-20,-17-17,-20-7,-15-2,-20 5,-15 11,-12 16,-8 57,-15z"/>
<path fill="#33ffcc" d="M2667,4949l23,-1 54,3 26,7 21,11 11,10 10,15 18,20 9,15 4,20-1,10-5,10-13,11-20,8-20,3-24,0-26,-4-30,-9-24,-12-21,-12-18,-15-13,-15-10,-20-2,-15 4,-15 10,-11 14,-8 23,-6z"/>
<path fill="#66ff99" d="M2670,4954l30,-1 30,5 40,15 24,15 25,21 13,20 3,10 1,10-5,15-10,10-17,8-20,4-20,1-24,-4-26,-6-24,-10-23,-13-19,-15-13,-15-8,-15-4,-15 4,-15 7,-10 16,-10 20,-5z"/>
<path fill="#99ff66" d="M2671,4959l29,-1 30,5 30,10 24,13 23,18 16,20 4,10 1,10-4,15-8,10-12,7-20,5-20,1-20,-2-24,-6-26,-9-20,-12-19,-14-13,-15-9,-15-2,-15 4,-15 9,-10 10,-5 17,-5z"/>
<path fill="#ccff33" d="M2672,4964l22,-2 30,4 30,9 27,14 19,15 16,20 4,10 1,10-5,15-11,10-12,5-19,3-20,0-20,-3-20,-6-20,-8-19,-11-15,-13-12,-12-8,-15-2,-10 1,-10 5,-10 13,-10 15,-5z"/>
<path fill="#ffff00" d="M2674,4969l26,-2 24,3 26,7 24,13 20,15 15,19 5,15-3,15-10,10-10,5-17,4-14,0-20,-2-20,-5-36,-16-15,-11-10,-10-10,-15-4,-10 0,-10 5,-10 10,-9 14,-6z"/>
<path fill="#ffcc00" d="M2676,4974l18,-3 26,2 24,7 25,11 18,13 13,15 7,15 0,10-3,6-7,9-8,5-15,4-14,1-36,-5-34,-15-14,-10-11,-10-10,-15-3,-10 1,-10 5,-10 6,-5 12,-5z"/>
<path fill="#ff9900" d="M2678,4979l22,-4 20,2 24,7 22,10 19,15 12,15 3,15-3,10-7,8-10,4-26,4-30,-5-30,-13-22,-18-8,-10-4,-10-1,-10 4,-10 7,-6 8,-4z"/>
<path fill="#ff6600" d="M2681,4984l13,-3 21,0 19,4 23,9 17,11 13,14 6,15-2,10-3,5-8,6-10,4-16,1-30,-5-24,-10-21,-16-8,-10-4,-10 0,-10 2,-5 4,-5 8,-5z"/>
<path fill="#ff3300" d="M2686,4989l14,-4 20,1 19,5 18,8 14,10 12,15 2,10-3,10-12,9-20,2-26,-4-20,-8-18,-14-11,-15-1,-10 1,-5 4,-5 7,-5z"/>
<path fill="#ff0800" d="M2691,4994l13,-4 15,1 15,3 16,6 13,9 9,10 5,10-2,10-4,5-7,3-14,3-20,-2-22,-9-14,-10-11,-15 0,-10 2,-5 6,-5z"/>
<path fill="#e80000" d="M2711,4994l23,4 23,11 12,15 1,10-3,5-13,6-20,0-18,-6-16,-10-11,-15 1,-10 4,-5 6,-3 11,-2z"/>
<path fill="#cf0000" d="M2703,4999l11,-2 10,1 20,7 10,6 8,8 4,10-1,5-5,5-16,4-14,-2-18,-7-13,-10-5,-10-1,-5 3,-5 7,-5z"/>
<path fill="#b80000" d="M2704,5004l16,-3 20,5 10,6 7,7 2,5 1,6-6,6-10,3-10,0-15,-5-9,-6-9,-9-2,-10 5,-5z"/>
<path fill="#a30000" d="M2719,5004l15,3 13,7 8,10-1,5-4,5-10,2-13,-2-13,-6-8,-9-2,-5 2,-5 4,-3 9,-2z"/>
<path fill="#910000" d="M2717,5009l13,0 10,5 6,5 2,5-2,5-6,2-10,0-14,-7-4,-5-1,-5 6,-5z"/>
<path fill="#850000" d="M2719,5014l13,0 8,5 1,5-7,3-10,-2-6,-6 1,-5z"/></g>
<rect x="213.4" y="392.4" width="163.2" height="162.8" fill="url(#dh)" opacity="0.035"/>
<rect x="213.4" y="392.4" width="163.2" height="162.8" fill="url(#dh)" opacity="0.55" mask="url(#gh)"/>
<path d="M259.6,473.3L259.7,473.4M264.8,473.3L264.6,473.0M269.9,473.3L269.7,472.8M274.9,473.3L274.9,472.7M280.1,473.3L280.1,472.9M285.1,473.3L285.1,473.3M254.6,478.4L254.3,478.2M259.6,478.4L259.1,477.5M264.8,478.4L264.1,477.0M269.9,478.4L269.4,476.6M274.9,478.4L274.8,476.5M280.1,478.4L280.2,476.8M285.1,478.4L285.4,477.3M290.2,478.4L290.4,478.0M254.6,483.5L253.6,482.6M259.6,483.5L258.3,481.8M264.8,483.5L263.5,481.1M269.9,483.5L269.0,480.7M274.9,483.5L274.7,480.6M280.1,483.5L280.3,480.7M285.1,483.5L285.7,481.3M290.2,483.5L290.9,482.1M295.4,483.5L295.8,482.8M300.4,483.5L300.5,483.4M254.6,488.6L252.7,487.3M259.6,488.6L257.5,486.6M264.8,488.6L262.8,485.8M269.9,488.6L268.6,485.1M274.9,488.6L274.7,484.9M280.1,488.6L280.5,485.1M285.1,488.6L285.9,485.6M290.2,488.6L291.4,486.2M295.4,488.6L296.8,486.9M300.4,488.6L301.5,487.8M305.6,488.6L305.7,488.5M254.6,493.7L252.0,492.5M259.6,493.7L256.7,491.8M264.8,493.7L261.9,490.8M269.9,493.7L268.2,489.8M274.9,493.7L275.1,489.5M280.1,493.7L280.9,489.6M285.1,493.7L285.7,490.1M290.2,493.7L291.8,490.8M295.4,493.7L297.7,491.7M300.4,493.7L302.5,492.6M305.6,493.7L306.5,493.3M254.6,498.8L251.6,498.2M259.6,498.8L256.0,497.7M264.8,498.8L261.0,497.0M269.9,498.8L267.3,495.5M274.9,498.8L276.5,494.9M280.1,498.8L282.3,495.2M285.1,498.8L283.4,495.2M290.2,498.8L292.3,496.2M295.4,498.8L298.4,497.6M300.4,498.8L303.2,498.2M305.6,498.8L307.0,498.6M310.6,498.8L310.6,498.8M264.8,503.9L260.6,504.4M269.9,503.9L265.8,505.1M274.9,503.9L278.8,505.7M280.1,503.9L284.0,505.3M285.1,503.9L282.1,506.6M290.2,503.9L292.9,505.9M295.4,503.9L298.6,504.6M300.4,503.9L303.3,504.2M305.6,503.9L307.0,504.0M264.8,509.0L264.2,509.4M269.9,509.0L267.8,512.6M274.9,509.0L275.9,513.1M280.1,509.0L282.0,512.7M285.1,509.0L285.8,512.8M290.2,509.0L291.9,511.8M295.4,509.0L296.0,509.4M264.8,514.1L264.8,514.0M269.9,514.1L269.5,515.1M274.9,514.1L275.0,516.0M280.1,514.1L280.5,515.9M285.1,514.1L285.5,515.2M290.2,514.1L290.4,514.3M268.0,506.7L261.7,519.5" stroke="#fff" stroke-width="0.75" stroke-linecap="round" fill="none"/><path d="M259.1,472.4L260.4,473.4L259.4,474.0ZM264.2,471.9L265.3,473.1L264.2,473.5ZM269.5,471.6L270.4,472.9L269.2,473.2ZM274.8,471.5L275.5,473.0L274.3,473.1ZM280.1,471.7L280.6,473.3L279.5,473.2ZM285.4,472.2L285.6,473.8L284.5,473.5ZM253.6,477.3L255.0,478.0L254.1,478.8ZM258.4,476.5L259.8,477.4L258.7,478.1ZM263.6,475.9L264.8,477.0L263.6,477.5ZM269.1,475.4L270.1,476.7L268.8,477.1ZM274.7,475.3L275.5,476.8L274.1,476.9ZM280.3,475.6L280.8,477.1L279.5,477.0ZM285.7,476.1L286.0,477.7L284.7,477.4ZM290.9,476.8L290.9,478.5L289.8,478.0ZM252.7,481.8L254.2,482.3L253.4,483.3ZM257.5,480.9L259.0,481.6L257.9,482.5ZM262.8,480.0L264.3,481.0L263.0,481.7ZM268.6,479.3L269.8,480.8L268.4,481.2ZM274.6,479.1L275.5,480.8L274.0,480.9ZM280.4,479.4L281.0,481.1L279.5,481.0ZM286.0,480.1L286.3,481.7L285.0,481.4ZM291.4,481.0L291.4,482.7L290.2,482.1ZM296.5,481.8L296.2,483.4L295.1,482.7ZM301.4,482.6L300.7,484.0L299.9,483.2ZM251.8,486.6L253.4,486.9L252.6,488.1ZM256.5,485.6L258.3,486.2L257.2,487.3ZM261.8,484.3L263.7,485.6L262.3,486.5ZM268.0,483.2L269.5,485.1L267.9,485.7ZM274.6,482.9L275.6,485.1L273.9,485.2ZM280.7,483.3L281.3,485.5L279.6,485.3ZM286.3,484.2L286.6,486.1L285.1,485.7ZM292.0,485.1L292.0,486.8L290.7,486.2ZM297.5,486.0L297.1,487.6L296.0,486.7ZM302.4,487.0L301.6,488.5L300.8,487.5ZM306.7,487.9L305.7,489.2L305.1,488.2ZM250.8,492.0L252.6,492.0L252.0,493.3ZM255.2,490.9L257.4,491.3L256.5,492.7ZM260.3,489.2L262.7,490.4L261.5,491.6ZM267.3,487.7L269.1,489.8L267.5,490.5ZM275.2,487.2L276.0,489.8L274.2,489.8ZM281.4,487.4L281.7,490.1L280.0,489.7ZM286.0,488.3L286.5,490.6L284.8,490.3ZM292.6,489.3L292.4,491.4L291.0,490.7ZM298.9,490.6L298.0,492.5L297.0,491.3ZM303.5,492.0L302.6,493.4L301.9,492.1ZM307.6,492.9L306.4,494.0L305.9,492.9ZM250.1,497.9L252.0,497.5L251.7,499.0ZM254.0,497.1L256.5,497.0L256.0,498.6ZM258.9,496.0L261.6,496.3L260.9,497.9ZM265.8,493.7L268.1,495.2L266.7,496.3ZM277.3,492.8L277.2,495.5L275.6,494.8ZM283.5,493.3L282.9,496.0L281.4,495.0ZM282.4,493.3L284.3,495.1L282.7,495.9ZM293.4,494.9L292.8,497.0L291.5,496.0ZM300.0,497.0L298.4,498.5L297.9,497.0ZM304.5,497.9L303.0,499.0L302.7,497.5ZM308.2,498.4L306.8,499.3L306.6,498.0ZM311.8,498.7L310.4,499.4L310.2,498.3ZM258.3,504.6L260.8,503.4L261.0,505.2ZM263.6,505.7L265.9,504.1L266.3,505.8ZM280.8,506.6L278.1,506.4L278.9,504.7ZM286.2,506.1L283.4,506.0L284.0,504.4ZM280.5,508.1L281.8,505.8L282.9,507.1ZM294.2,506.9L292.1,506.4L293.1,505.1ZM300.2,504.9L298.1,505.3L298.5,503.7ZM304.6,504.4L302.9,504.9L303.1,503.4ZM308.2,504.1L306.7,504.7L306.8,503.3ZM263.2,510.1L264.1,508.7L264.8,509.7ZM266.6,514.6L267.1,511.9L268.7,512.8ZM276.4,515.3L275.0,513.0L276.7,512.6ZM283.1,514.8L281.1,512.9L282.6,512.0ZM286.1,514.9L284.9,512.7L286.6,512.4ZM292.8,513.3L291.1,512.0L292.5,511.2ZM296.9,510.1L295.4,509.8L296.1,508.8ZM264.1,514.9L264.6,513.4L265.4,514.1ZM269.1,516.2L269.0,514.6L270.2,515.0ZM275.0,517.2L274.3,515.7L275.7,515.7ZM280.8,517.1L279.8,515.8L281.1,515.5ZM285.9,516.3L284.8,515.1L286.0,514.7ZM291.0,515.4L289.7,514.4L290.7,513.8ZM260.5,521.9L260.9,518.7L262.8,519.7Z" fill="#fff" stroke="#fff" stroke-width="0.3" stroke-linejoin="round"/>
<path d="M250.0,486.9 250.0,485.2 250.1,483.4 250.2,481.6 250.5,479.6 250.8,477.6 251.2,475.6 251.8,473.5 252.4,471.2 253.1,469.0 253.9,466.7 254.8,464.4 255.8,462.3 256.8,460.3 257.9,458.3 259.1,456.3 260.3,454.5 261.6,452.7 262.9,451.0 264.3,449.4 265.8,447.9 267.4,446.4 268.9,445.1 270.5,443.9 272.2,442.8 273.8,441.9 275.5,441.2 277.2,440.5 279.0,440.0 280.7,439.6 282.4,439.3 284.1,439.1 285.9,439.1 287.6,439.1 289.3,439.3 291.0,439.5 292.7,439.7 294.3,440.1 295.9,440.5 297.4,441.0 298.9,441.6 300.4,442.2 301.9,442.8 303.3,443.4 304.7,444.1 306.1,444.7 307.5,445.4 308.8,446.2 310.1,446.9 311.4,447.7 312.6,448.5 313.8,449.3 315.0,450.2 316.2,451.1 317.3,452.0 318.3,453.0 319.4,454.0 320.4,455.0 321.3,456.0 322.2,457.1 323.0,458.2 323.8,459.3 324.5,460.5 325.1,461.6 325.6,462.9 326.1,464.1 326.5,465.4 326.8,466.7 327.0,468.0 327.1,469.3 327.1,470.7 327.0,472.1 326.9,473.6 326.7,475.0 326.4,476.6 326.0,478.1 325.6,479.7 325.0,481.2 324.4,482.8 323.8,484.3 323.1,485.9 322.2,487.5 321.4,489.0 320.4,490.5 319.3,492.0 318.2,493.5 316.9,494.9 315.5,496.3 314.1,497.7 312.6,499.0 311.1,500.2 309.5,501.4 307.9,502.5 306.2,503.6 304.4,504.6 302.7,505.5 300.9,506.4 299.0,507.1 297.2,507.8 295.3,508.4 293.4,509.0 291.5,509.5 289.6,509.9 287.7,510.2 285.8,510.5 284.0,510.8 282.1,510.9 280.2,511.0 278.3,510.9 276.4,510.7 274.5,510.3 272.5,509.9 270.6,509.3 268.8,508.7 267.0,508.0 265.3,507.2 263.7,506.4 262.1,505.4 260.5,504.4 259.1,503.3 257.8,502.3 256.6,501.2 255.5,500.0 254.5,498.8 253.6,497.6 252.8,496.4 252.1,495.1 251.5,493.8 251.0,492.6 250.6,491.2 250.3,489.9 250.1,488.4Z" fill="none" stroke="#00ee00" stroke-width="1.7" stroke-linejoin="round"/>
</g>
<rect x="213.4" y="392.4" width="163.2" height="162.8" fill="none" stroke="#000" stroke-width="1.45"/>
<text x="197.5" y="401.6" font-size="20" font-weight="bold" fill="#000" textLength="12.2" lengthAdjust="spacingAndGlyphs">y</text>
<text x="377.3" y="569.4" font-size="22" stroke="#000" stroke-width="0.55" text-anchor="end" fill="#000" textLength="12.2" lengthAdjust="spacingAndGlyphs">x</text>
<g fill="#fff">
<g stroke="#fff" stroke-width="0.45" stroke-linejoin="round">
<text x="217.8" y="411.7" font-size="15" textLength="6.6" lengthAdjust="spacingAndGlyphs">t</text>
<text x="225.8" y="411.7" font-size="15" textLength="13.6" lengthAdjust="spacingAndGlyphs">=</text>
<text x="240.8" y="411.7" font-size="15" textLength="43.4" lengthAdjust="spacingAndGlyphs">7.677</text>
</g>
<text x="284.4" y="411.7" font-size="16.5" font-style="italic" textLength="11.3" lengthAdjust="spacingAndGlyphs">ω</text>
<text x="296.2" y="417.1" font-size="12" stroke="#fff" stroke-width="0.3" textLength="6.8" lengthAdjust="spacingAndGlyphs">a</text>
<text x="297.8" y="405.7" font-size="11" textLength="9" lengthAdjust="spacingAndGlyphs">−</text>
<text x="308.6" y="406.4" font-size="10.5" font-weight="bold" textLength="6.2" lengthAdjust="spacingAndGlyphs">1</text>
<text x="374.1" y="413.0" font-size="24" text-anchor="end">)</text>
<text transform="translate(366.1,411.8) scale(1.13,1)" font-size="22" font-weight="bold" text-anchor="end">h</text>
</g>
<g clip-path="url(#ci)">
<rect x="411.6" y="392.4" width="163.2" height="162.8" fill="#000098"/>
<g filter="url(#bl)" transform="scale(0.1)"><path fill="#0000a2" d="M4851,4369l45,1 50,7 50,14 50,21 56,30 50,34 37,33 31,35 24,35 20,40 13,40 5,40-1,45-7,40-15,50-19,45-23,40-25,35-33,35-37,32-36,25-50,29-40,20-70,31-34,11-46,11-44,5-66,0-34,2-26,4-80,21-34,6-30,2-26,-1-24,-5-20,-7-24,-16-15,-20-8,-25 0,-25 4,-20 7,-20 36,-63 7,-22 3,-35-5,-55-1,-45 4,-60 9,-45 11,-40 14,-40 20,-45 30,-55 29,-40 37,-40 42,-33 40,-24 50,-20 44,-12 55,-6z"/>
<path fill="#0000b3" d="M4812,4394l44,-4 46,2 50,8 50,16 50,22 50,28 44,32 40,36 28,35 24,40 15,35 8,35 2,40-3,40-11,45-17,45-22,45-23,35-30,35-35,33-40,30-40,24-130,64-36,12-50,11-50,4-54,-4-20,0-130,23-46,0-20,-4-14,-5-20,-13-14,-15-8,-20-1,-20 6,-30 27,-59 6,-26 2,-35-5,-100 2,-50 6,-35 10,-40 23,-65 23,-50 30,-50 31,-40 32,-31 40,-30 40,-22 40,-16 50,-11z"/>
<path fill="#0000bf" d="M4826,4409l46,-3 44,5 46,9 44,16 50,23 49,30 40,30 31,30 26,32 20,33 14,35 8,35 2,35-4,40-10,40-17,45-20,40-23,35-30,35-33,30-33,25-32,20-38,20-50,24-40,26-24,12-50,15-50,7-46,0-60,-5-84,13-36,3-30,-2-24,-8-17,-10-13,-15-6,-15-2,-20 5,-25 19,-55 7,-35 2,-65-4,-70 4,-55 15,-63 22,-62 24,-50 28,-45 30,-38 34,-32 36,-26 40,-21 46,-15 44,-8z"/>
<path fill="#0000ce" d="M4831,4424l41,-2 40,3 42,9 44,15 44,20 49,30 40,30 30,30 25,33 20,35 11,27 7,35 2,35-4,35-10,39-16,39-20,39-20,30-24,29-31,29-33,25-32,20-47,25-47,21-17,19-15,15-15,10-19,9-45,14-49,6-50,-1-60,-7-66,8-34,2-26,-3-20,-6-14,-10-11,-12-6,-15-2,-20 4,-20 17,-65 15,-90-5,-75 2,-30 4,-30 12,-55 24,-64 24,-46 26,-40 26,-31 31,-29 36,-25 37,-19 40,-13 45,-8z"/>
<path fill="#0000e0" d="M4838,4449l38,-1 36,3 37,8 33,11 40,19 33,20 32,25 25,25 19,25 16,30 11,30 5,30 2,30-3,35-8,35-11,30-18,35-23,32-28,28-32,25-36,21-34,14-40,11-40,5-34,44 32,20 9,10 4,10-1,10-4,10-9,10-17,12-20,8-26,8-30,5-30,1-50,-2-64,-10-40,4-30,0-20,-2-16,-5-14,-9-10,-10-5,-10-4,-15 0,-15 5,-25 18,-70 10,-23 16,-19 24,-19 43,-24 3,-5-17,-25-16,-30-12,-30-6,-30-1,-30 4,-30 9,-35 13,-35 19,-35 21,-31 27,-29 29,-24 34,-21 30,-14 36,-10 36,-6z"/>
<path fill="#0000f5" d="M4859,4499l17,-2 30,1 30,5 36,11 20,9 24,16 24,20 17,20 15,21 11,24 9,25 5,30 0,25-3,25-6,25-11,25-14,25-21,25-26,22-24,16-20,10-30,11-40,8-40,2-3,1 3,25-1,15-4,15-15,30-22,30 3,5 19,8 21,12 11,10 6,10 2,10-3,10-8,10-9,7-20,9-26,7-30,5-34,2-50,-4-70,-14-40,0-16,-3-14,-5-14,-9-9,-10-5,-15-2,-15 2,-25 5,-25 7,-20 12,-20 14,-15 14,-12 50,-30 50,-22 58,-16-28,-23-23,-27-17,-30-11,-30-6,-35 0,-35 8,-35 12,-30 16,-25 16,-20 21,-19 20,-14 24,-13 30,-13 36,-9 17,-2z"/>
<path fill="#0012ff" d="M4847,4514l39,-4 36,3 34,9 37,17 29,21 26,29 18,30 13,35 5,35-3,35-10,35-15,30-23,30-27,23-34,20-36,12-34,5-41,-1-39,-9-36,-15-30,-21-28,-29-19,-30-13,-35-5,-35 2,-40 10,-35 19,-34 24,-29 30,-24 36,-18 35,-10zM4729,4884l33,-2 24,3 23,9 15,15 5,10 2,10-2,25-13,30-22,30 42,19 23,16 7,10 2,10-2,10-4,5-16,12-30,11-34,6-40,2-36,-3-34,-6-56,-15-30,-5-14,-7-8,-5-9,-10-5,-10-3,-15 0,-15 4,-20 5,-15 7,-15 9,-11 30,-25 44,-27 46,-18 37,-9z"/>
<path fill="#0038ff" d="M4868,4529l34,0 34,6 30,11 30,18 26,22 20,28 14,30 7,30 1,35-6,30-12,30-20,29-24,25-26,16-30,13-34,8-36,2-34,-6-36,-12-30,-18-24,-23-20,-27-15,-32-6,-30-1,-35 6,-30 13,-30 21,-30 22,-21 30,-19 30,-13 36,-7zM4711,4909l25,-3 26,2 15,6 7,5 8,8 6,17-2,20-11,25-19,25 50,18 27,17 8,10 3,10-3,10-10,10-25,12-30,7-40,2-44,-3-36,-6-34,-11-20,-10-26,-15-11,-11-6,-10-2,-10 0,-20 7,-20 14,-20 24,-21 34,-21 36,-15 29,-8z"/>
<path fill="#0066ff" d="M4855,4544l31,-3 30,2 30,8 30,15 26,19 20,22 14,25 10,27 5,30-2,30-9,30-12,25-20,25-24,20-28,16-30,10-30,4-34,-2-30,-7-30,-14-26,-17-23,-25-15,-25-11,-30-4,-30 3,-30 8,-30 17,-30 21,-23 24,-19 26,-13 33,-10zM4697,4934l19,-3 16,1 14,4 11,8 6,15-1,15-9,20-16,20 49,13 20,8 17,9 12,10 5,10 0,10-7,10-17,10-30,8-34,4-36,-1-34,-5-36,-9-26,-12-19,-15-5,-10-1,-10-6,-20 2,-15 7,-15 18,-20 26,-18 24,-12 31,-10z"/>
<path fill="#0099ff" d="M4850,4554l26,-4 30,1 30,6 28,12 23,15 20,20 18,25 10,25 6,25 0,30-7,30-11,25-17,23-20,19-24,16-26,11-30,6-30,1-30,-5-30,-11-25,-15-25,-23-18,-27-10,-25-5,-25 0,-30 7,-30 12,-25 19,-25 23,-20 28,-16 28,-9zM4684,4969l18,0 9,5 2,5 1,5-4,10-7,10-11,10 70,12 38,13 16,10 9,10 2,10-4,10-14,10-23,8-30,4-30,0-34,-4-30,-7-26,-9-19,-12-8,-10-2,-5 1,-10 8,-10 10,-8 8,-2-5,-10 6,-15 9,-10 12,-9 12,-6 16,-5z"/>
<path fill="#00ccff" d="M4874,4559l28,0 30,6 24,10 23,14 21,20 14,20 12,25 5,25 1,25-6,29-10,24-14,22-20,20-24,15-26,11-26,5-30,1-30,-5-25,-9-25,-15-20,-18-17,-25-11,-25-5,-25 0,-30 5,-25 12,-25 14,-20 21,-20 25,-15 26,-10 28,-5zM4664,5024l28,-2 24,1 26,3 24,6 20,7 18,10 9,10 3,10-6,10-8,6-16,6-24,5-26,1-24,-1-46,-9-31,-13-13,-10-5,-10 2,-10 11,-10 16,-6 18,-4z"/>
<path fill="#00ffff" d="M4864,4569l28,-2 24,3 26,8 21,11 19,15 18,20 12,20 8,25 3,25-2,25-8,25-12,20-16,20-19,15-24,13-26,8-24,3-30,-2-26,-7-24,-13-23,-17-16,-20-12,-20-8,-25-2,-25 3,-25 8,-25 12,-20 18,-20 20,-15 24,-13 28,-7zM4662,5029l20,-3 24,0 26,2 24,5 20,7 17,9 10,10 2,10-7,10-8,5-15,5-19,3-44,0-40,-7-20,-8-15,-8-5,-5-5,-10 3,-10 5,-5 11,-6 16,-4z"/>
<path fill="#33ffcc" d="M4858,4579l28,-3 26,2 24,7 20,10 19,14 14,15 12,20 8,20 4,25 0,20-3,15-10,25-14,20-20,19-14,10-26,10-24,5-26,1-24,-5-20,-7-23,-13-17,-16-15,-19-11,-25-5,-25 1,-25 6,-25 10,-20 16,-20 17,-15 25,-13 22,-7zM4661,5034l21,-3 24,-1 26,2 20,4 20,7 10,6 11,10 2,10-3,5-10,7-16,5-14,3-36,0-34,-5-27,-10-9,-5-8,-10-1,-10 4,-5 7,-5 13,-5z"/>
<path fill="#66ff99" d="M4868,4584l24,-1 24,3 20,7 20,10 19,16 13,15 10,20 7,20 2,25-3,20-7,20-11,18-14,18-19,14-21,10-20,6-20,2-26,-1-24,-7-21,-10-19,-15-16,-18-11,-22-6,-20-1,-25 3,-20 7,-20 12,-20 16,-17 19,-13 21,-10 22,-5zM4687,5034l35,1 34,7 23,12 6,10 0,5-4,5-9,6-16,4-14,2-36,-1-30,-7-20,-9-6,-5-4,-10 1,-5 9,-8 16,-5 15,-2z"/>
<path fill="#99ff66" d="M4875,4589l21,0 20,3 20,7 20,12 16,13 15,20 8,20 5,20 0,20-4,20-8,20-12,16-14,15-21,13-19,9-20,4-26,0-20,-3-20,-8-19,-11-15,-14-13,-16-9,-20-5,-20-1,-20 3,-20 8,-20 13,-20 15,-15 19,-12 20,-8 23,-5zM4681,5039l35,-1 33,6 20,10 5,5 2,5-2,5-5,5-12,5-21,3-30,-1-24,-5-16,-7-6,-5-4,-5-1,-5 3,-5 6,-5 17,-5z"/>
<path fill="#ccff33" d="M4855,4599l21,-4 20,0 20,3 17,6 19,11 14,13 13,16 8,15 6,20 1,20-3,20-5,15-10,16-14,17-16,12-20,10-20,5-24,2-20,-3-20,-7-16,-8-17,-14-13,-15-10,-20-5,-20-1,-20 4,-20 8,-20 10,-15 15,-15 19,-13 19,-7zM4680,5044l26,-3 27,3 16,5 9,5 6,5 1,5-2,5-7,4-15,4-19,2-26,-4-18,-6-8,-5-4,-5 0,-5 4,-5 10,-5z"/>
<path fill="#ffff00" d="M4859,4604l17,-3 20,0 20,3 16,6 15,9 15,12 10,13 10,20 4,15 2,20-3,20-6,15-9,15-14,15-14,11-20,9-20,5-20,1-20,-3-20,-7-16,-9-14,-13-11,-14-10,-20-4,-20 0,-20 5,-20 7,-15 13,-17 14,-13 16,-9 17,-6zM4685,5049l21,-3 26,2 14,6 6,5 1,5-4,5-17,5-16,0-14,-2-16,-5-9,-8 1,-5 7,-5z"/>
<path fill="#ffcc00" d="M4863,4609l13,-3 20,0 20,4 16,6 14,10 15,13 10,15 7,15 3,15 0,20-3,15-9,20-11,15-12,10-10,7-20,9-20,4-20,0-14,-3-20,-8-16,-10-14,-14-7,-10-9,-20-3,-15 0,-20 5,-20 8,-15 12,-15 14,-11 14,-8 17,-6zM4696,5054l16,-2 14,2 11,5 0,5-15,4-16,-1-8,-3-5,-5 3,-5z"/>
<path fill="#ff9900" d="M4864,4614l18,-3 14,1 20,4 16,6 14,10 10,10 9,12 7,15 4,15 0,20-3,15-7,14-10,15-10,10-14,10-16,6-15,4-19,1-20,-4-16,-5-14,-9-13,-12-11,-15-7,-15-3,-15 0,-20 4,-15 7,-15 11,-15 12,-10 14,-9 18,-6z"/>
<path fill="#ff6600" d="M4864,4619l18,-3 14,1 16,3 14,5 14,9 11,10 8,10 7,15 4,15 1,15-3,15-5,15-10,15-10,10-11,8-16,7-15,4-19,1-16,-2-14,-5-14,-8-12,-10-12,-15-7,-15-3,-15-1,-15 3,-15 6,-15 10,-13 12,-12 12,-8 18,-7z"/>
<path fill="#ff3300" d="M4865,4624l17,-2 14,0 26,7 14,9 10,9 10,14 6,13 3,15 0,15-3,14-5,11-17,20-14,10-14,6-16,3-14,1-20,-4-14,-6-22,-17-10,-15-4,-12-3,-26 3,-14 4,-13 10,-13 10,-11 16,-9 13,-5z"/>
<path fill="#ff0800" d="M4874,4629l12,-1 16,1 14,5 10,5 10,8 10,11 10,21 2,10 0,15-4,15-5,10-17,19-11,6-15,6-14,2-16,-1-24,-8-14,-9-9,-10-6,-10-6,-15-1,-10 1,-15 4,-15 6,-10 8,-10 11,-9 16,-8 12,-3z"/>
<path fill="#e80000" d="M4863,4639l23,-5 26,5 20,12 13,18 4,10 2,15 0,10-5,14-10,16-20,15-14,5-10,1-26,-3-10,-4-13,-9-9,-10-6,-10-5,-20 1,-15 3,-10 5,-10 10,-12 10,-7 11,-6z"/>
<path fill="#cf0000" d="M4883,4644l19,2 20,9 12,14 7,20-2,20-4,10-7,10-16,12-20,5-20,-2-20,-10-13,-15-6,-20 2,-20 11,-18 16,-11 21,-6z"/>
<path fill="#b80000" d="M4878,4654l18,0 15,6 14,14 6,15-1,15-7,15-11,11-16,6-20,0-14,-7-11,-10-7,-15-1,-15 6,-15 12,-13 17,-7z"/>
<path fill="#a30000" d="M4871,4664l11,-3 14,1 15,7 8,10 4,10-1,15-6,11-10,9-14,5-10,0-15,-5-11,-10-5,-15 1,-12 6,-13 13,-10z"/>
<path fill="#910000" d="M4886,4674l10,2 6,3 4,6 3,9-2,10-3,5-8,5-10,2-10,-2-6,-5-4,-6-1,-9 1,-7 6,-7 4,-4 10,-2z"/>
<path fill="#850000" d="M4881,4689l5,-2 6,1 4,6-1,5-3,3-6,1-4,-2-4,-7 3,-5z"/></g>
<rect x="411.6" y="392.4" width="163.2" height="162.8" fill="url(#di)" opacity="0.035"/>
<rect x="411.6" y="392.4" width="163.2" height="162.8" fill="url(#di)" opacity="0.55" mask="url(#gi)"/>
<path d="M462.9,473.3L462.9,473.3M468.0,473.3L468.0,473.1M473.1,473.3L473.2,473.0M478.2,473.3L478.3,473.2M483.3,473.3L483.3,473.4M452.8,478.4L452.7,478.3M457.8,478.4L457.6,477.8M462.9,478.4L462.7,477.4M468.0,478.4L467.9,477.2M473.1,478.4L473.2,477.2M478.2,478.4L478.5,477.3M483.3,478.4L483.6,477.7M488.4,478.4L488.6,478.1M452.8,483.5L452.2,482.8M457.8,483.5L457.1,482.2M462.9,483.5L462.3,481.7M468.0,483.5L467.7,481.3M473.1,483.5L473.3,481.3M478.2,483.5L478.8,481.5M483.3,483.5L484.1,482.0M488.4,483.5L489.1,482.6M493.5,483.5L493.9,483.1M447.6,488.6L447.5,488.5M452.8,488.6L451.6,487.5M457.8,488.6L456.5,486.8M462.9,488.6L461.8,486.1M468.0,488.6L467.5,485.7M473.1,488.6L473.4,485.7M478.2,488.6L479.2,486.0M483.3,488.6L484.7,486.5M488.4,488.6L489.7,487.2M493.5,488.6L494.4,487.9M498.6,488.6L498.9,488.4M447.6,493.7L447.5,493.6M452.8,493.7L451.0,492.5M457.8,493.7L455.9,491.8M462.9,493.7L461.2,491.0M468.0,493.7L467.2,490.3M473.1,493.7L473.6,490.2M478.2,493.7L479.8,490.7M483.3,493.7L485.3,491.5M488.4,493.7L490.4,492.2M493.5,493.7L494.9,492.9M498.6,493.7L499.4,493.4M503.8,493.7L503.7,493.7M452.8,498.8L450.5,497.8M457.8,498.8L455.2,497.2M462.9,498.8L460.4,496.3M468.0,498.8L466.6,495.3M473.1,498.8L473.9,495.0M478.2,498.8L480.7,495.9M483.3,498.8L486.0,496.9M488.4,498.8L490.9,497.6M493.5,498.8L495.4,498.1M498.6,498.8L499.7,498.5M503.8,498.8L503.9,498.8M452.8,503.9L452.3,503.8M457.8,503.9L454.8,503.2M462.9,503.9L459.6,502.7M468.0,503.9L465.3,501.4M473.1,503.9L475.0,500.5M478.2,503.9L481.5,502.4M483.3,503.9L486.6,503.0M488.4,503.9L491.2,503.4M493.5,503.9L495.6,503.6M498.6,503.9L499.8,503.8M503.8,503.9L504.1,503.9M457.8,509.0L457.4,509.1M462.9,509.0L460.8,509.5M468.0,509.0L465.5,510.5M478.2,509.0L481.3,509.9M483.3,509.0L486.4,509.5M488.4,509.0L491.1,509.3M493.5,509.0L495.5,509.2M498.6,509.0L498.9,509.0M462.9,514.1L463.1,514.0M468.0,514.1L467.9,514.4M473.1,514.1L473.4,515.0M478.2,514.1L479.2,515.1M483.3,514.1L484.4,514.7M488.4,514.1L488.8,514.2" stroke="#fff" stroke-width="0.75" stroke-linecap="round" fill="none"/><path d="M462.6,472.1L463.6,473.4L462.5,473.7ZM467.9,471.9L468.6,473.3L467.5,473.4ZM473.2,471.8L473.7,473.4L472.6,473.3ZM478.5,472.0L478.8,473.6L477.6,473.4ZM483.7,472.3L483.7,473.9L482.7,473.5ZM452.0,477.3L453.3,478.2L452.4,478.9ZM457.1,476.7L458.3,477.8L457.2,478.4ZM462.3,476.3L463.4,477.5L462.1,477.9ZM467.8,476.0L468.6,477.4L467.3,477.6ZM473.3,476.0L473.9,477.5L472.6,477.4ZM478.8,476.2L479.1,477.8L477.8,477.5ZM484.1,476.6L484.1,478.2L483.0,477.7ZM489.2,477.1L489.0,478.7L488.0,478.1ZM451.4,481.9L452.9,482.6L451.9,483.4ZM456.5,481.2L457.8,482.1L456.7,482.8ZM461.9,480.6L463.0,481.7L461.7,482.2ZM467.6,480.1L468.5,481.5L467.1,481.7ZM473.4,480.1L474.0,481.6L472.6,481.5ZM479.1,480.4L479.4,482.0L478.1,481.6ZM484.6,480.9L484.6,482.6L483.4,482.0ZM489.8,481.6L489.5,483.2L488.4,482.5ZM494.7,482.3L494.1,483.8L493.2,483.0ZM446.6,487.8L448.1,488.2L447.4,489.2ZM450.8,486.6L452.3,487.2L451.4,488.2ZM455.8,485.8L457.2,486.6L456.1,487.4ZM461.3,484.9L462.6,486.1L461.3,486.7ZM467.2,484.3L468.3,485.9L466.8,486.2ZM473.5,484.2L474.2,486.0L472.6,485.9ZM479.7,484.7L479.8,486.5L478.4,486.0ZM485.3,485.5L485.1,487.1L483.9,486.4ZM490.5,486.4L490.0,487.9L489.0,487.0ZM495.3,487.1L494.6,488.6L493.8,487.6ZM499.9,487.7L499.0,489.1L498.4,488.1ZM446.5,493.1L448.1,493.3L447.5,494.3ZM450.0,491.8L451.6,492.1L450.8,493.2ZM454.9,490.8L456.6,491.4L455.5,492.5ZM460.3,489.6L462.0,490.8L460.7,491.7ZM466.7,488.5L468.0,490.4L466.5,490.8ZM473.8,488.3L474.4,490.6L472.7,490.4ZM480.5,489.2L480.3,491.4L478.9,490.6ZM486.3,490.4L485.7,492.2L484.5,491.2ZM491.3,491.4L490.6,492.9L489.7,491.8ZM496.0,492.2L495.0,493.6L494.3,492.4ZM500.4,492.8L499.4,494.0L498.8,492.9ZM504.8,493.3L503.6,494.4L503.2,493.3ZM449.4,497.3L451.1,497.3L450.5,498.6ZM453.9,496.4L455.9,496.7L455.1,498.0ZM459.0,495.0L461.1,495.9L460.0,497.1ZM465.8,493.3L467.5,495.2L465.9,495.9ZM474.3,493.0L474.7,495.5L473.0,495.1ZM481.9,494.3L481.1,496.7L479.8,495.6ZM487.4,496.0L486.2,497.8L485.3,496.5ZM492.1,497.0L491.0,498.4L490.3,497.1ZM496.5,497.7L495.3,498.9L494.9,497.6ZM500.8,498.1L499.6,499.2L499.2,498.0ZM505.1,498.5L503.8,499.4L503.5,498.3ZM451.1,503.6L452.7,503.3L452.5,504.5ZM453.2,502.8L455.2,502.5L454.9,504.0ZM457.8,502.0L460.1,502.0L459.6,503.6ZM463.8,500.1L466.1,501.0L464.9,502.2ZM475.9,498.7L475.6,501.2L474.1,500.4ZM483.3,501.6L481.6,503.3L480.9,501.8ZM488.3,502.6L486.5,503.9L486.1,502.3ZM492.6,503.1L491.1,504.2L490.8,502.7ZM496.8,503.4L495.4,504.3L495.2,503.0ZM501.0,503.6L499.6,504.4L499.5,503.2ZM505.3,503.8L503.8,504.5L503.7,503.3ZM456.2,509.2L457.6,508.4L457.7,509.6ZM459.6,509.8L460.9,508.8L461.2,510.1ZM464.2,511.2L465.4,509.7L466.1,511.0ZM482.8,510.4L480.8,510.6L481.2,509.1ZM488.0,509.8L486.0,510.2L486.3,508.7ZM492.4,509.5L490.7,510.0L490.9,508.5ZM496.7,509.3L495.1,509.8L495.3,508.5ZM500.1,509.1L498.6,509.6L498.7,508.4ZM462.2,514.8L463.0,513.4L463.7,514.2ZM467.4,515.5L467.5,513.9L468.6,514.4ZM473.6,516.2L472.7,514.9L473.9,514.6ZM480.0,516.0L478.5,515.3L479.5,514.4ZM485.4,515.3L483.8,515.1L484.5,514.0ZM489.9,514.7L488.3,514.7L488.7,513.6Z" fill="#fff" stroke="#fff" stroke-width="0.3" stroke-linejoin="round"/>
<path d="M449.2,486.9 449.1,485.1 449.2,483.3 449.3,481.4 449.5,479.5 449.8,477.6 450.2,475.6 450.7,473.6 451.4,471.6 452.1,469.5 452.9,467.4 453.8,465.3 454.7,463.3 455.7,461.3 456.9,459.3 458.0,457.4 459.3,455.5 460.6,453.7 461.9,452.0 463.3,450.5 464.8,449.1 466.3,447.7 467.9,446.5 469.5,445.4 471.1,444.4 472.8,443.6 474.5,442.9 476.2,442.3 477.9,441.9 479.7,441.5 481.4,441.2 483.1,440.9 484.8,440.8 486.6,440.8 488.3,440.8 490.0,441.0 491.6,441.2 493.2,441.4 494.8,441.8 496.4,442.2 497.9,442.7 499.4,443.3 500.9,443.8 502.3,444.4 503.8,445.1 505.2,445.8 506.5,446.5 507.8,447.2 509.1,447.9 510.2,448.6 511.3,449.2 512.3,449.9 513.3,450.5 514.2,451.2 515.2,452.0 516.2,452.9 517.2,453.9 518.2,454.9 519.2,456.0 520.1,457.1 521.0,458.2 521.7,459.3 522.5,460.5 523.1,461.6 523.7,462.9 524.2,464.1 524.7,465.4 525.0,466.7 525.3,468.0 525.4,469.3 525.5,470.7 525.6,472.1 525.5,473.6 525.3,475.0 525.0,476.6 524.6,478.1 524.1,479.7 523.6,481.2 523.0,482.8 522.4,484.3 521.7,485.9 521.0,487.5 520.2,489.0 519.3,490.5 518.3,492.0 517.2,493.5 515.9,494.9 514.5,496.3 513.1,497.7 511.6,499.0 510.1,500.2 508.5,501.4 506.9,502.5 505.2,503.5 503.4,504.5 501.6,505.5 499.8,506.4 498.0,507.3 496.2,508.1 494.3,508.9 492.4,509.7 490.5,510.3 488.6,510.9 486.7,511.4 484.8,511.8 482.9,512.2 481.0,512.4 479.2,512.6 477.3,512.5 475.4,512.3 473.5,512.0 471.5,511.5 469.6,510.9 467.8,510.2 466.0,509.4 464.3,508.6 462.6,507.7 461.0,506.6 459.5,505.5 458.1,504.4 456.8,503.3 455.6,502.2 454.5,501.1 453.6,499.9 452.7,498.7 451.9,497.4 451.2,496.1 450.7,494.7 450.2,493.3 449.8,491.8 449.5,490.2 449.3,488.6Z" fill="none" stroke="#00ee00" stroke-width="1.7" stroke-linejoin="round"/>
</g>
<rect x="411.6" y="392.4" width="163.2" height="162.8" fill="none" stroke="#000" stroke-width="1.45"/>
<text x="395.8" y="401.6" font-size="20" font-weight="bold" fill="#000" textLength="12.2" lengthAdjust="spacingAndGlyphs">y</text>
<text x="575.5" y="569.4" font-size="22" stroke="#000" stroke-width="0.55" text-anchor="end" fill="#000" textLength="12.2" lengthAdjust="spacingAndGlyphs">x</text>
<g fill="#fff">
<g stroke="#fff" stroke-width="0.45" stroke-linejoin="round">
<text x="416.1" y="411.7" font-size="15" textLength="6.6" lengthAdjust="spacingAndGlyphs">t</text>
<text x="423.9" y="411.7" font-size="15" textLength="13.6" lengthAdjust="spacingAndGlyphs">=</text>
<text x="439.1" y="411.7" font-size="15" textLength="43.4" lengthAdjust="spacingAndGlyphs">7.682</text>
</g>
<text x="482.5" y="411.7" font-size="16.5" font-style="italic" textLength="11.3" lengthAdjust="spacingAndGlyphs">ω</text>
<text x="494.4" y="417.1" font-size="12" stroke="#fff" stroke-width="0.3" textLength="6.8" lengthAdjust="spacingAndGlyphs">a</text>
<text x="495.9" y="405.7" font-size="11" textLength="9" lengthAdjust="spacingAndGlyphs">−</text>
<text x="506.8" y="406.4" font-size="10.5" font-weight="bold" textLength="6.2" lengthAdjust="spacingAndGlyphs">1</text>
<text x="572.3" y="413.0" font-size="24" text-anchor="end">)</text>
<text transform="translate(564.3,411.8) scale(1.13,1)" font-size="22" font-weight="bold" text-anchor="end">i</text>
</g>
<g clip-path="url(#cj)">
<rect x="15.7" y="589.8" width="163.2" height="162.6" fill="#000098"/>
<g filter="url(#bl)" transform="scale(0.1)"><path fill="#0000a2" d="M833,6368l43,-4 50,1 40,6 40,11 50,18 45,22 60,36 41,30 31,30 23,29 19,31 14,35 9,35 2,35-3,35-9,40-19,50-21,45-22,33-26,32-39,37-35,29-95,66-45,26-35,16-45,14-45,9-45,5-45,0-55,-5-60,-9-45,-11-40,-15-25,-14-19,-18-6,-10-3,-10 0,-10 3,-10 18,-35 4,-15-3,-20-21,-65-6,-50 0,-30 3,-35 5,-30 9,-35 23,-65 32,-65 35,-55 37,-45 38,-35 41,-28 45,-19 52,-13z"/>
<path fill="#0000b3" d="M889,6398l37,0 45,5 45,12 45,17 39,21 36,25 35,30 40,40 20,28 15,28 11,29 5,30 1,30-4,30-8,28-15,41-19,41-15,25-20,25-26,27-37,33-63,47-57,53-23,16-30,16-40,15-40,10-40,6-40,1-45,-1-50,-6-45,-9-45,-16-20,-10-16,-12-12,-15-4,-15 3,-20 21,-45 4,-20-3,-15-16,-45-6,-30-3,-35 2,-40 10,-58 10,-32 15,-39 25,-52 32,-54 38,-48 35,-32 37,-25 33,-15 45,-13 30,-5 28,-2z"/>
<path fill="#0000bf" d="M866,6423l40,-4 35,1 40,7 35,9 35,14 35,19 34,24 27,25 21,25 19,30 14,30 10,35 5,35 0,35-5,35-10,32-15,34-21,34-29,33-31,27-34,22-40,19-40,12-45,7 0,5 20,12 14,13 4,10 1,10-6,15-8,10-17,15-18,11-25,11-35,11-40,8-40,4-45,-1-40,-3-45,-8-35,-11-25,-11-17,-11-10,-10-8,-15-1,-10 3,-15 11,-20 12,-15 10,-8 15,-9 35,-10 55,-7 69,-1-9,-3 0,-2-35,-21-39,-34-31,-37-23,-43-15,-45-6,-45 0,-25 3,-25 11,-45 16,-35 19,-32 25,-30 30,-28 30,-21 35,-18 35,-12 40,-9z"/>
<path fill="#0000ce" d="M890,6448l51,0 50,8 47,17 43,25 36,30 17,20 14,20 12,20 10,25 12,45 2,25-1,25-8,45-9,24-9,21-26,38-15,17-20,18-40,27-45,20-50,13-25,2-30,1-50,-7-25,-7-25,-9-25,-13-20,-12-20,-15-19,-18-18,-20-14,-20-11,-20-11,-25-12,-45-2,-25 1,-25 8,-45 9,-25 9,-21 15,-24 15,-19 20,-21 18,-15 42,-27 47,-18 23,-6 29,-4zM742,6948l39,0 40,4 45,8 35,11 25,12 19,15 8,15-1,15-6,10-10,10-30,18-40,14-40,8-45,3-50,-2-50,-7-40,-12-20,-9-13,-8-12,-10-7,-10-3,-10 1,-10 3,-10 9,-15 10,-10 12,-8 25,-10 45,-8 51,-4z"/>
<path fill="#0000e0" d="M870,6468l46,-5 45,4 45,11 45,21 35,25 33,34 14,20 11,20 15,40 6,40 0,25-2,20-12,42-20,40-25,33-35,30-40,24-45,16-45,8-50,-1-25,-4-25,-6-45,-18-40,-27-19,-17-16,-18-25,-38-10,-22-7,-22-4,-20-2,-25 0,-25 3,-20 6,-25 7,-20 22,-40 30,-35 18,-15 21,-15 41,-21 49,-14zM696,6963l40,-4 45,1 40,4 35,7 33,12 24,15 12,15 0,15-9,15-22,15-33,13-35,8-40,4-40,0-35,-4-40,-8-30,-11-20,-12-14,-15-3,-10 0,-10 7,-15 10,-10 10,-7 25,-10 40,-8z"/>
<path fill="#0000f5" d="M901,6478l45,1 40,8 43,16 37,23 30,28 26,34 18,40 9,40 0,40-8,40-17,40-25,35-32,30-36,23-40,16-45,9-45,1-45,-7-40,-14-40,-24-33,-29-26,-35-19,-40-9,-40-1,-20 1,-25 9,-40 18,-40 25,-34 35,-31 35,-21 45,-17 45,-7zM701,6973l35,-4 35,0 35,4 35,7 30,11 19,12 8,10 2,5 0,10-10,15-14,10-25,10-35,9-35,3-35,0-35,-4-30,-6-25,-9-21,-13-11,-15-1,-15 10,-15 15,-10 23,-9 30,-6z"/>
<path fill="#0012ff" d="M891,6493l40,-1 40,5 40,13 35,20 34,28 24,30 18,35 10,35 3,40-5,35-12,35-22,35-27,30-33,24-40,18-40,11-45,3-40,-5-40,-12-40,-22-32,-27-25,-30-18,-35-11,-40-2,-40 8,-40 14,-35 21,-33 30,-29 35,-23 40,-17 40,-8zM732,6978l54,1 25,3 25,7 23,9 13,10 6,10 1,10-6,10-5,5-17,9-25,9-25,5-30,2-35,-1-30,-4-25,-6-25,-12-12,-12-3,-5-2,-10 5,-10 11,-10 21,-10 25,-6 31,-4z"/>
<path fill="#0038ff" d="M904,6508l17,-1 20,2 20,2 20,5 35,15 25,15 30,27 23,30 14,30 6,20 3,25 0,25-3,25-5,15-10,25-20,30-33,32-30,19-25,11-40,11-45,1-20,-1-25,-6-30,-11-35,-20-28,-26-23,-30-16,-35-5,-15-3,-25 0,-25 3,-25 6,-20 14,-30 10,-15 17,-20 25,-22 35,-20 25,-10 20,-5 28,-3zM738,6988l43,1 40,8 15,7 12,9 3,5 1,10-8,10-17,10-16,5-25,5-25,1-25,-1-25,-4-20,-6-11,-5-13,-10-4,-10 2,-10 12,-10 14,-6 20,-6 27,-3z"/>
<path fill="#0066ff" d="M879,6518l37,-4 35,3 35,8 30,14 30,20 25,24 20,30 12,30 6,30 0,35-8,35-13,30-22,29-25,23-30,19-35,14-35,7-40,0-40,-7-35,-14-32,-21-26,-25-20,-30-14,-35-6,-35 2,-35 10,-35 16,-30 20,-25 30,-25 35,-19 38,-11zM721,7003l35,-4 34,4 15,5 9,5 5,5 2,5-1,5-11,10-28,8-30,2-30,-4-16,-6-7,-5-5,-5-1,-5 1,-5 4,-5 9,-5 15,-5z"/>
<path fill="#0099ff" d="M905,6523l36,1 35,7 30,12 30,19 25,24 20,27 13,30 6,30 0,35-7,30-13,30-19,26-25,24-30,19-30,12-35,7-35,1-35,-5-35,-13-30,-17-25,-22-20,-27-15,-30-8,-35 0,-35 6,-30 13,-30 22,-30 27,-25 30,-17 35,-13 34,-5z"/>
<path fill="#00ccff" d="M891,6533l30,-2 35,4 30,8 30,16 26,19 22,25 14,25 10,30 4,30-3,30-9,30-14,25-20,25-25,20-30,17-30,9-35,5-35,-2-35,-9-30,-13-29,-22-21,-23-16,-27-10,-30-4,-30 4,-35 10,-30 16,-28 25,-27 25,-18 30,-13 35,-9z"/>
<path fill="#00ffff" d="M882,6543l29,-4 30,2 30,6 30,13 25,16 23,22 17,25 10,25 6,25 0,30-6,30-11,25-17,25-22,21-25,16-30,13-30,6-35,1-35,-6-29,-11-26,-15-25,-23-18,-27-11,-25-6,-30 0,-30 7,-30 15,-30 20,-25 23,-19 30,-16 31,-10z"/>
<path fill="#33ffcc" d="M903,6548l23,-1 30,4 30,10 25,14 22,18 20,25 14,30 6,25 1,30-5,25-11,25-13,20-19,20-25,18-30,14-25,6-30,2-30,-3-30,-9-30,-16-20,-17-21,-25-12,-25-8,-30-1,-30 5,-25 10,-25 21,-30 26,-23 25,-14 30,-10 22,-3z"/>
<path fill="#66ff99" d="M880,6558l26,-4 30,0 30,6 25,11 25,16 18,16 14,20 12,25 6,25 1,25-4,25-9,25-13,20-20,21-25,18-25,11-30,7-30,2-30,-5-25,-8-28,-16-22,-19-16,-21-12,-25-6,-25-1,-30 7,-30 12,-25 16,-22 21,-18 24,-15 29,-10z"/>
<path fill="#99ff66" d="M886,6563l25,-3 30,1 25,6 25,11 23,15 17,17 15,23 9,20 5,25 0,25-5,25-9,20-15,22-18,18-22,14-25,11-25,6-30,1-30,-4-25,-9-24,-14-21,-18-16,-22-12,-25-5,-25 0,-30 7,-25 11,-24 17,-21 23,-19 25,-13 25,-8z"/>
<path fill="#ccff33" d="M892,6568l24,-3 25,2 25,6 25,12 20,14 18,19 13,20 8,20 4,25-1,25-7,24-10,20-15,19-18,17-22,12-25,10-25,4-30,0-25,-6-25,-10-22,-15-20,-20-13,-20-9,-25-3,-25 2,-25 8,-25 11,-20 16,-19 20,-16 25,-13 26,-7z"/>
<path fill="#ffff00" d="M899,6573l22,-1 25,2 25,8 22,11 18,15 15,17 11,18 9,25 2,25-3,20-6,20-13,22-15,18-20,15-20,10-25,8-25,2-25,-1-25,-7-24,-12-20,-15-16,-18-12,-22-6,-20-3,-20 2,-25 9,-25 12,-20 18,-20 20,-14 25,-11 23,-5z"/>
<path fill="#ffcc00" d="M910,6578l21,0 25,5 20,8 20,12 17,15 13,19 10,21 4,20 0,25-4,20-10,20-14,20-17,15-19,11-20,8-25,5-25,0-25,-5-22,-9-18,-11-15,-14-15,-20-9,-20-5,-25 1,-25 6,-20 10,-20 12,-16 20,-17 20,-11 20,-7 24,-4z"/>
<path fill="#ff9900" d="M889,6588l22,-4 20,1 25,5 20,8 16,10 16,15 11,15 10,20 4,20 1,20-4,20-6,15-13,20-14,15-16,11-20,9-20,6-25,2-25,-3-20,-7-20,-10-20,-17-12,-16-9,-20-5,-20 0,-25 4,-20 10,-20 12,-17 15,-13 20,-12 23,-8z"/>
<path fill="#ff6600" d="M896,6593l20,-2 20,1 20,5 20,9 17,12 13,14 11,16 6,15 4,20-1,20-5,20-8,15-12,16-15,13-15,10-20,8-20,4-25,0-20,-4-20,-8-15,-10-15,-14-11,-15-10,-20-4,-20 1,-20 5,-20 9,-19 13,-16 17,-14 20,-10 20,-6z"/>
<path fill="#ff3300" d="M906,6598l30,1 18,4 21,10 13,10 13,14 10,16 6,15 2,20-1,20-5,15-7,13-10,13-15,14-17,10-18,6-20,3-20,0-19,-4-21,-9-16,-11-14,-15-10,-16-5,-14-2,-25 2,-20 5,-15 9,-15 15,-15 13,-10 21,-10 22,-5z"/>
<path fill="#ff0800" d="M910,6608l16,0 15,2 15,5 15,8 13,10 12,15 8,15 4,15 1,15-3,15-5,15-10,15-10,11-15,11-15,7-20,5-20,0-15,-2-19,-7-16,-10-11,-10-11,-15-6,-15-3,-15 0,-15 3,-15 6,-15 10,-15 12,-11 15,-10 15,-5 19,-4z"/>
<path fill="#e80000" d="M890,6623l26,-5 15,1 15,4 13,5 12,9 10,10 8,11 5,10 3,15 0,15-4,15-7,13-9,12-21,15-15,6-15,3-20,-1-15,-4-15,-7-10,-7-10,-10-9,-15-4,-10-2,-15 1,-15 4,-15 9,-15 10,-10 11,-8 14,-7z"/>
<path fill="#cf0000" d="M898,6633l23,-3 25,5 20,14 14,19 3,10 1,15-5,20-13,18-20,14-25,5-25,-4-10,-4-13,-9-9,-10-5,-10-4,-10-1,-15 2,-15 5,-10 6,-10 9,-9 22,-11z"/>
<path fill="#b80000" d="M907,6643l19,-1 20,7 15,13 9,16 1,20-6,15-14,15-15,8-20,2-21,-5-9,-5-10,-10-8,-15-1,-20 5,-15 14,-16 21,-9z"/>
<path fill="#a30000" d="M912,6653l14,0 15,6 11,9 7,15 0,15-8,15-10,8-15,6-15,0-15,-6-10,-8-7,-15 0,-15 7,-15 10,-9 16,-6z"/>
<path fill="#910000" d="M906,6673l5,-3 10,-1 10,4 5,4 6,11-2,10-4,5-6,5-9,3-10,-1-10,-7-3,-5-2,-10 4,-10 6,-5z"/>
<path fill="#850000" d="M915,6683l6,-1 7,6-1,5-5,5-6,0-5,-5-1,-5 5,-5z"/></g>
<rect x="15.7" y="589.8" width="163.2" height="162.6" fill="url(#dj)" opacity="0.035"/>
<rect x="15.7" y="589.8" width="163.2" height="162.6" fill="url(#dj)" opacity="0.55" mask="url(#gj)"/>
<path d="M87.3,645.2L87.3,645.0M92.5,645.2L92.5,644.8M97.5,645.2L97.6,645.1M77.1,650.3L76.9,649.9M82.2,650.3L81.2,648.2M87.3,650.3L86.6,647.2M92.5,650.3L92.6,646.9M97.5,650.3L98.5,647.3M102.6,650.3L103.6,648.6M107.8,650.3L107.8,650.2M72.0,655.4L71.8,655.2M77.1,655.4L75.1,653.4M82.2,655.4L80.1,652.3M87.3,655.4L86.3,652.1M92.5,655.4L92.6,652.2M97.5,655.4L98.9,652.1M102.6,655.4L104.9,652.5M107.8,655.4L109.6,653.8M112.8,655.4L112.7,655.5M72.0,660.5L70.3,659.6M77.1,660.5L74.0,658.5M82.2,660.5L80.2,658.6M87.3,660.5L87.0,659.9M92.5,660.5L92.5,660.4M97.5,660.5L98.1,659.6M102.6,660.5L105.1,658.5M107.8,660.5L110.9,658.7M112.8,660.5L113.9,660.0M72.0,665.6L69.3,664.9M77.1,665.6L73.7,664.6M82.2,665.6L81.2,665.2M102.6,665.6L104.4,665.0M107.8,665.6L111.4,664.7M112.8,665.6L115.0,665.2M67.0,670.7L67.1,670.7M72.0,670.7L69.1,670.6M77.1,670.7L73.6,670.9M82.2,670.7L81.5,670.8M102.6,670.7L104.2,670.9M107.8,670.7L111.5,671.0M112.8,670.7L115.2,670.8M72.0,675.8L69.7,676.1M77.1,675.8L73.6,677.0M82.2,675.8L80.4,677.0M87.3,675.8L87.4,675.7M97.5,675.8L97.7,676.0M102.6,675.8L105.1,677.2M107.8,675.8L111.3,677.1M112.8,675.8L114.4,676.2M72.0,680.9L71.2,681.1M77.1,680.9L74.2,682.4M82.2,680.9L79.8,683.6M87.3,680.9L86.4,683.5M92.5,680.9L92.7,683.2M97.5,680.9L99.0,683.5M102.6,680.9L105.4,683.5M107.8,680.9L110.3,682.5M112.8,680.9L113.1,681.0M67.0,686.0L67.1,686.0M72.0,686.0L71.9,686.0M77.1,686.0L76.0,686.4M82.2,686.0L80.5,688.5M87.3,686.0L86.7,689.6M92.5,686.0L93.1,689.7M97.5,686.0L99.1,689.2M102.6,686.0L104.5,688.2M107.8,686.0L108.3,686.5M61.9,691.1L61.8,691.1M67.0,691.1L66.3,690.8M72.0,691.1L71.2,690.4M77.1,691.1L76.5,690.1M82.2,691.1L82.7,691.9M87.3,691.1L87.7,692.3M92.5,691.1L93.1,692.5M97.5,691.1L98.1,692.0M102.6,691.1L102.7,691.1M61.9,696.2L61.2,696.1M67.0,696.2L65.6,695.5M72.0,696.2L70.9,694.5M77.1,696.2L77.5,694.0M82.2,696.2L83.6,695.1M87.3,696.2L88.3,696.5M92.5,696.2L92.5,696.2M61.9,701.3L60.8,701.3M67.0,701.3L65.0,700.9M72.0,701.3L69.8,699.7M77.1,701.3L78.6,699.0M82.2,701.3L84.5,700.7M87.3,701.3L88.7,701.6M92.5,701.3L92.8,701.5M67.0,706.4L66.0,706.7M72.0,706.4L69.9,708.0M77.1,706.4L78.6,708.7M82.2,706.4L84.4,707.4M87.3,706.4L88.6,707.0M92.5,706.4L92.8,706.6M72.0,711.5L72.0,711.6M77.1,711.5L77.3,712.2M82.2,711.5L82.6,712.0M87.3,711.5L87.4,711.5" stroke="#fff" stroke-width="0.75" stroke-linecap="round" fill="none"/><path d="M87.1,643.8L87.9,645.2L86.8,645.4ZM92.5,643.6L93.1,645.1L91.9,645.0ZM97.9,643.9L98.1,645.5L96.9,645.3ZM76.2,649.0L77.6,649.8L76.6,650.5ZM80.7,647.1L82.0,648.1L80.7,648.8ZM86.3,645.6L87.5,647.3L85.9,647.6ZM92.7,645.1L93.4,647.2L91.8,647.2ZM98.9,645.8L99.1,647.9L97.6,647.4ZM104.2,647.6L104.1,649.2L102.9,648.5ZM108.6,649.3L108.0,650.8L107.2,650.1ZM70.9,654.5L72.4,654.9L71.7,655.9ZM74.1,652.4L75.9,653.0L74.8,654.1ZM79.0,650.6L81.0,652.0L79.6,653.0ZM85.8,650.4L87.2,652.2L85.6,652.7ZM92.7,650.6L93.4,652.6L91.8,652.5ZM99.6,650.4L99.6,652.7L98.0,652.1ZM106.2,650.9L105.4,653.2L104.1,652.2ZM110.5,653.0L109.9,654.5L108.9,653.4ZM113.7,654.8L112.8,656.1L112.2,655.2ZM69.3,659.1L70.9,659.1L70.3,660.4ZM72.3,657.4L74.7,657.9L73.8,659.3ZM79.1,657.6L80.9,658.2L79.9,659.3ZM86.5,658.8L87.7,659.9L86.6,660.4ZM92.5,659.2L93.0,660.8L91.9,660.7ZM98.8,658.6L98.5,660.2L97.4,659.5ZM106.4,657.5L105.4,659.3L104.4,658.1ZM112.6,657.8L111.0,659.6L110.2,658.2ZM115.0,659.5L113.9,660.7L113.4,659.6ZM68.0,664.5L69.8,664.2L69.4,665.7ZM71.8,664.1L74.2,663.9L73.7,665.5ZM80.1,664.8L81.7,664.7L81.3,665.9ZM105.5,664.6L104.3,665.8L103.9,664.5ZM113.4,664.3L111.3,665.6L110.9,664.0ZM116.2,664.9L114.9,665.9L114.6,664.5ZM65.9,670.6L67.5,670.2L67.3,671.3ZM67.7,670.5L69.4,669.8L69.4,671.4ZM71.7,670.9L73.9,670.0L73.9,671.7ZM80.3,671.0L81.7,670.2L81.8,671.4ZM105.4,671.1L103.8,671.5L104.0,670.2ZM113.5,671.1L111.1,671.8L111.3,670.1ZM116.4,670.8L114.9,671.5L115.0,670.1ZM68.5,676.3L69.9,675.4L70.1,676.8ZM71.7,677.6L73.6,676.1L74.1,677.7ZM79.4,677.7L80.2,676.3L81.0,677.4ZM86.7,676.7L87.1,675.2L88.0,675.8ZM98.5,676.9L97.1,676.1L98.0,675.4ZM106.2,677.9L104.4,677.7L105.2,676.4ZM113.1,677.8L110.7,677.8L111.3,676.2ZM115.6,676.5L114.0,676.8L114.3,675.5ZM70.0,681.3L71.4,680.4L71.6,681.6ZM72.7,683.2L74.1,681.6L74.8,683.0ZM78.4,685.0L79.4,682.8L80.6,683.9ZM85.9,684.8L85.8,683.0L87.2,683.5ZM92.8,684.4L91.9,683.0L93.3,682.9ZM99.7,684.8L98.2,683.6L99.5,682.9ZM106.8,684.9L104.6,683.9L105.7,682.7ZM111.5,683.3L109.6,683.0L110.4,681.7ZM114.2,681.5L112.6,681.4L113.1,680.4ZM65.9,685.9L67.5,685.5L67.4,686.6ZM70.7,685.9L72.2,685.4L72.2,686.6ZM74.8,686.8L76.0,685.7L76.5,686.9ZM79.6,689.8L80.0,687.9L81.3,688.7ZM86.4,691.6L86.0,689.2L87.6,689.5ZM93.4,691.7L92.2,689.6L93.9,689.3ZM100.0,691.0L98.3,689.3L99.8,688.6ZM105.4,689.3L103.7,688.4L104.9,687.5ZM109.3,687.3L107.7,686.8L108.5,685.8ZM60.6,690.9L62.2,690.6L62.0,691.7ZM65.2,690.4L66.8,690.4L66.3,691.5ZM70.2,689.6L71.8,690.1L71.0,691.1ZM75.9,689.1L77.2,690.0L76.1,690.7ZM83.2,692.9L82.0,691.9L83.1,691.3ZM88.1,693.4L87.0,692.2L88.3,691.8ZM93.5,693.6L92.3,692.5L93.6,692.0ZM98.7,693.0L97.4,692.1L98.5,691.4ZM103.4,692.1L102.0,691.3L102.9,690.5ZM60.0,695.9L61.6,695.5L61.4,696.7ZM64.5,695.0L66.2,695.1L65.6,696.3ZM70.2,693.5L71.6,694.3L70.5,695.1ZM77.6,692.8L78.1,694.4L76.7,694.2ZM84.6,694.4L83.8,695.9L83.0,694.8ZM89.4,696.8L87.8,697.0L88.2,695.8ZM93.3,697.1L91.9,696.4L92.7,695.6ZM59.6,701.3L61.1,700.7L61.1,701.9ZM63.8,700.7L65.4,700.3L65.1,701.7ZM68.8,699.0L70.5,699.3L69.7,700.5ZM79.2,697.9L79.0,699.6L77.8,698.9ZM85.7,700.4L84.4,701.5L84.0,700.1ZM89.9,701.8L88.3,702.1L88.5,700.9ZM93.8,702.2L92.2,701.8L92.8,700.8ZM64.9,707.2L66.0,706.0L66.5,707.2ZM68.8,708.7L69.7,707.2L70.5,708.4ZM79.4,709.7L77.9,708.8L79.1,708.0ZM85.5,707.9L83.8,707.9L84.4,706.6ZM89.6,707.6L88.0,707.5L88.6,706.3ZM93.7,707.3L92.2,706.9L92.9,706.0ZM71.5,712.7L71.6,711.1L72.7,711.6ZM77.5,713.4L76.6,712.0L77.8,711.8ZM83.3,713.0L81.9,712.1L82.9,711.4ZM88.2,712.4L86.7,711.7L87.6,710.9Z" fill="#fff" stroke="#fff" stroke-width="0.3" stroke-linejoin="round"/>
<path d="M51.9,683.0 51.9,681.3 51.9,679.5 52.0,677.6 52.2,675.7 52.5,673.7 53.0,671.8 53.5,669.8 54.2,667.7 54.9,665.6 55.8,663.5 56.7,661.5 57.7,659.5 58.7,657.5 59.8,655.5 61.0,653.5 62.2,651.6 63.5,649.9 64.9,648.2 66.3,646.6 67.7,645.2 69.3,643.8 70.9,642.5 72.5,641.4 74.1,640.4 75.7,639.6 77.4,638.9 79.1,638.4 80.9,637.9 82.6,637.6 84.3,637.3 86.1,637.1 87.8,637.0 89.5,637.0 91.2,637.0 92.9,637.1 94.6,637.3 96.2,637.6 97.8,638.0 99.3,638.4 100.9,638.9 102.4,639.4 103.8,640.0 105.3,640.6 106.7,641.2 108.0,641.9 109.4,642.6 110.7,643.3 112.0,644.1 113.3,644.8 114.5,645.6 115.8,646.4 117.0,647.1 118.1,648.0 119.2,648.8 120.2,649.7 121.2,650.5 122.2,651.4 123.1,652.3 123.9,653.3 124.7,654.3 125.5,655.4 126.2,656.6 126.9,657.8 127.5,659.0 128.0,660.2 128.4,661.5 128.8,662.8 129.1,664.1 129.3,665.5 129.5,666.9 129.5,668.3 129.4,669.7 129.3,671.2 129.0,672.7 128.6,674.3 128.1,675.8 127.6,677.4 127.0,678.9 126.4,680.5 125.7,682.1 125.0,683.6 124.2,685.2 123.3,686.7 122.3,688.2 121.1,689.6 119.9,691.0 118.5,692.4 117.1,693.8 115.6,695.1 114.1,696.4 112.5,697.6 110.8,698.7 109.1,699.9 107.4,700.9 105.6,702.0 103.8,702.9 102.0,703.9 100.1,704.7 98.2,705.6 96.3,706.3 94.4,707.0 92.5,707.6 90.7,708.2 88.8,708.7 86.9,709.2 85.0,709.5 83.1,709.7 81.3,709.7 79.4,709.5 77.4,709.2 75.5,708.7 73.6,708.1 71.7,707.4 70.0,706.6 68.3,705.8 66.7,704.9 65.1,703.9 63.6,702.8 62.1,701.7 60.8,700.5 59.5,699.2 58.2,697.9 57.0,696.6 56.0,695.2 55.0,693.7 54.2,692.3 53.5,690.8 53.0,689.3 52.6,687.8 52.3,686.3 52.1,684.7Z" fill="none" stroke="#00ee00" stroke-width="1.7" stroke-linejoin="round"/>
</g>
<rect x="15.7" y="589.8" width="163.2" height="162.6" fill="none" stroke="#000" stroke-width="1.45"/>
<text x="-0.2" y="599.0" font-size="20" font-weight="bold" fill="#000" textLength="12.2" lengthAdjust="spacingAndGlyphs">y</text>
<text x="179.5" y="768.7" font-size="22" stroke="#000" stroke-width="0.55" text-anchor="end" fill="#000" textLength="12.2" lengthAdjust="spacingAndGlyphs">x</text>
<g fill="#fff">
<g stroke="#fff" stroke-width="0.45" stroke-linejoin="round">
<text x="20.1" y="609.1" font-size="15" textLength="6.6" lengthAdjust="spacingAndGlyphs">t</text>
<text x="27.9" y="609.1" font-size="15" textLength="13.6" lengthAdjust="spacingAndGlyphs">=</text>
<text x="43.0" y="609.1" font-size="15" textLength="43.4" lengthAdjust="spacingAndGlyphs">7.686</text>
</g>
<text x="86.5" y="609.1" font-size="16.5" font-style="italic" textLength="11.3" lengthAdjust="spacingAndGlyphs">ω</text>
<text x="98.5" y="614.5" font-size="12" stroke="#fff" stroke-width="0.3" textLength="6.8" lengthAdjust="spacingAndGlyphs">a</text>
<text x="100.0" y="603.1" font-size="11" textLength="9" lengthAdjust="spacingAndGlyphs">−</text>
<text x="110.8" y="603.8" font-size="10.5" font-weight="bold" textLength="6.2" lengthAdjust="spacingAndGlyphs">1</text>
<text x="176.3" y="610.4" font-size="24" text-anchor="end">)</text>
<text transform="translate(168.3,609.2) scale(1.13,1)" font-size="22" font-weight="bold" text-anchor="end">j</text>
</g>
<g clip-path="url(#ck)">
<rect x="213.4" y="589.8" width="163.2" height="162.6" fill="#000098"/>
<g filter="url(#bl)" transform="scale(0.1)"><path fill="#0000a2" d="M2811,6378l39,-4 40,0 40,4 34,8 46,15 44,20 50,28 40,25 30,24 27,25 20,25 19,30 16,35 9,30 5,30 1,30-5,35-9,35-16,45-20,40-18,30-19,25-24,27-31,28-39,32-46,32-40,24-40,21-70,28-49,18-35,7-40,2-26,-3-30,-7-30,-11-30,-16-24,-16-27,-21-33,-32-26,-28-14,-20-12,-20-11,-25-8,-25-8,-50-1,-70 3,-30 7,-35 12,-40 14,-35 21,-45 21,-40 22,-35 22,-30 21,-25 20,-20 21,-18 26,-17 24,-13 30,-13 26,-7 31,-7z"/>
<path fill="#0000b3" d="M2825,6413l35,-3 34,1 30,4 36,8 42,15 44,20 45,25 38,25 25,20 20,21 20,25 16,25 11,24 9,30 4,30 0,25-4,28-10,36-15,39-21,39-14,23-20,25-26,26-33,29-38,30-37,25-35,20-42,20-62,25-45,15-32,6-36,0-24,-4-25,-7-24,-10-27,-15-22,-15-23,-20-29,-29-20,-23-16,-23-8,-15-13,-40-5,-25-3,-30 0,-60 4,-30 5,-22 10,-31 16,-35 44,-86 20,-31 20,-27 37,-38 19,-15 22,-15 18,-10 30,-12 28,-8 27,-5z"/>
<path fill="#0000bf" d="M2685,6628l19,-3 20,0 16,2 24,6 36,-6 30,-3 35,0 29,2 36,5 34,9 30,10 36,18 28,20 24,25 12,20 17,45 5,25-1,20-5,25-11,25-15,20-20,19-54,37-26,11-114,35-46,6-20,-1-20,-3-24,-7-26,-9-40,-20-30,-20-20,-16-15,-17-14,-20-12,-25-13,-35-7,-35-3,-25 2,-25 5,-25 9,-20 12,-20 16,-18 20,-15 20,-11 21,-6z"/>
<path fill="#0000ce" d="M2690,6643l20,-3 20,1 20,4 20,7 30,-5 30,-3 34,0 30,2 30,5 30,8 30,11 20,11 25,17 20,20 21,17 14,18 8,15 8,25 1,25-4,25-9,20-10,15-18,19-20,15-40,25-20,8-61,16-49,16-36,5-40,-2-34,-9-46,-20-24,-15-26,-18-14,-14-13,-16-14,-25-11,-25-11,-35-4,-30 0,-25 3,-20 8,-20 8,-15 14,-16 20,-17 20,-11 20,-6z"/>
<path fill="#0000e0" d="M2698,6653l16,-1 20,1 20,6 20,8 30,-6 26,-2 30,-1 30,2 50,11 40,16 20,12 16,14 38,23 13,12 11,15 9,20 4,25-2,25-10,25-10,15-20,19-55,35-20,8-60,14-50,16-34,4-36,-2-34,-10-36,-16-24,-14-26,-18-14,-14-14,-17-14,-25-10,-25-10,-30-4,-25 0,-25 4,-20 8,-20 10,-15 14,-15 16,-11 20,-9 18,-5z"/>
<path fill="#0000f5" d="M2695,6663l19,-2 20,2 20,6 20,10 56,-8 30,-1 24,2 40,8 40,15 36,23 20,7 20,10 14,12 14,16 10,20 5,25-2,20-9,25-10,15-18,17-54,34-20,8-60,13-46,14-34,4-30,-1-36,-10-34,-15-30,-18-20,-15-13,-11-11,-15-15,-25-8,-20-10,-30-5,-25-1,-20 3,-20 6,-15 9,-15 9,-12 16,-13 14,-8 21,-7z"/>
<path fill="#0012ff" d="M2685,6673l19,-4 26,0 20,6 30,14 44,-8 50,0 36,5 34,12 20,10 14,10 32,10 20,9 14,10 12,11 13,20 6,20 1,25-6,20-12,20-18,17-50,31-20,9-66,14-34,10-36,6-34,-2-20,-4-26,-9-30,-15-20,-13-20,-14-14,-15-14,-20-11,-20-10,-25-7,-25-3,-15-1,-20 4,-20 6,-15 9,-15 11,-12 16,-11 15,-7z"/>
<path fill="#0038ff" d="M2696,6678l24,-2 20,3 20,9 20,13 24,-6 30,-4 30,0 30,3 36,11 35,18 29,8 26,9 14,8 12,10 9,10 9,15 4,15 1,15-2,15-5,15-12,18-19,17-47,28-20,7-60,12-40,12-35,4-19,0-20,-4-40,-15-46,-26-17,-13-13,-13-11,-17-15,-30-14,-45-2,-20 1,-15 5,-15 8,-15 8,-11 16,-13 14,-7 12,-4z"/>
<path fill="#0066ff" d="M2688,6688l22,-5 24,3 20,8 26,17 4,1 26,-7 24,-4 26,0 24,3 30,8 30,14 60,15 20,9 10,7 10,9 9,12 5,10 4,15 0,15-3,15-11,20-15,15-48,30-21,8-64,12-36,10-24,4-36,0-40,-12-40,-21-35,-26-22,-30-20,-45-6,-20-2,-15 1,-15 4,-15 7,-15 9,-11 14,-12 14,-7z"/>
<path fill="#0099ff" d="M2698,6693l22,-2 20,4 20,11 24,20 40,-12 20,-1 26,1 30,6 26,13 34,3 50,15 24,15 14,17 4,10 3,15-1,15-3,10-8,15-19,17-44,28-16,6-64,11-36,9-24,4-36,-1-34,-10-40,-20-36,-26-14,-18-9,-15-19,-45-5,-30 2,-15 5,-15 10,-15 10,-9 10,-6 14,-5z"/>
<path fill="#00ccff" d="M2710,6698l20,2 14,5 46,33 34,-11 35,-3 31,6 24,13 20,-3 16,0 34,9 20,6 15,8 11,7 13,18 6,20-2,15-3,10-10,15-14,13-40,25-20,8-66,9-35,10-24,3-31,-1-34,-11-46,-24-27,-22-11,-15-14,-25-15,-40-3,-15 1,-15 2,-10 8,-14 9,-11 10,-7 16,-6 10,-2z"/>
<path fill="#00ffff" d="M2695,6708l19,-4 21,4 15,8 30,24 20,13 20,-11 15,-4 15,-1 14,1 16,3 20,12 30,-7 14,-1 46,11 27,12 16,15 9,20 1,10-3,15-9,15-11,11-46,28-14,6-66,9-34,9-20,3-30,-1-26,-6-40,-18-34,-24-16,-17-19,-35-13,-35-2,-10 1,-15 6,-15 7,-10 10,-10 11,-5z"/>
<path fill="#33ffcc" d="M2699,6713l15,-3 20,4 16,9 30,25 24,17 16,6 4,-8 6,-5 20,-5 20,5 10,10 34,-13 20,-5 20,1 36,10 24,12 16,14 6,16-1,20-7,15-14,13-40,26-14,6-70,8-30,8-26,3-24,-1-26,-6-34,-16-36,-24-15,-17-19,-35-13,-35 0,-20 4,-10 9,-12 10,-9 9,-4z"/>
<path fill="#66ff99" d="M2703,6718l17,-2 14,5 16,10 24,22 26,16 20,11 15,4 35,-4 34,-17 26,-8 20,0 30,8 24,10 10,7 9,8 7,15 1,10-2,10-8,15-11,11-40,25-16,6-64,5-36,9-20,2-24,-1-20,-5-37,-17-33,-22-16,-17-15,-26-14,-35-2,-20 2,-10 6,-10 9,-8 13,-7z"/>
<path fill="#99ff66" d="M2709,6723l12,0 13,5 36,29 30,20 20,10 14,4 36,-5 34,-17 26,-9 20,0 24,6 26,10 16,12 8,15 1,10-2,10-5,10-14,13-34,23-16,6-40,4-30,1-30,7-20,3-24,-2-20,-5-36,-16-29,-20-13,-14-16,-25-15,-35-2,-10 0,-10 3,-10 7,-10 11,-7 9,-3z"/>
<path fill="#ccff33" d="M2700,6733l14,-4 16,4 37,30 27,19 20,10 16,5 14,0 26,-4 30,-17 25,-11 15,-2 14,2 36,12 14,9 12,12 3,10-1,10-7,15-11,10-30,21-16,7-40,3-30,-1-24,7-26,3-19,-1-15,-3-26,-9-24,-14-26,-18-10,-12-16,-28-13,-35 1,-10 4,-10 10,-10z"/>
<path fill="#ffff00" d="M2707,6738l7,-1 10,2 40,31 26,17 20,11 14,5 16,1 30,-4 24,-16 20,-10 16,-5 14,-1 36,10 18,10 6,5 7,10 1,15-5,10-9,10-28,21-16,7-34,3-36,-2-50,9-30,-3-20,-7-26,-13-28,-20-9,-10-17,-30-11,-30 0,-10 3,-5 4,-5 7,-5z"/>
<path fill="#ffcc00" d="M2712,6748l7,0 5,2 36,27 30,19 20,10 14,5 16,1 30,-5 40,-26 14,-7 16,-2 20,4 30,13 5,4 8,10 2,5 0,10-5,10-10,10-26,19-15,6-39,1-30,-4-42,8-14,0-20,-3-14,-5-26,-13-22,-14-11,-10-15,-25-12,-30 0,-14 8,-6z"/>
<path fill="#ff9900" d="M2727,6778l3,-2 10,2 64,37 16,6 14,1 36,-5 22,-19 18,-12 20,-9 14,-1 20,6 21,11 10,10 2,5 0,10-5,10-10,10-19,15-13,6-40,0-16,-3-14,-6-40,8-26,-1-30,-11-40,-24-4,-5-11,-19-3,-10 1,-10z"/>
<path fill="#ff6600" d="M2926,6783l14,-3 14,3 26,13 9,12 0,10-5,10-20,19-10,6-14,3-36,-4-19,-9-7,-10 1,-10 11,-15 18,-15 18,-10z"/>
<path fill="#ff3300" d="M2926,6788l14,-3 10,1 21,12 9,10 0,10-4,10-14,15-8,5-14,3-23,-3-15,-5-8,-5-3,-5-1,-10 5,-10 15,-15 16,-10z"/>
<path fill="#ff0800" d="M2927,6793l13,-3 10,1 11,7 9,10 2,5-1,10-7,10-10,9-10,4-10,0-20,-6-10,-7-3,-10 4,-10 8,-10 14,-10z"/>
<path fill="#e80000" d="M2926,6798l8,-4 10,0 10,4 10,10 2,5-1,10-5,10-6,5-10,4-10,0-14,-6-10,-8-1,-5 2,-10 15,-15z"/>
<path fill="#cf0000" d="M2932,6798l8,-2 8,2 6,4 5,6 3,5-1,10-6,10-5,4-6,2-10,0-12,-6-5,-5-2,-5 1,-10 8,-10 8,-5z"/>
<path fill="#b80000" d="M2930,6803l9,-3 5,0 6,3 5,5 2,5 0,10-3,6-4,5-6,2-10,-1-11,-7-3,-10 5,-10 5,-5z"/>
<path fill="#a30000" d="M2939,6803l11,3 4,7 1,5-4,10-7,4-4,1-11,-5-4,-5 0,-5 5,-11 9,-4z"/>
<path fill="#910000" d="M2935,6808l9,0 6,5 0,10-6,5-9,0-5,-5-1,-5 1,-5 5,-5z"/>
<path fill="#850000" d="M2935,6813l5,-2 5,2 2,5-3,5-4,2-5,-2-2,-5 2,-5z"/></g>
<rect x="213.4" y="589.8" width="163.2" height="162.6" fill="url(#dk)" opacity="0.035"/>
<rect x="213.4" y="589.8" width="163.2" height="162.6" fill="url(#dk)" opacity="0.55" mask="url(#gk)"/>
<path d="M264.8,655.4L264.8,655.5M269.9,655.4L269.6,654.9M274.9,655.4L274.7,654.6M280.1,655.4L279.9,654.7M285.1,655.4L285.1,655.1M290.2,655.4L290.3,655.3M295.4,655.4L295.4,655.3M300.4,655.4L300.4,655.6M259.6,660.5L259.7,660.5M264.8,660.5L263.7,659.3M269.9,660.5L268.5,658.4M274.9,660.5L273.9,657.9M280.1,660.5L279.6,657.9M285.1,660.5L285.1,658.2M290.2,660.5L290.6,658.5M295.4,660.5L296.1,658.5M300.4,660.5L301.4,658.9M305.6,660.5L306.2,659.7M310.6,660.5L310.6,660.5M259.6,665.6L258.1,664.6M264.8,665.6L262.5,663.6M269.9,665.6L267.6,662.7M274.9,665.6L273.3,662.0M280.1,665.6L279.3,661.8M285.1,665.6L285.2,662.0M290.2,665.6L291.0,662.2M295.4,665.6L296.7,662.4M300.4,665.6L302.4,662.9M305.6,665.6L307.5,663.7M310.6,665.6L311.9,664.7M315.8,665.6L315.7,665.6M254.6,670.7L254.3,670.6M259.6,670.7L257.1,669.6M264.8,670.7L261.4,668.7M269.9,670.7L266.4,667.4M274.9,670.7L272.6,665.8M280.1,670.7L279.1,665.7M285.1,670.7L285.2,665.8M290.2,670.7L291.3,666.2M295.4,670.7L297.4,666.4M300.4,670.7L303.4,667.4M305.6,670.7L308.6,668.6M310.6,670.7L313.1,669.5M315.8,670.7L316.7,670.3M254.6,675.8L253.4,675.6M259.6,675.8L256.5,675.2M264.8,675.8L260.5,674.7M269.9,675.8L264.6,673.4M274.9,675.8L272.3,670.6M280.1,675.8L279.9,670.0M285.1,675.8L284.9,670.0M290.2,675.8L292.1,670.3M295.4,675.8L297.5,670.4M300.4,675.8L305.2,672.5M305.6,675.8L309.6,674.3M310.6,675.8L313.8,675.0M315.8,675.8L317.5,675.5M254.6,680.9L253.1,681.0M259.6,680.9L256.4,681.1M264.8,680.9L260.3,681.4M269.9,680.9L264.2,682.2M274.9,680.9L271.6,685.6M280.1,680.9L276.5,685.5M285.1,680.9L281.8,684.7M290.2,680.9L295.9,682.1M295.4,680.9L300.0,679.7M300.4,680.9L306.2,680.9M305.6,680.9L310.2,680.9M310.6,680.9L314.1,680.9M315.8,680.9L317.7,680.9M254.6,686.0L253.6,686.2M259.6,686.0L256.8,686.9M264.8,686.0L261.1,687.6M269.9,686.0L265.7,689.0M274.9,686.0L271.8,690.9M280.1,686.0L277.6,691.1M285.1,686.0L284.6,691.8M290.2,686.0L291.3,691.7M295.4,686.0L297.2,691.5M300.4,686.0L305.1,689.4M305.6,686.0L309.6,687.6M310.6,686.0L313.8,686.9M315.8,686.0L317.1,686.3M254.6,691.1L254.5,691.1M259.6,691.1L257.7,692.1M264.8,691.1L262.1,693.0M269.9,691.1L267.1,693.9M274.9,691.1L272.7,694.8M280.1,691.1L278.6,695.2M285.1,691.1L284.7,695.7M290.2,691.1L290.9,695.6M295.4,691.1L297.2,695.5M300.4,691.1L303.3,694.5M305.6,691.1L308.5,693.3M310.6,691.1L312.9,692.3M259.6,696.2L259.0,696.7M264.8,696.2L263.2,697.6M269.9,696.2L268.1,698.4M274.9,696.2L273.6,698.9M280.1,696.2L279.2,699.3M285.1,696.2L284.9,699.6M290.2,696.2L290.7,699.5M295.4,696.2L296.6,699.5M300.4,696.2L302.3,699.0M305.6,696.2L307.1,697.7M264.8,701.3L264.5,701.5M269.9,701.3L269.3,702.2M274.9,701.3L274.4,702.6M280.1,701.3L279.7,703.0M285.1,701.3L285.0,703.3M290.2,701.3L290.5,703.2M295.4,701.3L296.0,703.4M300.4,701.3L300.8,701.9" stroke="#fff" stroke-width="0.75" stroke-linecap="round" fill="none"/><path d="M264.1,654.6L265.5,655.4L264.6,656.1ZM269.0,653.9L270.3,654.9L269.2,655.5ZM274.3,653.5L275.4,654.7L274.2,655.1ZM279.7,653.5L280.6,654.9L279.4,655.1ZM285.1,653.9L285.7,655.4L284.6,655.4ZM290.4,654.1L290.8,655.7L289.6,655.5ZM295.7,654.2L295.8,655.8L294.7,655.5ZM300.9,654.5L300.7,656.1L299.7,655.6ZM258.8,659.7L260.3,660.3L259.5,661.1ZM262.9,658.4L264.4,659.1L263.4,659.9ZM267.9,657.4L269.3,658.3L268.1,659.0ZM273.5,656.7L274.7,657.9L273.4,658.5ZM279.3,656.6L280.3,658.0L278.9,658.3ZM285.1,657.0L285.9,658.5L284.4,658.5ZM290.8,657.3L291.3,658.9L289.9,658.6ZM296.5,657.4L296.6,659.1L295.3,658.6ZM302.0,657.9L301.8,659.5L300.6,658.8ZM307.0,658.7L306.5,660.3L305.6,659.5ZM311.5,659.7L310.8,661.1L310.0,660.3ZM257.1,663.9L258.7,664.2L258.0,665.3ZM261.4,662.6L263.2,663.2L262.2,664.4ZM266.4,661.2L268.5,662.4L267.1,663.4ZM272.4,660.0L274.2,661.9L272.7,662.6ZM278.9,659.8L280.2,662.0L278.5,662.3ZM285.2,660.1L286.0,662.3L284.3,662.3ZM291.3,660.5L291.7,662.7L290.1,662.4ZM297.5,660.7L297.4,663.0L295.9,662.3ZM303.3,661.6L302.8,663.6L301.5,662.7ZM308.4,662.8L307.8,664.5L306.8,663.4ZM312.9,664.0L312.0,665.4L311.2,664.3ZM316.8,665.0L315.7,666.3L315.2,665.3ZM253.2,670.2L254.8,670.1L254.4,671.3ZM255.8,669.1L257.6,669.0L257.1,670.4ZM259.7,667.7L262.1,668.2L261.3,669.6ZM264.5,665.6L267.3,667.0L266.0,668.3ZM271.4,663.3L273.6,665.6L271.8,666.5ZM278.7,663.0L280.1,665.8L278.2,666.1ZM285.2,663.1L286.1,666.1L284.2,666.1ZM291.9,663.8L292.2,666.8L290.4,666.3ZM298.6,664.1L298.1,667.1L296.4,666.3ZM305.0,665.6L303.9,668.3L302.5,667.0ZM310.1,667.5L308.8,669.5L307.8,668.1ZM314.2,668.9L313.1,670.3L312.5,669.0ZM317.8,669.9L316.7,671.0L316.2,669.8ZM252.2,675.5L253.8,675.0L253.6,676.3ZM254.9,674.9L256.9,674.5L256.7,676.1ZM258.1,674.1L261.0,673.9L260.6,675.7ZM262.1,672.3L265.2,672.6L264.4,674.5ZM271.1,668.2L273.4,670.4L271.6,671.3ZM279.8,667.3L280.9,670.3L278.9,670.3ZM284.8,667.3L285.9,670.3L283.9,670.4ZM293.0,667.8L293.0,670.9L291.1,670.3ZM298.5,667.9L298.3,671.1L296.4,670.3ZM307.4,670.9L305.5,673.5L304.3,671.8ZM311.9,673.4L309.7,675.2L309.0,673.5ZM315.4,674.6L313.7,675.8L313.3,674.3ZM318.6,675.2L317.3,676.2L317.0,674.9ZM251.9,681.0L253.4,680.3L253.4,681.6ZM254.7,681.2L256.7,680.3L256.8,681.9ZM257.9,681.6L260.5,680.4L260.7,682.2ZM261.6,682.8L264.3,681.1L264.7,683.1ZM270.0,687.8L270.9,684.8L272.6,686.0ZM274.8,687.6L275.9,684.6L277.5,685.9ZM280.1,686.8L281.3,683.9L282.7,685.1ZM298.6,682.7L295.4,683.0L295.8,681.1ZM302.7,679.0L300.0,680.7L299.5,678.8ZM308.9,680.8L306.0,681.9L305.9,679.9ZM312.8,680.9L309.9,681.9L309.9,680.0ZM315.9,680.9L313.8,681.7L313.8,680.1ZM318.9,680.9L317.4,681.6L317.5,680.2ZM252.4,686.5L253.7,685.5L254.0,686.8ZM255.5,687.3L256.9,686.0L257.4,687.5ZM259.1,688.5L261.0,686.7L261.7,688.3ZM263.6,690.6L265.4,688.0L266.6,689.6ZM270.4,693.2L271.1,690.1L272.8,691.2ZM276.4,693.6L276.8,690.4L278.6,691.3ZM284.3,694.5L283.6,691.4L285.6,691.6ZM291.7,694.4L290.2,691.6L292.2,691.2ZM298.1,694.0L296.2,691.5L298.1,690.9ZM307.3,691.0L304.3,690.0L305.5,688.4ZM311.9,688.5L309.0,688.3L309.7,686.7ZM315.4,687.3L313.3,687.5L313.7,686.0ZM318.3,686.5L316.7,686.9L317.0,685.6ZM253.4,691.6L254.6,690.5L255.0,691.5ZM256.7,692.7L257.7,691.3L258.3,692.6ZM260.7,693.9L261.9,692.1L262.8,693.4ZM265.6,695.5L266.7,693.1L267.9,694.3ZM271.5,696.8L272.1,694.0L273.6,695.0ZM277.8,697.5L277.9,694.6L279.6,695.2ZM284.5,698.3L283.8,695.4L285.7,695.5ZM291.3,698.1L290.0,695.4L291.8,695.1ZM298.2,698.0L296.2,695.6L297.9,694.9ZM304.9,696.4L302.4,694.9L303.8,693.7ZM310.1,694.4L307.8,693.8L308.8,692.4ZM314.0,692.8L312.3,692.8L313.0,691.5ZM258.0,697.4L258.9,696.0L259.6,697.0ZM262.4,698.4L263.0,696.9L263.9,697.9ZM267.3,699.5L267.7,697.7L268.9,698.7ZM272.8,700.3L273.0,698.3L274.4,699.0ZM278.7,700.9L278.5,698.8L280.0,699.2ZM284.8,701.4L284.1,699.3L285.7,699.4ZM291.0,701.3L289.9,699.4L291.5,699.1ZM297.3,701.3L295.7,699.5L297.3,699.0ZM303.2,700.4L301.4,699.2L302.8,698.3ZM307.9,698.6L306.3,698.0L307.4,697.0ZM263.8,702.4L264.3,700.9L265.2,701.7ZM268.6,703.2L268.9,701.6L270.0,702.3ZM273.9,703.7L273.9,702.0L275.1,702.5ZM279.4,704.1L279.1,702.5L280.4,702.8ZM285.0,704.5L284.4,702.9L285.7,703.0ZM290.7,704.4L289.8,703.0L291.2,702.9ZM296.4,704.5L295.3,703.3L296.6,702.9ZM301.3,702.9L300.1,701.9L301.2,701.3Z" fill="#fff" stroke="#fff" stroke-width="0.3" stroke-linejoin="round"/>
<path d="M249.6,684.1 249.6,682.3 249.6,680.4 249.7,678.6 249.9,676.7 250.2,674.7 250.6,672.8 251.2,670.8 251.8,668.7 252.6,666.6 253.5,664.6 254.4,662.5 255.3,660.5 256.4,658.5 257.5,656.5 258.7,654.6 259.9,652.7 261.2,650.9 262.5,649.2 263.9,647.7 265.4,646.2 266.9,644.8 268.5,643.5 270.1,642.4 271.8,641.4 273.4,640.6 275.1,639.9 276.8,639.4 278.5,639.0 280.3,638.6 282.0,638.3 283.7,638.1 285.5,638.0 287.2,638.0 288.9,638.0 290.6,638.2 292.3,638.3 293.8,638.6 295.4,639.0 296.9,639.4 298.4,639.9 299.8,640.5 301.3,641.0 302.7,641.6 304.1,642.3 305.5,642.9 306.9,643.7 308.2,644.4 309.5,645.1 310.7,645.8 311.9,646.5 313.0,647.3 314.1,648.0 315.2,648.8 316.2,649.6 317.3,650.5 318.3,651.4 319.2,652.3 320.1,653.3 321.0,654.3 321.8,655.4 322.5,656.5 323.2,657.6 323.9,658.8 324.5,660.0 325.0,661.3 325.5,662.5 325.8,663.8 326.1,665.2 326.4,666.5 326.5,667.9 326.6,669.3 326.5,670.7 326.3,672.2 326.0,673.7 325.6,675.3 325.2,676.9 324.6,678.4 324.0,680.0 323.4,681.5 322.8,683.1 322.0,684.6 321.2,686.2 320.3,687.7 319.3,689.2 318.2,690.6 316.9,692.0 315.6,693.4 314.1,694.8 312.6,696.1 311.1,697.4 309.5,698.7 307.9,699.9 306.2,701.2 304.4,702.4 302.7,703.5 300.9,704.6 299.0,705.6 297.2,706.5 295.3,707.4 293.4,708.2 291.5,709.0 289.6,709.7 287.7,710.4 285.8,711.1 284.0,711.8 282.1,712.3 280.2,712.6 278.3,712.8 276.4,712.7 274.5,712.4 272.5,711.9 270.6,711.3 268.8,710.5 267.0,709.7 265.3,708.8 263.7,707.6 262.1,706.4 260.6,705.1 259.1,703.8 257.8,702.5 256.6,701.2 255.4,699.9 254.3,698.6 253.3,697.2 252.4,695.8 251.7,694.3 251.0,692.7 250.6,691.1 250.2,689.4 249.9,687.6 249.7,685.9Z" fill="none" stroke="#00ee00" stroke-width="1.7" stroke-linejoin="round"/>
</g>
<rect x="213.4" y="589.8" width="163.2" height="162.6" fill="none" stroke="#000" stroke-width="1.45"/>
<text x="197.5" y="599.0" font-size="20" font-weight="bold" fill="#000" textLength="12.2" lengthAdjust="spacingAndGlyphs">y</text>
<text x="377.3" y="768.7" font-size="22" stroke="#000" stroke-width="0.55" text-anchor="end" fill="#000" textLength="12.2" lengthAdjust="spacingAndGlyphs">x</text>
<g fill="#fff">
<g stroke="#fff" stroke-width="0.45" stroke-linejoin="round">
<text x="227.7" y="609.1" font-size="15" textLength="6.6" lengthAdjust="spacingAndGlyphs">t</text>
<text x="235.6" y="609.1" font-size="15" textLength="13.6" lengthAdjust="spacingAndGlyphs">=</text>
<text x="250.7" y="609.1" font-size="15" textLength="43.4" lengthAdjust="spacingAndGlyphs">7.694</text>
</g>
<text x="294.1" y="609.1" font-size="16.5" font-style="italic" textLength="11.3" lengthAdjust="spacingAndGlyphs">ω</text>
<text x="306.1" y="614.5" font-size="12" stroke="#fff" stroke-width="0.3" textLength="6.8" lengthAdjust="spacingAndGlyphs">a</text>
<text x="307.6" y="603.1" font-size="11" textLength="9" lengthAdjust="spacingAndGlyphs">−</text>
<text x="318.4" y="603.8" font-size="10.5" font-weight="bold" textLength="6.2" lengthAdjust="spacingAndGlyphs">1</text>
<text x="374.1" y="610.4" font-size="24" text-anchor="end">)</text>
<text transform="translate(366.1,609.2) scale(1.13,1)" font-size="22" font-weight="bold" text-anchor="end">k</text>
</g>
<rect x="599.3" y="26.3" width="9.6" height="137.6" fill="url(#cb)" stroke="#000" stroke-width="0.9"/>
<text x="595.9" y="15.2" font-size="22" font-weight="bold" fill="#000" textLength="13.5" lengthAdjust="spacingAndGlyphs">T</text><text x="611" y="15.2" font-size="22" fill="#000">,</text><text x="619.6" y="15.2" font-size="22" font-weight="bold" fill="#000" textLength="14.5" lengthAdjust="spacingAndGlyphs">p</text>
<text x="614.6" y="41.7" font-size="22" font-weight="bold" fill="#000" textLength="10.5" lengthAdjust="spacingAndGlyphs">1</text>
<text x="614.8" y="163.3" font-size="22" font-weight="bold" fill="#000" textLength="11.6" lengthAdjust="spacingAndGlyphs">0</text>
<g fill="none" stroke="#000">
<rect x="434.0" y="590.5" width="161.0" height="161.2" stroke-width="1.15"/>
<path d="M474.4,751.7v-2.2M474.4,590.5v2.2M514.4,751.7v-2.2M514.4,590.5v2.2M554.6,751.7v-2.2M554.6,590.5v2.2M434.0,622.5h2.2M595.0,622.5h-2.2M434.0,654.8h2.2M595.0,654.8h-2.2M434.0,687.1h2.2M595.0,687.1h-2.2M434.0,719.4h2.2M595.0,719.4h-2.2" stroke-width="0.9"/>
<path d="M524.7,592.8H592.4V662.3H524.7Z M524.7,662.3L513.3,669.8" stroke="#a8a8a8" stroke-width="0.9"/>
<path d="M467.8,635.5 L466.2,642.0 L465.0,648.7 L464.0,659.1 L465.5,667.6 L468.8,674.3 L472.6,678.4 L481.1,681.8 L494.3,684.1 L504.7,680.5 L510.0,675.8 L512.9,670.8" stroke-width="1.5" stroke-linejoin="round" stroke-linecap="round"/>
<path d="M512.9,670.2 L513.7,671.1 L514.9,672.4 L516.3,674.0 L517.7,675.7 L519.2,677.6 L520.9,679.6 L522.7,681.9 L524.3,684.2 L525.9,686.7 L527.4,689.3 L528.8,692.0 L530.0,694.6 L531.0,697.0 L531.8,699.4 L532.4,701.7 L532.8,704.1 L532.9,706.5 L532.8,708.9 L532.5,711.2 L531.9,713.6 L531.1,716.0 L530.0,718.3 L528.7,720.6 L527.1,723.0 L525.3,725.4 L523.1,727.9 L520.9,730.3 L518.6,732.5 L516.2,734.6 L513.8,736.6 L511.4,738.4 L509.1,740.0 L507.1,741.3 L505.2,742.3 L503.4,743.1 L501.6,743.9 L499.7,744.6 L497.7,745.3 L495.7,745.8 L494.0,746.3 L492.4,746.7 L490.8,747.0 L489.5,747.2 L488.6,747.4" stroke-width="1.5" stroke-linejoin="round" stroke-linecap="round"/>
<path d="M567.6,659.5 L565.3,654.0 L562.1,645.3 L556.3,631.9 L546.3,613.0 L538.9,599.6 L537.6,596.3 L538.0,594.8 L539.6,595.0 L550.3,604.3 L555.8,611.4 L563.2,620.1 L568.4,627.2 L570.8,629.5 L587.3,645.8" stroke-width="0.75" stroke-linejoin="round"/>
</g>
<path d="M512.9,669.3l1.8,3.2l-3.4,0.6z" fill="#000" stroke="#000" stroke-width="0.8"/>
<g fill="#000"><circle cx="566.1" cy="655.9" r="0.95"/><circle cx="562.6" cy="646.1" r="0.95"/><circle cx="561.8" cy="643.7" r="0.95"/><circle cx="556.3" cy="632.2" r="0.95"/><circle cx="546.3" cy="613.0" r="0.95"/><circle cx="538.9" cy="600.0" r="0.95"/><circle cx="538.0" cy="594.8" r="0.95"/><circle cx="550.3" cy="604.3" r="0.95"/><circle cx="555.8" cy="611.4" r="0.95"/><circle cx="563.2" cy="620.1" r="0.95"/><circle cx="568.4" cy="627.2" r="0.95"/></g>
<g font-size="10.3" fill="#111">
<text x="530.6" y="597.2">g</text>
<text x="531.6" y="608.0">f</text>
<text x="540.2" y="620.9">e</text>
<text x="548.0" y="637.4">d</text>
<text x="553.2" y="647.7">c</text>
<text x="565.4" y="650.5">b</text>
<text x="557.6" y="659.2">a</text>
<text x="549.1" y="602.2">h</text>
<text x="557.1" y="610.6">i</text>
<text x="565.8" y="620.0">j</text>
<text x="570.9" y="627.0">k</text>
</g>
<text x="578.3" y="609.2" font-size="22" font-weight="bold" fill="#000">l</text>
<text x="584.6" y="609.6" font-size="24" fill="#000">)</text>
<g font-size="13" fill="#000">
<text x="405.8" y="626.9" textLength="20.4" lengthAdjust="spacingAndGlyphs">0.2</text>
<text x="418.8" y="659.2" textLength="7.4" lengthAdjust="spacingAndGlyphs">0</text>
<text x="398.9" y="691.5" textLength="27.3" lengthAdjust="spacingAndGlyphs">-0.2</text>
<text x="398.9" y="723.8" textLength="27.3" lengthAdjust="spacingAndGlyphs">-0.4</text>
<text x="459.3" y="769" textLength="27.0" lengthAdjust="spacingAndGlyphs">-0.4</text>
<text x="499.7" y="769" textLength="27.3" lengthAdjust="spacingAndGlyphs">-0.2</text>
<text x="550.3" y="769" textLength="7.2" lengthAdjust="spacingAndGlyphs">0</text>
</g>
<text x="395.6" y="600.4" font-size="20" font-weight="bold" fill="#000" textLength="12.2" lengthAdjust="spacingAndGlyphs">y</text>
<text x="404.6" y="603.6" font-size="27" fill="#000" textLength="10" lengthAdjust="spacingAndGlyphs">/</text>
<text x="412.8" y="603" font-size="22" font-weight="bold" fill="#000" textLength="12.4" lengthAdjust="spacingAndGlyphs">λ</text>
<text x="582.5" y="768.8" font-size="22" stroke="#000" stroke-width="0.55" fill="#000" textLength="12" lengthAdjust="spacingAndGlyphs">x</text>
<text x="593.6" y="769.8" font-size="27" fill="#000" textLength="10" lengthAdjust="spacingAndGlyphs">/</text>
<text x="601" y="768.8" font-size="22" font-weight="bold" fill="#000" textLength="12.4" lengthAdjust="spacingAndGlyphs">λ</text>
</svg></body></html>
